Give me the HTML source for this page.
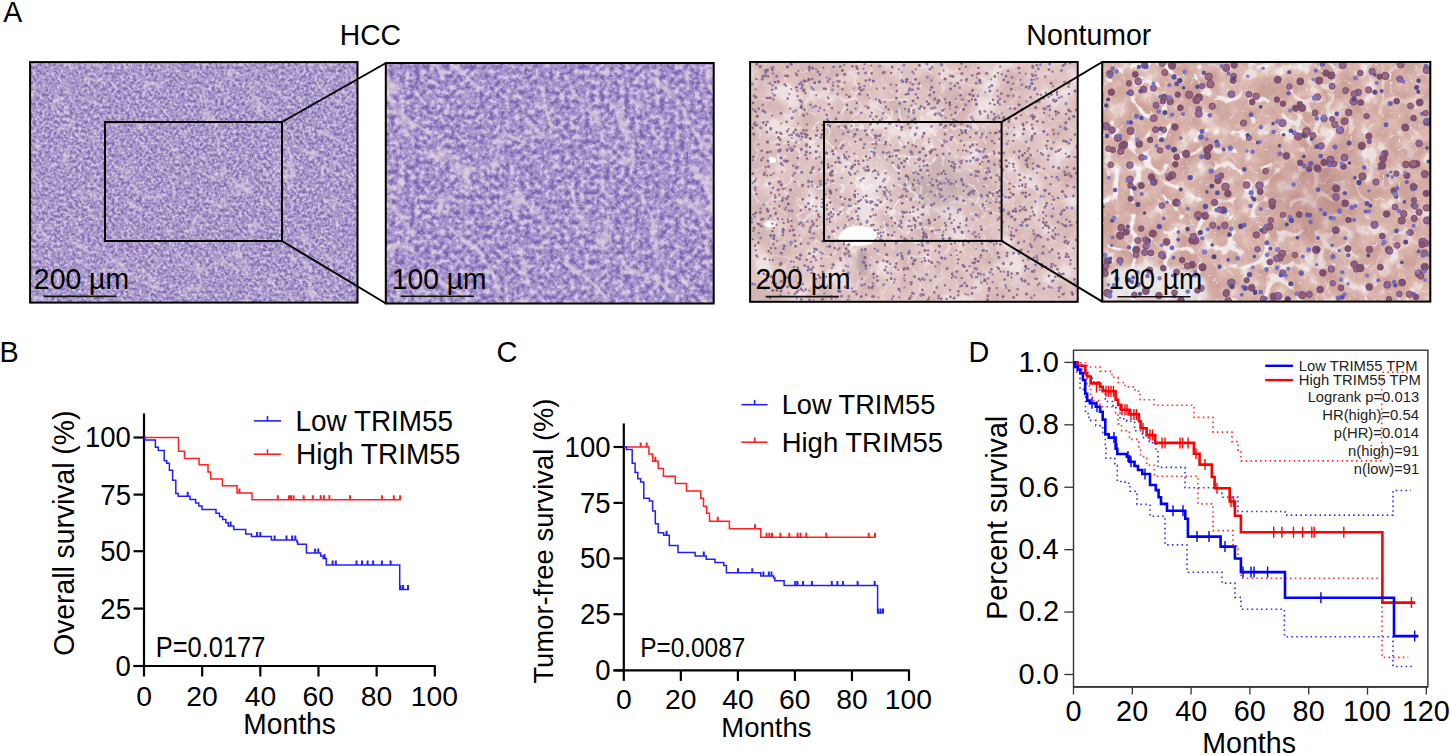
<!DOCTYPE html>
<html><head><meta charset="utf-8"><title>Figure</title>
<style>html,body{margin:0;padding:0;background:#fff;} svg{display:block;} text{font-family:"Liberation Sans",sans-serif;}</style>
</head><body>
<svg width="1450" height="755" viewBox="0 0 1450 755" font-family="Liberation Sans, sans-serif">
<defs>
<clipPath id="clip_i1"><rect x="30.1" y="62.1" width="327.4" height="240.5"/></clipPath>
<clipPath id="clip_i2"><rect x="385.8" y="63" width="327.9" height="240.5"/></clipPath>
<clipPath id="clip_i3"><rect x="750.1" y="62" width="327.6" height="239.8"/></clipPath>
<clipPath id="clip_i4"><rect x="1102.2" y="62" width="328.1" height="239.6"/></clipPath>
<filter id="h1a" x="0" y="0" width="100%" height="100%" color-interpolation-filters="sRGB" filterUnits="objectBoundingBox">
<feTurbulence type="fractalNoise" baseFrequency="0.33" numOctaves="2" seed="7"/>
<feColorMatrix type="matrix" values="1 0 0 0 0 1 0 0 0 0 1 0 0 0 0 1 0 0 0 0"/>
<feComponentTransfer><feFuncR type="table" tableValues="0.502 0.502 0.502 0.502 0.502 0.502 0.502 0.502 0.502 0.502 0.502 0.502 0.502 0.523 0.544 0.565 0.586 0.607 0.627 0.640 0.652 0.665 0.677 0.697 0.722 0.746 0.771 0.795 0.820 0.839 0.839 0.839 0.839 0.839 0.839 0.839 0.839 0.839 0.839 0.839 0.839"/><feFuncG type="table" tableValues="0.424 0.424 0.424 0.424 0.424 0.424 0.424 0.424 0.424 0.424 0.424 0.424 0.424 0.447 0.471 0.494 0.518 0.541 0.565 0.578 0.591 0.605 0.618 0.639 0.664 0.689 0.714 0.739 0.764 0.784 0.784 0.784 0.784 0.784 0.784 0.784 0.784 0.784 0.784 0.784 0.784"/><feFuncB type="table" tableValues="0.690 0.690 0.690 0.690 0.690 0.690 0.690 0.690 0.690 0.690 0.690 0.690 0.690 0.706 0.722 0.737 0.753 0.769 0.784 0.791 0.797 0.803 0.809 0.818 0.828 0.839 0.849 0.860 0.870 0.878 0.878 0.878 0.878 0.878 0.878 0.878 0.878 0.878 0.878 0.878 0.878"/><feFuncA type="table" tableValues="1.000 1.000 1.000 1.000 1.000 1.000 1.000 1.000 1.000 1.000 1.000 1.000 1.000 1.000 1.000 1.000 1.000 1.000 1.000 1.000 1.000 1.000 1.000 1.000 1.000 1.000 1.000 1.000 1.000 1.000 1.000 1.000 1.000 1.000 1.000 1.000 1.000 1.000 1.000 1.000 1.000"/></feComponentTransfer>
</filter>
<filter id="h1b" x="0" y="0" width="100%" height="100%" color-interpolation-filters="sRGB" filterUnits="objectBoundingBox">
<feTurbulence type="turbulence" baseFrequency="0.022 0.05" numOctaves="2" seed="3"/>
<feColorMatrix type="matrix" values="1 0 0 0 0 1 0 0 0 0 1 0 0 0 0 1 0 0 0 0"/>
<feComponentTransfer><feFuncR type="table" tableValues="0.886 0.886 0.886 0.886 0.886 0.886 0.886 0.886 0.886 0.886 0.886 0.886 0.886 0.886 0.886 0.886 0.886 0.886 0.886 0.886 0.886 0.886 0.886 0.886 0.886 0.886 0.886 0.886 0.886 0.886 0.886 0.886 0.886 0.886 0.886 0.886 0.886 0.886 0.886 0.886 0.886"/><feFuncG type="table" tableValues="0.816 0.816 0.816 0.825 0.835 0.839 0.839 0.839 0.839 0.839 0.839 0.839 0.839 0.839 0.839 0.839 0.839 0.839 0.839 0.839 0.839 0.839 0.839 0.839 0.839 0.839 0.839 0.839 0.839 0.839 0.839 0.839 0.839 0.839 0.839 0.839 0.839 0.839 0.839 0.839 0.839"/><feFuncB type="table" tableValues="0.871 0.871 0.871 0.874 0.877 0.878 0.878 0.878 0.878 0.878 0.878 0.878 0.878 0.878 0.878 0.878 0.878 0.878 0.878 0.878 0.878 0.878 0.878 0.878 0.878 0.878 0.878 0.878 0.878 0.878 0.878 0.878 0.878 0.878 0.878 0.878 0.878 0.878 0.878 0.878 0.878"/><feFuncA type="table" tableValues="0.750 0.625 0.500 0.292 0.083 0.000 0.000 0.000 0.000 0.000 0.000 0.000 0.000 0.000 0.000 0.000 0.000 0.000 0.000 0.000 0.000 0.000 0.000 0.000 0.000 0.000 0.000 0.000 0.000 0.000 0.000 0.000 0.000 0.000 0.000 0.000 0.000 0.000 0.000 0.000 0.000"/></feComponentTransfer>
</filter>
<filter id="h1d" x="0" y="0" width="100%" height="100%" color-interpolation-filters="sRGB" filterUnits="objectBoundingBox">
<feTurbulence type="turbulence" baseFrequency="0.16" numOctaves="2" seed="43"/>
<feColorMatrix type="matrix" values="1 0 0 0 0 1 0 0 0 0 1 0 0 0 0 1 0 0 0 0"/>
<feComponentTransfer><feFuncR type="table" tableValues="0.863 0.863 0.863 0.863 0.863 0.863 0.863 0.863 0.863 0.863 0.863 0.863 0.863 0.863 0.863 0.863 0.863 0.863 0.863 0.863 0.863 0.863 0.863 0.863 0.863 0.863 0.863 0.863 0.863 0.863 0.863 0.863 0.863 0.863 0.863 0.863 0.863 0.863 0.863 0.863 0.863"/><feFuncG type="table" tableValues="0.808 0.808 0.808 0.808 0.808 0.808 0.808 0.808 0.808 0.808 0.808 0.808 0.808 0.808 0.808 0.808 0.808 0.808 0.808 0.808 0.808 0.808 0.808 0.808 0.808 0.808 0.808 0.808 0.808 0.808 0.808 0.808 0.808 0.808 0.808 0.808 0.808 0.808 0.808 0.808 0.808"/><feFuncB type="table" tableValues="0.871 0.871 0.871 0.871 0.871 0.871 0.871 0.871 0.871 0.871 0.871 0.871 0.871 0.871 0.871 0.871 0.871 0.871 0.871 0.871 0.871 0.871 0.871 0.871 0.871 0.871 0.871 0.871 0.871 0.871 0.871 0.871 0.871 0.871 0.871 0.871 0.871 0.871 0.871 0.871 0.871"/><feFuncA type="table" tableValues="0.600 0.475 0.300 0.050 0.000 0.000 0.000 0.000 0.000 0.000 0.000 0.000 0.000 0.000 0.000 0.000 0.000 0.000 0.000 0.000 0.000 0.000 0.000 0.000 0.000 0.000 0.000 0.000 0.000 0.000 0.000 0.000 0.000 0.000 0.000 0.000 0.000 0.000 0.000 0.000 0.000"/></feComponentTransfer>
</filter>
<filter id="h1c" x="0" y="0" width="100%" height="100%" color-interpolation-filters="sRGB" filterUnits="objectBoundingBox">
<feTurbulence type="fractalNoise" baseFrequency="0.5" numOctaves="1" seed="17"/>
<feColorMatrix type="matrix" values="1 0 0 0 0 1 0 0 0 0 1 0 0 0 0 1 0 0 0 0"/>
<feComponentTransfer><feFuncR type="table" tableValues="0.353 0.357 0.362 0.366 0.371 0.375 0.380 0.384 0.389 0.390 0.377 0.365 0.352 0.339 0.327 0.314 0.302 0.289 0.277 0.264 0.251 0.239 0.226 0.214 0.201 0.189 0.176 0.163 0.151 0.138 0.126 0.113 0.101 0.088 0.075 0.063 0.050 0.038 0.025 0.013 0.000"/><feFuncG type="table" tableValues="0.275 0.279 0.283 0.288 0.292 0.297 0.301 0.306 0.310 0.312 0.302 0.292 0.282 0.271 0.261 0.251 0.241 0.231 0.221 0.211 0.201 0.191 0.181 0.171 0.161 0.151 0.141 0.131 0.121 0.111 0.101 0.090 0.080 0.070 0.060 0.050 0.040 0.030 0.020 0.010 0.000"/><feFuncB type="table" tableValues="0.471 0.475 0.480 0.484 0.488 0.493 0.497 0.502 0.506 0.507 0.490 0.474 0.458 0.441 0.425 0.408 0.392 0.376 0.359 0.343 0.327 0.310 0.294 0.278 0.261 0.245 0.229 0.212 0.196 0.180 0.163 0.147 0.131 0.114 0.098 0.082 0.065 0.049 0.033 0.016 0.000"/><feFuncA type="table" tableValues="0.900 0.798 0.695 0.593 0.491 0.389 0.286 0.184 0.082 0.000 0.000 0.000 0.000 0.000 0.000 0.000 0.000 0.000 0.000 0.000 0.000 0.000 0.000 0.000 0.000 0.000 0.000 0.000 0.000 0.000 0.000 0.000 0.000 0.000 0.000 0.000 0.000 0.000 0.000 0.000 0.000"/></feComponentTransfer>
</filter>
<filter id="h2a" x="0" y="0" width="100%" height="100%" color-interpolation-filters="sRGB" filterUnits="objectBoundingBox">
<feTurbulence type="fractalNoise" baseFrequency="0.2" numOctaves="2" seed="11"/>
<feColorMatrix type="matrix" values="1 0 0 0 0 1 0 0 0 0 1 0 0 0 0 1 0 0 0 0"/>
<feComponentTransfer><feFuncR type="table" tableValues="0.486 0.486 0.486 0.486 0.486 0.486 0.486 0.486 0.486 0.486 0.486 0.486 0.486 0.508 0.529 0.551 0.573 0.594 0.616 0.630 0.644 0.658 0.673 0.694 0.719 0.744 0.769 0.794 0.819 0.839 0.839 0.839 0.839 0.839 0.839 0.839 0.839 0.839 0.839 0.839 0.839"/><feFuncG type="table" tableValues="0.408 0.408 0.408 0.408 0.408 0.408 0.408 0.408 0.408 0.408 0.408 0.408 0.408 0.431 0.455 0.478 0.502 0.525 0.549 0.564 0.579 0.594 0.610 0.631 0.658 0.684 0.711 0.737 0.763 0.784 0.784 0.784 0.784 0.784 0.784 0.784 0.784 0.784 0.784 0.784 0.784"/><feFuncB type="table" tableValues="0.698 0.698 0.698 0.698 0.698 0.698 0.698 0.698 0.698 0.698 0.698 0.698 0.698 0.712 0.727 0.741 0.756 0.770 0.784 0.791 0.799 0.806 0.813 0.822 0.833 0.844 0.855 0.866 0.877 0.886 0.886 0.886 0.886 0.886 0.886 0.886 0.886 0.886 0.886 0.886 0.886"/><feFuncA type="table" tableValues="1.000 1.000 1.000 1.000 1.000 1.000 1.000 1.000 1.000 1.000 1.000 1.000 1.000 1.000 1.000 1.000 1.000 1.000 1.000 1.000 1.000 1.000 1.000 1.000 1.000 1.000 1.000 1.000 1.000 1.000 1.000 1.000 1.000 1.000 1.000 1.000 1.000 1.000 1.000 1.000 1.000"/></feComponentTransfer>
</filter>
<filter id="h2b" x="0" y="0" width="100%" height="100%" color-interpolation-filters="sRGB" filterUnits="objectBoundingBox">
<feTurbulence type="turbulence" baseFrequency="0.012 0.028" numOctaves="2" seed="5"/>
<feColorMatrix type="matrix" values="1 0 0 0 0 1 0 0 0 0 1 0 0 0 0 1 0 0 0 0"/>
<feComponentTransfer><feFuncR type="table" tableValues="0.894 0.894 0.894 0.894 0.894 0.894 0.894 0.894 0.894 0.894 0.894 0.894 0.894 0.894 0.894 0.894 0.894 0.894 0.894 0.894 0.894 0.894 0.894 0.894 0.894 0.894 0.894 0.894 0.894 0.894 0.894 0.894 0.894 0.894 0.894 0.894 0.894 0.894 0.894 0.894 0.894"/><feFuncG type="table" tableValues="0.824 0.824 0.824 0.833 0.843 0.847 0.847 0.847 0.847 0.847 0.847 0.847 0.847 0.847 0.847 0.847 0.847 0.847 0.847 0.847 0.847 0.847 0.847 0.847 0.847 0.847 0.847 0.847 0.847 0.847 0.847 0.847 0.847 0.847 0.847 0.847 0.847 0.847 0.847 0.847 0.847"/><feFuncB type="table" tableValues="0.878 0.878 0.878 0.882 0.885 0.886 0.886 0.886 0.886 0.886 0.886 0.886 0.886 0.886 0.886 0.886 0.886 0.886 0.886 0.886 0.886 0.886 0.886 0.886 0.886 0.886 0.886 0.886 0.886 0.886 0.886 0.886 0.886 0.886 0.886 0.886 0.886 0.886 0.886 0.886 0.886"/><feFuncA type="table" tableValues="0.800 0.675 0.550 0.321 0.092 0.000 0.000 0.000 0.000 0.000 0.000 0.000 0.000 0.000 0.000 0.000 0.000 0.000 0.000 0.000 0.000 0.000 0.000 0.000 0.000 0.000 0.000 0.000 0.000 0.000 0.000 0.000 0.000 0.000 0.000 0.000 0.000 0.000 0.000 0.000 0.000"/></feComponentTransfer>
</filter>
<filter id="h2d" x="0" y="0" width="100%" height="100%" color-interpolation-filters="sRGB" filterUnits="objectBoundingBox">
<feTurbulence type="turbulence" baseFrequency="0.09" numOctaves="2" seed="41"/>
<feColorMatrix type="matrix" values="1 0 0 0 0 1 0 0 0 0 1 0 0 0 0 1 0 0 0 0"/>
<feComponentTransfer><feFuncR type="table" tableValues="0.871 0.871 0.871 0.871 0.871 0.871 0.871 0.871 0.871 0.871 0.871 0.871 0.871 0.871 0.871 0.871 0.871 0.871 0.871 0.871 0.871 0.871 0.871 0.871 0.871 0.871 0.871 0.871 0.871 0.871 0.871 0.871 0.871 0.871 0.871 0.871 0.871 0.871 0.871 0.871 0.871"/><feFuncG type="table" tableValues="0.816 0.816 0.816 0.816 0.816 0.816 0.816 0.816 0.816 0.816 0.816 0.816 0.816 0.816 0.816 0.816 0.816 0.816 0.816 0.816 0.816 0.816 0.816 0.816 0.816 0.816 0.816 0.816 0.816 0.816 0.816 0.816 0.816 0.816 0.816 0.816 0.816 0.816 0.816 0.816 0.816"/><feFuncB type="table" tableValues="0.878 0.878 0.878 0.878 0.878 0.878 0.878 0.878 0.878 0.878 0.878 0.878 0.878 0.878 0.878 0.878 0.878 0.878 0.878 0.878 0.878 0.878 0.878 0.878 0.878 0.878 0.878 0.878 0.878 0.878 0.878 0.878 0.878 0.878 0.878 0.878 0.878 0.878 0.878 0.878 0.878"/><feFuncA type="table" tableValues="0.700 0.544 0.337 0.056 0.000 0.000 0.000 0.000 0.000 0.000 0.000 0.000 0.000 0.000 0.000 0.000 0.000 0.000 0.000 0.000 0.000 0.000 0.000 0.000 0.000 0.000 0.000 0.000 0.000 0.000 0.000 0.000 0.000 0.000 0.000 0.000 0.000 0.000 0.000 0.000 0.000"/></feComponentTransfer>
</filter>
<filter id="h2c" x="0" y="0" width="100%" height="100%" color-interpolation-filters="sRGB" filterUnits="objectBoundingBox">
<feTurbulence type="fractalNoise" baseFrequency="0.25" numOctaves="1" seed="19"/>
<feColorMatrix type="matrix" values="1 0 0 0 0 1 0 0 0 0 1 0 0 0 0 1 0 0 0 0"/>
<feComponentTransfer><feFuncR type="table" tableValues="0.314 0.324 0.333 0.343 0.353 0.363 0.373 0.382 0.392 0.380 0.368 0.355 0.343 0.331 0.319 0.306 0.294 0.282 0.270 0.257 0.245 0.233 0.221 0.208 0.196 0.184 0.172 0.159 0.147 0.135 0.123 0.110 0.098 0.086 0.074 0.061 0.049 0.037 0.025 0.012 0.000"/><feFuncG type="table" tableValues="0.235 0.245 0.255 0.265 0.275 0.284 0.294 0.304 0.314 0.304 0.294 0.284 0.275 0.265 0.255 0.245 0.235 0.225 0.216 0.206 0.196 0.186 0.176 0.167 0.157 0.147 0.137 0.127 0.118 0.108 0.098 0.088 0.078 0.069 0.059 0.049 0.039 0.029 0.020 0.010 0.000"/><feFuncB type="table" tableValues="0.510 0.520 0.529 0.539 0.549 0.559 0.569 0.578 0.588 0.570 0.551 0.533 0.515 0.496 0.478 0.460 0.441 0.423 0.404 0.386 0.368 0.349 0.331 0.313 0.294 0.276 0.257 0.239 0.221 0.202 0.184 0.165 0.147 0.129 0.110 0.092 0.074 0.055 0.037 0.018 0.000"/><feFuncA type="table" tableValues="0.900 0.787 0.675 0.562 0.450 0.338 0.225 0.113 0.000 0.000 0.000 0.000 0.000 0.000 0.000 0.000 0.000 0.000 0.000 0.000 0.000 0.000 0.000 0.000 0.000 0.000 0.000 0.000 0.000 0.000 0.000 0.000 0.000 0.000 0.000 0.000 0.000 0.000 0.000 0.000 0.000"/></feComponentTransfer>
</filter>
<filter id="t3a" x="0" y="0" width="100%" height="100%" color-interpolation-filters="sRGB" filterUnits="objectBoundingBox">
<feTurbulence type="fractalNoise" baseFrequency="0.035" numOctaves="3" seed="5"/>
<feColorMatrix type="matrix" values="1 0 0 0 0 1 0 0 0 0 1 0 0 0 0 1 0 0 0 0"/>
<feComponentTransfer><feFuncR type="table" tableValues="0.831 0.831 0.831 0.831 0.831 0.831 0.831 0.831 0.831 0.831 0.831 0.831 0.831 0.837 0.843 0.849 0.854 0.860 0.866 0.871 0.875 0.878 0.882 0.886 0.892 0.900 0.907 0.914 0.922 0.929 0.933 0.933 0.933 0.933 0.933 0.933 0.933 0.933 0.933 0.933 0.933"/><feFuncG type="table" tableValues="0.714 0.714 0.714 0.714 0.714 0.714 0.714 0.714 0.714 0.714 0.714 0.714 0.714 0.721 0.728 0.734 0.741 0.748 0.755 0.762 0.767 0.773 0.778 0.783 0.797 0.813 0.829 0.845 0.861 0.877 0.886 0.886 0.886 0.886 0.886 0.886 0.886 0.886 0.886 0.886 0.886"/><feFuncB type="table" tableValues="0.706 0.706 0.706 0.706 0.706 0.706 0.706 0.706 0.706 0.706 0.706 0.706 0.706 0.713 0.720 0.727 0.734 0.740 0.747 0.754 0.759 0.765 0.770 0.775 0.790 0.807 0.825 0.842 0.859 0.876 0.886 0.886 0.886 0.886 0.886 0.886 0.886 0.886 0.886 0.886 0.886"/><feFuncA type="table" tableValues="1.000 1.000 1.000 1.000 1.000 1.000 1.000 1.000 1.000 1.000 1.000 1.000 1.000 1.000 1.000 1.000 1.000 1.000 1.000 1.000 1.000 1.000 1.000 1.000 1.000 1.000 1.000 1.000 1.000 1.000 1.000 1.000 1.000 1.000 1.000 1.000 1.000 1.000 1.000 1.000 1.000"/></feComponentTransfer>
</filter>
<filter id="t3b" x="0" y="0" width="100%" height="100%" color-interpolation-filters="sRGB" filterUnits="objectBoundingBox">
<feTurbulence type="turbulence" baseFrequency="0.07" numOctaves="2" seed="23"/>
<feColorMatrix type="matrix" values="1 0 0 0 0 1 0 0 0 0 1 0 0 0 0 1 0 0 0 0"/>
<feComponentTransfer><feFuncR type="table" tableValues="0.965 0.965 0.965 0.965 0.962 0.959 0.957 0.957 0.957 0.958 0.958 0.958 0.958 0.959 0.959 0.959 0.959 0.959 0.960 0.960 0.960 0.960 0.961 0.961 0.961 0.961 0.962 0.962 0.962 0.962 0.962 0.963 0.963 0.963 0.963 0.964 0.964 0.964 0.964 0.964 0.965"/><feFuncG type="table" tableValues="0.957 0.957 0.957 0.957 0.954 0.951 0.949 0.949 0.950 0.950 0.950 0.950 0.950 0.951 0.951 0.951 0.951 0.952 0.952 0.952 0.952 0.953 0.953 0.953 0.953 0.953 0.954 0.954 0.954 0.954 0.955 0.955 0.955 0.955 0.955 0.956 0.956 0.956 0.956 0.957 0.957"/><feFuncB type="table" tableValues="0.965 0.965 0.965 0.965 0.962 0.959 0.957 0.957 0.957 0.958 0.958 0.958 0.958 0.959 0.959 0.959 0.959 0.959 0.960 0.960 0.960 0.960 0.961 0.961 0.961 0.961 0.962 0.962 0.962 0.962 0.962 0.963 0.963 0.963 0.963 0.964 0.964 0.964 0.964 0.964 0.965"/><feFuncA type="table" tableValues="0.950 0.887 0.825 0.762 0.500 0.188 0.000 0.000 0.000 0.000 0.000 0.000 0.000 0.000 0.000 0.000 0.000 0.000 0.000 0.000 0.000 0.000 0.000 0.000 0.000 0.000 0.000 0.000 0.000 0.000 0.000 0.000 0.000 0.000 0.000 0.000 0.000 0.000 0.000 0.000 0.000"/></feComponentTransfer>
</filter>
<radialGradient id="g3m" cx="0.42" cy="0.45" r="0.6"><stop offset="0" stop-color="#fff" stop-opacity="1"/><stop offset="0.35" stop-color="#fff" stop-opacity="0.8"/><stop offset="1" stop-color="#fff" stop-opacity="0.15"/></radialGradient>
<mask id="m3" maskUnits="userSpaceOnUse" x="745" y="58" width="340" height="250"><rect x="745" y="58" width="340" height="250" fill="url(#g3m)"/></mask>
<filter id="blur6" x="-50%" y="-50%" width="200%" height="200%"><feGaussianBlur stdDeviation="10"/></filter>
<filter id="t4a" x="0" y="0" width="100%" height="100%" color-interpolation-filters="sRGB" filterUnits="objectBoundingBox">
<feTurbulence type="fractalNoise" baseFrequency="0.05" numOctaves="3" seed="9"/>
<feColorMatrix type="matrix" values="1 0 0 0 0 1 0 0 0 0 1 0 0 0 0 1 0 0 0 0"/>
<feComponentTransfer><feFuncR type="table" tableValues="0.804 0.804 0.804 0.804 0.804 0.804 0.804 0.804 0.804 0.804 0.804 0.804 0.804 0.809 0.814 0.819 0.824 0.828 0.833 0.838 0.843 0.848 0.853 0.858 0.863 0.869 0.881 0.893 0.905 0.917 0.929 0.929 0.929 0.929 0.929 0.929 0.929 0.929 0.929 0.929 0.929"/><feFuncG type="table" tableValues="0.639 0.639 0.639 0.639 0.639 0.639 0.639 0.639 0.639 0.639 0.639 0.639 0.639 0.646 0.653 0.660 0.667 0.674 0.680 0.687 0.694 0.702 0.710 0.719 0.727 0.739 0.767 0.795 0.823 0.851 0.878 0.878 0.878 0.878 0.878 0.878 0.878 0.878 0.878 0.878 0.878"/><feFuncB type="table" tableValues="0.608 0.608 0.608 0.608 0.608 0.608 0.608 0.608 0.608 0.608 0.608 0.608 0.608 0.615 0.622 0.628 0.635 0.642 0.649 0.656 0.663 0.672 0.681 0.690 0.699 0.712 0.743 0.774 0.805 0.836 0.867 0.867 0.867 0.867 0.867 0.867 0.867 0.867 0.867 0.867 0.867"/><feFuncA type="table" tableValues="1.000 1.000 1.000 1.000 1.000 1.000 1.000 1.000 1.000 1.000 1.000 1.000 1.000 1.000 1.000 1.000 1.000 1.000 1.000 1.000 1.000 1.000 1.000 1.000 1.000 1.000 1.000 1.000 1.000 1.000 1.000 1.000 1.000 1.000 1.000 1.000 1.000 1.000 1.000 1.000 1.000"/></feComponentTransfer>
</filter>
<filter id="t4b" x="0" y="0" width="100%" height="100%" color-interpolation-filters="sRGB" filterUnits="objectBoundingBox">
<feTurbulence type="turbulence" baseFrequency="0.03" numOctaves="2" seed="3"/>
<feColorMatrix type="matrix" values="1 0 0 0 0 1 0 0 0 0 1 0 0 0 0 1 0 0 0 0"/>
<feComponentTransfer><feFuncR type="table" tableValues="0.965 0.965 0.965 0.964 0.960 0.957 0.956 0.956 0.955 0.955 0.955 0.954 0.954 0.953 0.953 0.952 0.952 0.951 0.951 0.951 0.950 0.950 0.949 0.949 0.948 0.948 0.947 0.947 0.947 0.946 0.946 0.945 0.945 0.944 0.944 0.943 0.943 0.943 0.942 0.942 0.941"/><feFuncG type="table" tableValues="0.957 0.957 0.957 0.955 0.947 0.941 0.941 0.940 0.940 0.939 0.939 0.938 0.938 0.938 0.937 0.937 0.936 0.936 0.935 0.935 0.934 0.934 0.934 0.933 0.933 0.932 0.932 0.931 0.931 0.930 0.930 0.930 0.929 0.929 0.928 0.928 0.927 0.927 0.926 0.926 0.925"/><feFuncB type="table" tableValues="0.965 0.965 0.965 0.963 0.955 0.949 0.948 0.948 0.948 0.947 0.947 0.946 0.946 0.945 0.945 0.944 0.944 0.944 0.943 0.943 0.942 0.942 0.941 0.941 0.940 0.940 0.940 0.939 0.939 0.938 0.938 0.937 0.937 0.936 0.936 0.936 0.935 0.935 0.934 0.934 0.933"/><feFuncA type="table" tableValues="1.000 0.964 0.929 0.810 0.360 0.000 0.000 0.000 0.000 0.000 0.000 0.000 0.000 0.000 0.000 0.000 0.000 0.000 0.000 0.000 0.000 0.000 0.000 0.000 0.000 0.000 0.000 0.000 0.000 0.000 0.000 0.000 0.000 0.000 0.000 0.000 0.000 0.000 0.000 0.000 0.000"/></feComponentTransfer>
</filter>
<filter id="t4c" x="0" y="0" width="100%" height="100%" color-interpolation-filters="sRGB" filterUnits="objectBoundingBox">
<feTurbulence type="turbulence" baseFrequency="0.06" numOctaves="2" seed="31"/>
<feColorMatrix type="matrix" values="1 0 0 0 0 1 0 0 0 0 1 0 0 0 0 1 0 0 0 0"/>
<feComponentTransfer><feFuncR type="table" tableValues="0.965 0.965 0.959 0.957 0.956 0.956 0.955 0.955 0.955 0.954 0.954 0.953 0.953 0.952 0.952 0.952 0.951 0.951 0.950 0.950 0.950 0.949 0.949 0.948 0.948 0.947 0.947 0.947 0.946 0.946 0.945 0.945 0.945 0.944 0.944 0.943 0.943 0.942 0.942 0.942 0.941"/><feFuncG type="table" tableValues="0.957 0.957 0.946 0.941 0.941 0.940 0.940 0.939 0.939 0.938 0.938 0.938 0.937 0.937 0.936 0.936 0.936 0.935 0.935 0.934 0.934 0.933 0.933 0.933 0.932 0.932 0.931 0.931 0.930 0.930 0.930 0.929 0.929 0.928 0.928 0.928 0.927 0.927 0.926 0.926 0.925"/><feFuncB type="table" tableValues="0.965 0.965 0.954 0.949 0.948 0.948 0.948 0.947 0.947 0.946 0.946 0.945 0.945 0.945 0.944 0.944 0.943 0.943 0.943 0.942 0.942 0.941 0.941 0.940 0.940 0.940 0.939 0.939 0.938 0.938 0.938 0.937 0.937 0.936 0.936 0.935 0.935 0.935 0.934 0.934 0.933"/><feFuncA type="table" tableValues="0.700 0.450 0.133 0.000 0.000 0.000 0.000 0.000 0.000 0.000 0.000 0.000 0.000 0.000 0.000 0.000 0.000 0.000 0.000 0.000 0.000 0.000 0.000 0.000 0.000 0.000 0.000 0.000 0.000 0.000 0.000 0.000 0.000 0.000 0.000 0.000 0.000 0.000 0.000 0.000 0.000"/></feComponentTransfer>
</filter>
<linearGradient id="g4m" x1="0" y1="0" x2="1" y2="0"><stop offset="0" stop-color="#fff" stop-opacity="1"/><stop offset="0.5" stop-color="#fff" stop-opacity="0.85"/><stop offset="1" stop-color="#fff" stop-opacity="0.25"/></linearGradient>
<mask id="m4" maskUnits="userSpaceOnUse" x="1100" y="60" width="335" height="245"><rect x="1100" y="60" width="335" height="245" fill="url(#g4m)"/></mask>
<filter id="blur2" x="-20%" y="-20%" width="140%" height="140%"><feGaussianBlur stdDeviation="2"/></filter>
<filter id="nb" x="-5%" y="-5%" width="110%" height="110%"><feGaussianBlur stdDeviation="0.45"/></filter>
<filter id="nb4" x="-5%" y="-5%" width="110%" height="110%"><feGaussianBlur stdDeviation="0.6"/></filter>
</defs>
<rect width="1450" height="755" fill="#fff"/>
<g clip-path="url(#clip_i1)">
<rect x="30" y="62" width="327.5" height="240.5" fill="#a59cc6"/>
<rect x="30.1" y="62.1" width="327.4" height="240.5" filter="url(#h1a)"/>
<rect x="30.1" y="62.1" width="327.4" height="240.5" filter="url(#h1d)"/>
<rect x="-106.20000000000002" y="-117.65" width="600" height="600" filter="url(#h1b)" transform="rotate(50 193.79999999999998 182.35)"/>
<rect x="30.1" y="62.1" width="327.4" height="240.5" filter="url(#h1c)"/>
</g>
<g clip-path="url(#clip_i2)">
<rect x="386" y="63" width="327.7" height="240.5" fill="#a59cc6"/>
<rect x="385.8" y="63" width="327.9" height="240.5" filter="url(#h2a)"/>
<rect x="385.8" y="63" width="327.9" height="240.5" filter="url(#h2d)"/>
<rect x="249.75" y="-116.75" width="600" height="600" filter="url(#h2b)" transform="rotate(50 549.75 183.25)"/>
<rect x="385.8" y="63" width="327.9" height="240.5" filter="url(#h2c)"/>
</g>
<g clip-path="url(#clip_i3)">
<rect x="750" y="62" width="327.7" height="239" fill="#dcbdb5"/>
<rect x="750.1" y="62" width="327.6" height="239.8" filter="url(#t3a)"/>
<g mask="url(#m3)">
<rect x="750.1" y="62" width="327.6" height="239.8" filter="url(#t3b)"/>
</g>
<ellipse cx="940" cy="188" rx="28" ry="26" fill="#8a7a88" opacity="0.24" filter="url(#blur6)"/>
<ellipse cx="870" cy="180" rx="35" ry="30" fill="#f6f0f0" opacity="0.3" filter="url(#blur6)"/>
<path d="M838,238 Q842,226 858,226 Q876,227 880,236 Q874,246 858,246 Q842,246 838,238 Z" fill="#fcfcfc"/>
<ellipse cx="862" cy="262" rx="5" ry="13" fill="#958a98" opacity="0.55" filter="url(#blur2)"/>
<ellipse cx="772" cy="160" rx="4" ry="3" fill="#fafafa"/>
<ellipse cx="770" cy="224" rx="6" ry="3.5" fill="#fafafa"/>
</g>
<g clip-path="url(#clip_i4)">
<rect x="1102.2" y="62" width="328.1" height="239.6" fill="#d6aea5"/>
<rect x="1102.2" y="62" width="328.1" height="239.6" filter="url(#t4a)"/>
<g mask="url(#m4)">
<rect x="1102.2" y="62" width="328.1" height="239.6" filter="url(#t4b)"/>
</g>
<rect x="1102.2" y="62" width="328.1" height="239.6" filter="url(#t4c)"/>
<ellipse cx="1315" cy="195" rx="40" ry="45" fill="#a8706e" opacity="0.3" filter="url(#blur6)"/>
<path d="M1106,300 L1106,272 Q1130,262 1160,266 Q1190,268 1205,280 L1208,300 Z" fill="#ecebed" opacity="0.85" filter="url(#blur2)"/>
</g>
<g clip-path="url(#clip_i3)"><g filter="url(#nb)" opacity="0.85">
<circle cx="959.5" cy="68.9" r="1.2" fill="#7a5070"/>
<circle cx="796.5" cy="87.3" r="1.4" fill="#6a5a98"/>
<circle cx="943.5" cy="70.5" r="1.1" fill="#7a5070"/>
<circle cx="915.7" cy="69.3" r="1.1" fill="#8a6080"/>
<circle cx="822.9" cy="202.7" r="1.5" fill="#7a5a80"/>
<circle cx="998.4" cy="100.8" r="1.3" fill="#9a7090"/>
<circle cx="801.7" cy="289.9" r="1.2" fill="#6a5a98"/>
<circle cx="874.9" cy="148.1" r="1.2" fill="#9a7090"/>
<circle cx="1014.1" cy="235.9" r="1.3" fill="#8a6080"/>
<circle cx="776.7" cy="132.5" r="1.4" fill="#7068a8"/>
<circle cx="939.2" cy="230.0" r="1.0" fill="#7a5070"/>
<circle cx="1003.0" cy="296.5" r="1.5" fill="#6a5a98"/>
<circle cx="874.9" cy="170.5" r="1.5" fill="#8a5a78"/>
<circle cx="871.7" cy="112.7" r="1.2" fill="#6a5a98"/>
<circle cx="949.6" cy="103.6" r="1.4" fill="#8a5a78"/>
<circle cx="901.7" cy="127.0" r="1.6" fill="#7a5070"/>
<circle cx="974.2" cy="262.8" r="1.5" fill="#7a5070"/>
<circle cx="1018.9" cy="253.8" r="1.2" fill="#6a5a98"/>
<circle cx="819.8" cy="286.5" r="1.5" fill="#7068a8"/>
<circle cx="820.3" cy="181.3" r="1.5" fill="#7a78b8"/>
<circle cx="797.6" cy="96.1" r="1.4" fill="#9a7090"/>
<circle cx="994.5" cy="164.5" r="1.4" fill="#7068a8"/>
<circle cx="822.5" cy="299.4" r="1.3" fill="#6a5a98"/>
<circle cx="997.4" cy="267.1" r="1.1" fill="#8a5a78"/>
<circle cx="1009.2" cy="163.1" r="1.0" fill="#8a6080"/>
<circle cx="945.3" cy="173.9" r="1.2" fill="#7a5a80"/>
<circle cx="972.8" cy="90.1" r="1.5" fill="#9a7090"/>
<circle cx="1001.6" cy="143.6" r="1.2" fill="#8a5a78"/>
<circle cx="898.9" cy="289.1" r="1.5" fill="#9a7090"/>
<circle cx="1067.8" cy="243.6" r="1.3" fill="#6a5a98"/>
<circle cx="1034.8" cy="133.7" r="1.4" fill="#7a5070"/>
<circle cx="800.8" cy="243.7" r="1.3" fill="#7a5a80"/>
<circle cx="946.3" cy="178.8" r="1.1" fill="#7068a8"/>
<circle cx="1037.5" cy="260.1" r="1.2" fill="#7a5a80"/>
<circle cx="829.5" cy="197.5" r="1.0" fill="#7a78b8"/>
<circle cx="1017.0" cy="294.8" r="1.3" fill="#8a5a78"/>
<circle cx="792.9" cy="175.6" r="1.3" fill="#9a7090"/>
<circle cx="923.0" cy="206.8" r="1.6" fill="#7a5070"/>
<circle cx="983.4" cy="157.6" r="1.4" fill="#7068a8"/>
<circle cx="893.8" cy="185.7" r="1.1" fill="#7a5070"/>
<circle cx="771.9" cy="68.0" r="1.3" fill="#7a5070"/>
<circle cx="753.3" cy="230.8" r="1.0" fill="#6a5a98"/>
<circle cx="1046.2" cy="266.7" r="1.0" fill="#7a5070"/>
<circle cx="841.8" cy="178.0" r="1.3" fill="#7a78b8"/>
<circle cx="830.2" cy="175.1" r="1.2" fill="#6a5a98"/>
<circle cx="782.6" cy="165.2" r="1.3" fill="#7a78b8"/>
<circle cx="1032.6" cy="75.8" r="1.4" fill="#6a5a98"/>
<circle cx="770.8" cy="235.6" r="1.5" fill="#6a5a98"/>
<circle cx="832.1" cy="108.1" r="1.3" fill="#8a6080"/>
<circle cx="810.8" cy="172.6" r="1.5" fill="#6a5a98"/>
<circle cx="895.5" cy="267.1" r="1.3" fill="#7a5a80"/>
<circle cx="963.6" cy="191.1" r="1.0" fill="#6a5a98"/>
<circle cx="1053.0" cy="264.1" r="1.1" fill="#7a78b8"/>
<circle cx="907.9" cy="267.9" r="1.5" fill="#8a5a78"/>
<circle cx="874.5" cy="296.5" r="1.2" fill="#7a78b8"/>
<circle cx="844.0" cy="228.1" r="1.4" fill="#7a78b8"/>
<circle cx="801.5" cy="133.3" r="1.6" fill="#7a5a80"/>
<circle cx="994.8" cy="76.5" r="1.4" fill="#8a5a78"/>
<circle cx="769.5" cy="183.4" r="1.5" fill="#6a5a98"/>
<circle cx="945.0" cy="223.0" r="1.1" fill="#6a5a98"/>
<circle cx="1058.0" cy="198.0" r="1.3" fill="#7a5a80"/>
<circle cx="952.9" cy="162.4" r="1.4" fill="#7068a8"/>
<circle cx="1055.7" cy="111.4" r="1.4" fill="#7a5070"/>
<circle cx="837.6" cy="94.0" r="1.4" fill="#7a78b8"/>
<circle cx="854.1" cy="241.2" r="1.0" fill="#7a78b8"/>
<circle cx="953.5" cy="196.4" r="1.1" fill="#7a5070"/>
<circle cx="915.9" cy="94.4" r="1.2" fill="#6a5a98"/>
<circle cx="1037.6" cy="150.6" r="1.1" fill="#9a7090"/>
<circle cx="950.4" cy="297.0" r="1.4" fill="#7a5a80"/>
<circle cx="968.7" cy="194.4" r="1.6" fill="#6a5a98"/>
<circle cx="1057.1" cy="94.8" r="1.1" fill="#6a5a98"/>
<circle cx="993.0" cy="99.8" r="1.2" fill="#7a5070"/>
<circle cx="984.9" cy="111.3" r="1.4" fill="#9a7090"/>
<circle cx="915.8" cy="122.5" r="1.5" fill="#7a5a80"/>
<circle cx="781.1" cy="163.4" r="1.2" fill="#7a5a80"/>
<circle cx="859.7" cy="94.0" r="1.6" fill="#8a5a78"/>
<circle cx="992.6" cy="193.7" r="1.3" fill="#7a5a80"/>
<circle cx="787.5" cy="287.0" r="1.4" fill="#8a5a78"/>
<circle cx="928.9" cy="260.8" r="1.3" fill="#8a5a78"/>
<circle cx="891.1" cy="72.9" r="1.2" fill="#7a5a80"/>
<circle cx="1044.0" cy="112.8" r="1.1" fill="#6a5a98"/>
<circle cx="866.3" cy="195.7" r="1.5" fill="#8a5a78"/>
<circle cx="1052.8" cy="119.1" r="1.1" fill="#8a5a78"/>
<circle cx="1038.3" cy="68.9" r="1.4" fill="#7068a8"/>
<circle cx="1006.1" cy="160.6" r="1.4" fill="#7a5070"/>
<circle cx="838.0" cy="249.6" r="1.1" fill="#7a5a80"/>
<circle cx="1030.9" cy="115.7" r="1.5" fill="#7a78b8"/>
<circle cx="865.0" cy="257.5" r="1.5" fill="#7a5070"/>
<circle cx="758.7" cy="108.8" r="1.2" fill="#6a5a98"/>
<circle cx="1066.2" cy="129.2" r="1.4" fill="#8a6080"/>
<circle cx="972.5" cy="262.9" r="1.2" fill="#7a5a80"/>
<circle cx="788.6" cy="293.0" r="1.1" fill="#9a7090"/>
<circle cx="763.5" cy="204.4" r="1.2" fill="#7068a8"/>
<circle cx="893.3" cy="296.3" r="1.1" fill="#7a5070"/>
<circle cx="834.0" cy="231.0" r="1.0" fill="#7a5070"/>
<circle cx="869.7" cy="79.6" r="1.4" fill="#7068a8"/>
<circle cx="954.1" cy="220.2" r="1.1" fill="#9a7090"/>
<circle cx="916.3" cy="221.1" r="1.2" fill="#9a7090"/>
<circle cx="931.7" cy="108.5" r="1.4" fill="#8a6080"/>
<circle cx="971.8" cy="277.0" r="1.4" fill="#9a7090"/>
<circle cx="883.4" cy="260.6" r="1.2" fill="#7a5070"/>
<circle cx="891.1" cy="200.5" r="1.4" fill="#7a78b8"/>
<circle cx="895.0" cy="223.1" r="1.3" fill="#8a5a78"/>
<circle cx="965.8" cy="130.3" r="1.4" fill="#7068a8"/>
<circle cx="781.4" cy="288.6" r="1.1" fill="#9a7090"/>
<circle cx="824.2" cy="110.2" r="1.0" fill="#7a5070"/>
<circle cx="1071.8" cy="207.9" r="1.5" fill="#7a78b8"/>
<circle cx="886.1" cy="212.3" r="1.1" fill="#8a6080"/>
<circle cx="912.2" cy="120.8" r="1.4" fill="#7a5a80"/>
<circle cx="1042.0" cy="266.9" r="1.5" fill="#8a6080"/>
<circle cx="822.3" cy="253.6" r="1.4" fill="#7a78b8"/>
<circle cx="767.4" cy="122.1" r="1.5" fill="#7a78b8"/>
<circle cx="794.5" cy="173.1" r="1.3" fill="#7068a8"/>
<circle cx="1060.7" cy="274.3" r="1.4" fill="#8a6080"/>
<circle cx="1021.8" cy="192.8" r="1.5" fill="#7a78b8"/>
<circle cx="897.7" cy="241.2" r="1.5" fill="#9a7090"/>
<circle cx="1000.7" cy="186.5" r="1.4" fill="#9a7090"/>
<circle cx="894.4" cy="232.1" r="1.1" fill="#7068a8"/>
<circle cx="855.2" cy="191.0" r="1.1" fill="#7a5070"/>
<circle cx="875.9" cy="99.2" r="1.1" fill="#8a6080"/>
<circle cx="883.9" cy="191.6" r="1.2" fill="#7a5070"/>
<circle cx="1022.5" cy="155.3" r="1.5" fill="#7a5a80"/>
<circle cx="1030.3" cy="244.4" r="1.2" fill="#7a5a80"/>
<circle cx="1058.3" cy="133.8" r="1.2" fill="#8a6080"/>
<circle cx="926.5" cy="237.1" r="1.5" fill="#7a5070"/>
<circle cx="910.2" cy="127.7" r="1.3" fill="#8a6080"/>
<circle cx="860.6" cy="224.0" r="1.2" fill="#8a5a78"/>
<circle cx="1025.0" cy="280.9" r="1.6" fill="#7a5a80"/>
<circle cx="1046.7" cy="203.3" r="1.4" fill="#6a5a98"/>
<circle cx="960.5" cy="95.2" r="1.3" fill="#7a5a80"/>
<circle cx="835.8" cy="140.6" r="1.3" fill="#7068a8"/>
<circle cx="999.2" cy="152.9" r="1.5" fill="#8a6080"/>
<circle cx="833.2" cy="82.4" r="1.0" fill="#7a5a80"/>
<circle cx="1077.0" cy="145.9" r="1.4" fill="#7a5a80"/>
<circle cx="996.9" cy="288.1" r="1.1" fill="#7a5a80"/>
<circle cx="953.6" cy="119.5" r="1.3" fill="#6a5a98"/>
<circle cx="934.9" cy="114.7" r="1.4" fill="#7068a8"/>
<circle cx="805.7" cy="206.9" r="1.4" fill="#6a5a98"/>
<circle cx="1004.6" cy="101.8" r="1.2" fill="#7a5a80"/>
<circle cx="1053.8" cy="199.5" r="1.5" fill="#8a6080"/>
<circle cx="880.3" cy="232.5" r="1.0" fill="#7a5070"/>
<circle cx="784.2" cy="246.1" r="1.5" fill="#6a5a98"/>
<circle cx="1010.6" cy="197.1" r="1.0" fill="#8a6080"/>
<circle cx="966.7" cy="79.3" r="1.4" fill="#7a5a80"/>
<circle cx="1028.0" cy="257.9" r="1.1" fill="#7068a8"/>
<circle cx="958.2" cy="259.4" r="1.4" fill="#8a6080"/>
<circle cx="808.4" cy="186.7" r="1.4" fill="#7a78b8"/>
<circle cx="902.5" cy="258.7" r="1.4" fill="#7068a8"/>
<circle cx="1028.7" cy="259.9" r="1.1" fill="#7a78b8"/>
<circle cx="830.5" cy="173.1" r="1.4" fill="#8a6080"/>
<circle cx="860.7" cy="180.2" r="1.2" fill="#7a78b8"/>
<circle cx="820.2" cy="252.1" r="1.2" fill="#9a7090"/>
<circle cx="932.2" cy="185.4" r="1.1" fill="#7a5070"/>
<circle cx="985.7" cy="178.8" r="1.5" fill="#7a78b8"/>
<circle cx="961.6" cy="179.3" r="1.5" fill="#6a5a98"/>
<circle cx="846.9" cy="158.8" r="1.1" fill="#7068a8"/>
<circle cx="905.3" cy="188.8" r="1.3" fill="#7068a8"/>
<circle cx="865.7" cy="170.5" r="1.2" fill="#7a5070"/>
<circle cx="790.3" cy="108.6" r="1.1" fill="#8a5a78"/>
<circle cx="813.4" cy="238.0" r="1.2" fill="#9a7090"/>
<circle cx="1070.6" cy="260.3" r="1.2" fill="#7068a8"/>
<circle cx="809.5" cy="66.4" r="1.3" fill="#9a7090"/>
<circle cx="765.8" cy="75.9" r="1.2" fill="#8a5a78"/>
<circle cx="958.9" cy="241.4" r="1.1" fill="#7a5a80"/>
<circle cx="938.1" cy="174.2" r="1.3" fill="#8a5a78"/>
<circle cx="1065.8" cy="122.8" r="1.5" fill="#6a5a98"/>
<circle cx="1019.0" cy="158.0" r="1.0" fill="#7a5a80"/>
<circle cx="800.5" cy="255.2" r="1.6" fill="#6a5a98"/>
<circle cx="1075.0" cy="91.1" r="1.5" fill="#7a5070"/>
<circle cx="1003.9" cy="153.1" r="1.5" fill="#9a7090"/>
<circle cx="1031.4" cy="297.6" r="1.2" fill="#7a5a80"/>
<circle cx="949.7" cy="238.4" r="1.6" fill="#7a5070"/>
<circle cx="954.9" cy="125.7" r="1.0" fill="#7a5070"/>
<circle cx="807.7" cy="80.8" r="1.0" fill="#7a78b8"/>
<circle cx="975.7" cy="174.4" r="1.0" fill="#9a7090"/>
<circle cx="981.5" cy="229.6" r="1.3" fill="#7a5070"/>
<circle cx="1052.2" cy="249.7" r="1.4" fill="#7a5070"/>
<circle cx="889.6" cy="192.1" r="1.4" fill="#9a7090"/>
<circle cx="1020.5" cy="79.9" r="1.1" fill="#9a7090"/>
<circle cx="945.0" cy="258.3" r="1.6" fill="#7a78b8"/>
<circle cx="791.5" cy="226.2" r="1.4" fill="#9a7090"/>
<circle cx="914.2" cy="180.0" r="1.0" fill="#7a5a80"/>
<circle cx="1041.0" cy="237.1" r="1.4" fill="#7a5a80"/>
<circle cx="780.8" cy="291.0" r="1.5" fill="#7a5a80"/>
<circle cx="1076.9" cy="222.3" r="1.2" fill="#7a5a80"/>
<circle cx="999.8" cy="104.5" r="1.3" fill="#7a78b8"/>
<circle cx="1049.6" cy="106.0" r="1.4" fill="#7a78b8"/>
<circle cx="1066.9" cy="174.4" r="1.2" fill="#7068a8"/>
<circle cx="969.5" cy="266.3" r="1.2" fill="#7a78b8"/>
<circle cx="845.0" cy="287.0" r="1.5" fill="#7a5a80"/>
<circle cx="899.3" cy="137.5" r="1.2" fill="#8a6080"/>
<circle cx="1033.0" cy="258.5" r="1.0" fill="#7a78b8"/>
<circle cx="885.7" cy="107.5" r="1.2" fill="#7a78b8"/>
<circle cx="954.9" cy="243.1" r="1.1" fill="#8a5a78"/>
<circle cx="1053.4" cy="166.8" r="1.4" fill="#6a5a98"/>
<circle cx="760.4" cy="212.3" r="1.5" fill="#8a5a78"/>
<circle cx="852.3" cy="66.2" r="1.2" fill="#7a5070"/>
<circle cx="1074.5" cy="279.4" r="1.3" fill="#6a5a98"/>
<circle cx="962.2" cy="99.5" r="1.6" fill="#9a7090"/>
<circle cx="916.9" cy="127.8" r="1.5" fill="#7a78b8"/>
<circle cx="830.5" cy="193.6" r="1.2" fill="#8a5a78"/>
<circle cx="1032.7" cy="128.5" r="1.5" fill="#8a6080"/>
<circle cx="861.8" cy="249.7" r="1.2" fill="#7a5a80"/>
<circle cx="843.2" cy="133.8" r="1.4" fill="#7a78b8"/>
<circle cx="1033.1" cy="168.8" r="1.3" fill="#7068a8"/>
<circle cx="930.9" cy="191.8" r="1.3" fill="#7068a8"/>
<circle cx="1034.5" cy="295.4" r="1.1" fill="#8a6080"/>
<circle cx="827.1" cy="246.8" r="1.0" fill="#7a78b8"/>
<circle cx="980.9" cy="255.3" r="1.2" fill="#8a5a78"/>
<circle cx="912.5" cy="71.8" r="1.3" fill="#7068a8"/>
<circle cx="1034.5" cy="270.2" r="1.3" fill="#7a78b8"/>
<circle cx="756.0" cy="97.2" r="1.5" fill="#8a5a78"/>
<circle cx="775.4" cy="248.2" r="1.2" fill="#8a6080"/>
<circle cx="962.8" cy="264.9" r="1.5" fill="#8a6080"/>
<circle cx="1062.0" cy="211.6" r="1.5" fill="#7a78b8"/>
<circle cx="1035.4" cy="71.5" r="1.0" fill="#9a7090"/>
<circle cx="1076.2" cy="240.0" r="1.3" fill="#6a5a98"/>
<circle cx="998.9" cy="229.8" r="1.1" fill="#8a5a78"/>
<circle cx="977.2" cy="277.1" r="1.0" fill="#7a5a80"/>
<circle cx="846.6" cy="151.8" r="1.1" fill="#8a6080"/>
<circle cx="935.5" cy="250.8" r="1.1" fill="#6a5a98"/>
<circle cx="949.7" cy="153.7" r="1.4" fill="#7a78b8"/>
<circle cx="1048.6" cy="96.9" r="1.3" fill="#9a7090"/>
<circle cx="900.8" cy="221.0" r="1.5" fill="#7a78b8"/>
<circle cx="1044.8" cy="223.6" r="1.1" fill="#7a78b8"/>
<circle cx="1059.1" cy="297.1" r="1.2" fill="#8a6080"/>
<circle cx="976.0" cy="171.3" r="1.2" fill="#8a6080"/>
<circle cx="1029.2" cy="88.3" r="1.2" fill="#7068a8"/>
<circle cx="938.4" cy="298.3" r="1.2" fill="#8a6080"/>
<circle cx="840.5" cy="197.1" r="1.4" fill="#7a5a80"/>
<circle cx="1047.9" cy="239.6" r="1.5" fill="#9a7090"/>
<circle cx="1003.9" cy="117.5" r="1.5" fill="#7a5070"/>
<circle cx="958.5" cy="210.2" r="1.4" fill="#8a5a78"/>
<circle cx="955.8" cy="277.1" r="1.4" fill="#9a7090"/>
<circle cx="1008.1" cy="70.9" r="1.2" fill="#8a5a78"/>
<circle cx="780.4" cy="132.9" r="1.4" fill="#8a5a78"/>
<circle cx="816.5" cy="249.4" r="1.5" fill="#7068a8"/>
<circle cx="924.1" cy="279.5" r="1.5" fill="#9a7090"/>
<circle cx="1049.0" cy="286.8" r="1.6" fill="#9a7090"/>
<circle cx="994.4" cy="143.3" r="1.1" fill="#6a5a98"/>
<circle cx="796.9" cy="292.1" r="1.5" fill="#8a6080"/>
<circle cx="1066.3" cy="253.7" r="1.2" fill="#8a6080"/>
<circle cx="755.5" cy="190.2" r="1.3" fill="#9a7090"/>
<circle cx="941.6" cy="257.9" r="1.6" fill="#6a5a98"/>
<circle cx="971.0" cy="174.7" r="1.4" fill="#7068a8"/>
<circle cx="1049.4" cy="115.5" r="1.0" fill="#7a78b8"/>
<circle cx="1047.5" cy="134.6" r="1.2" fill="#8a5a78"/>
<circle cx="765.8" cy="71.8" r="1.6" fill="#6a5a98"/>
<circle cx="782.7" cy="273.3" r="1.1" fill="#7a78b8"/>
<circle cx="871.9" cy="288.0" r="1.4" fill="#8a6080"/>
<circle cx="942.5" cy="235.2" r="1.5" fill="#6a5a98"/>
<circle cx="1022.8" cy="208.9" r="1.6" fill="#9a7090"/>
<circle cx="761.7" cy="150.8" r="1.3" fill="#7a5070"/>
<circle cx="1029.9" cy="86.5" r="1.4" fill="#7068a8"/>
<circle cx="770.7" cy="128.4" r="1.6" fill="#7a78b8"/>
<circle cx="780.9" cy="113.3" r="1.4" fill="#7a5a80"/>
<circle cx="767.5" cy="142.0" r="1.6" fill="#7a5070"/>
<circle cx="773.4" cy="244.3" r="1.1" fill="#7a5070"/>
<circle cx="1016.1" cy="118.2" r="1.5" fill="#7a5a80"/>
<circle cx="841.4" cy="296.2" r="1.6" fill="#9a7090"/>
<circle cx="1011.3" cy="89.1" r="1.5" fill="#8a5a78"/>
<circle cx="755.8" cy="250.2" r="1.1" fill="#7068a8"/>
<circle cx="756.1" cy="125.9" r="1.1" fill="#8a6080"/>
<circle cx="922.5" cy="239.7" r="1.3" fill="#7068a8"/>
<circle cx="918.3" cy="88.8" r="1.3" fill="#7a5a80"/>
<circle cx="988.1" cy="278.4" r="1.4" fill="#9a7090"/>
<circle cx="900.3" cy="291.5" r="1.0" fill="#7a78b8"/>
<circle cx="1027.2" cy="164.0" r="1.1" fill="#7a78b8"/>
<circle cx="775.0" cy="82.1" r="1.4" fill="#6a5a98"/>
<circle cx="792.1" cy="211.0" r="1.4" fill="#7068a8"/>
<circle cx="875.2" cy="204.6" r="1.2" fill="#8a6080"/>
<circle cx="783.3" cy="229.3" r="1.5" fill="#7a5070"/>
<circle cx="891.2" cy="273.5" r="1.2" fill="#7a78b8"/>
<circle cx="881.0" cy="235.9" r="1.2" fill="#7068a8"/>
<circle cx="967.8" cy="151.7" r="1.1" fill="#7a78b8"/>
<circle cx="772.9" cy="260.1" r="1.1" fill="#6a5a98"/>
<circle cx="993.7" cy="151.3" r="1.1" fill="#7a5a80"/>
<circle cx="942.2" cy="196.1" r="1.2" fill="#6a5a98"/>
<circle cx="884.9" cy="270.0" r="1.6" fill="#8a6080"/>
<circle cx="1034.0" cy="233.9" r="1.6" fill="#9a7090"/>
<circle cx="865.6" cy="200.0" r="1.1" fill="#7a78b8"/>
<circle cx="824.1" cy="88.6" r="1.5" fill="#7068a8"/>
<circle cx="788.5" cy="129.0" r="1.1" fill="#8a6080"/>
<circle cx="1026.5" cy="294.0" r="1.5" fill="#7a5a80"/>
<circle cx="949.5" cy="218.9" r="1.4" fill="#7a5a80"/>
<circle cx="809.8" cy="229.5" r="1.2" fill="#7068a8"/>
<circle cx="865.4" cy="106.0" r="1.1" fill="#8a6080"/>
<circle cx="773.7" cy="238.6" r="1.6" fill="#6a5a98"/>
<circle cx="994.2" cy="114.0" r="1.3" fill="#7068a8"/>
<circle cx="802.3" cy="136.9" r="1.2" fill="#6a5a98"/>
<circle cx="1039.0" cy="99.9" r="1.5" fill="#7a5a80"/>
<circle cx="970.7" cy="127.5" r="1.4" fill="#7a78b8"/>
<circle cx="948.9" cy="161.2" r="1.1" fill="#6a5a98"/>
<circle cx="863.5" cy="89.3" r="1.4" fill="#7a78b8"/>
<circle cx="922.8" cy="136.1" r="1.1" fill="#7a5a80"/>
<circle cx="753.5" cy="134.4" r="1.1" fill="#8a5a78"/>
<circle cx="1000.1" cy="131.6" r="1.1" fill="#7a78b8"/>
<circle cx="994.5" cy="104.6" r="1.2" fill="#7a5070"/>
<circle cx="914.1" cy="260.5" r="1.5" fill="#6a5a98"/>
<circle cx="880.4" cy="238.9" r="1.3" fill="#7a78b8"/>
<circle cx="1051.3" cy="267.3" r="1.3" fill="#8a6080"/>
<circle cx="982.3" cy="162.0" r="1.1" fill="#7a5a80"/>
<circle cx="1066.0" cy="103.7" r="1.6" fill="#7a78b8"/>
<circle cx="1022.2" cy="281.0" r="1.1" fill="#6a5a98"/>
<circle cx="830.3" cy="202.6" r="1.3" fill="#8a6080"/>
<circle cx="1034.8" cy="239.8" r="1.1" fill="#8a5a78"/>
<circle cx="775.9" cy="213.1" r="1.3" fill="#7a5070"/>
<circle cx="1046.3" cy="145.8" r="1.4" fill="#8a5a78"/>
<circle cx="828.0" cy="97.7" r="1.1" fill="#8a5a78"/>
<circle cx="998.8" cy="218.4" r="1.1" fill="#7a78b8"/>
<circle cx="902.2" cy="196.6" r="1.3" fill="#7068a8"/>
<circle cx="1032.7" cy="211.7" r="1.1" fill="#6a5a98"/>
<circle cx="903.9" cy="212.6" r="1.5" fill="#7a5a80"/>
<circle cx="865.7" cy="80.6" r="1.3" fill="#7a5a80"/>
<circle cx="769.5" cy="260.1" r="1.0" fill="#6a5a98"/>
<circle cx="951.5" cy="183.2" r="1.3" fill="#7a5a80"/>
<circle cx="897.6" cy="254.9" r="1.4" fill="#7068a8"/>
<circle cx="948.2" cy="181.8" r="1.6" fill="#7a78b8"/>
<circle cx="784.7" cy="276.1" r="1.2" fill="#6a5a98"/>
<circle cx="915.5" cy="103.9" r="1.1" fill="#7a78b8"/>
<circle cx="1074.1" cy="187.2" r="1.4" fill="#7068a8"/>
<circle cx="872.5" cy="130.0" r="1.2" fill="#7068a8"/>
<circle cx="972.3" cy="75.4" r="1.4" fill="#7068a8"/>
<circle cx="772.5" cy="85.4" r="1.4" fill="#9a7090"/>
<circle cx="833.2" cy="264.8" r="1.6" fill="#8a5a78"/>
<circle cx="859.7" cy="201.1" r="1.1" fill="#7068a8"/>
<circle cx="852.1" cy="218.5" r="1.4" fill="#8a5a78"/>
<circle cx="945.0" cy="285.3" r="1.2" fill="#8a6080"/>
<circle cx="960.8" cy="140.8" r="1.1" fill="#6a5a98"/>
<circle cx="961.6" cy="163.3" r="1.2" fill="#7068a8"/>
<circle cx="851.7" cy="288.4" r="1.2" fill="#7a78b8"/>
<circle cx="813.6" cy="300.0" r="1.1" fill="#9a7090"/>
<circle cx="1026.3" cy="87.0" r="1.5" fill="#7a5a80"/>
<circle cx="966.8" cy="270.7" r="1.4" fill="#8a6080"/>
<circle cx="801.3" cy="105.9" r="1.4" fill="#8a5a78"/>
<circle cx="986.1" cy="73.4" r="1.2" fill="#7a5070"/>
<circle cx="1067.1" cy="207.7" r="1.5" fill="#7a78b8"/>
<circle cx="827.3" cy="119.7" r="1.6" fill="#7a78b8"/>
<circle cx="1045.7" cy="109.0" r="1.4" fill="#7a78b8"/>
<circle cx="901.5" cy="129.8" r="1.2" fill="#8a6080"/>
<circle cx="1066.0" cy="256.6" r="1.5" fill="#8a5a78"/>
<circle cx="1035.6" cy="75.4" r="1.3" fill="#7068a8"/>
<circle cx="931.8" cy="87.3" r="1.5" fill="#6a5a98"/>
<circle cx="843.9" cy="243.9" r="1.2" fill="#8a5a78"/>
<circle cx="1021.9" cy="84.7" r="1.5" fill="#7a78b8"/>
<circle cx="1039.4" cy="283.5" r="1.2" fill="#8a6080"/>
<circle cx="914.7" cy="118.9" r="1.6" fill="#7068a8"/>
<circle cx="824.2" cy="138.5" r="1.1" fill="#7068a8"/>
<circle cx="1009.0" cy="95.6" r="1.2" fill="#7a78b8"/>
<circle cx="977.9" cy="95.9" r="1.4" fill="#7a78b8"/>
<circle cx="951.6" cy="277.7" r="1.0" fill="#7a5070"/>
<circle cx="1023.2" cy="193.1" r="1.4" fill="#8a6080"/>
<circle cx="787.2" cy="131.3" r="1.2" fill="#7a5a80"/>
<circle cx="828.7" cy="214.4" r="1.4" fill="#6a5a98"/>
<circle cx="787.1" cy="277.5" r="1.4" fill="#7a5a80"/>
<circle cx="957.0" cy="199.3" r="1.4" fill="#9a7090"/>
<circle cx="890.9" cy="208.7" r="1.1" fill="#8a6080"/>
<circle cx="812.1" cy="221.4" r="1.3" fill="#7068a8"/>
<circle cx="773.1" cy="187.7" r="1.3" fill="#7a5a80"/>
<circle cx="878.3" cy="174.4" r="1.4" fill="#7068a8"/>
<circle cx="833.7" cy="66.8" r="1.5" fill="#7068a8"/>
<circle cx="829.6" cy="218.7" r="1.1" fill="#7068a8"/>
<circle cx="794.5" cy="146.5" r="1.2" fill="#8a5a78"/>
<circle cx="1021.7" cy="225.3" r="1.6" fill="#7a78b8"/>
<circle cx="956.9" cy="255.3" r="1.0" fill="#7a78b8"/>
<circle cx="763.1" cy="110.8" r="1.5" fill="#7a5a80"/>
<circle cx="853.9" cy="136.5" r="1.2" fill="#7a78b8"/>
<circle cx="833.6" cy="241.5" r="1.1" fill="#7068a8"/>
<circle cx="1032.1" cy="74.3" r="1.4" fill="#9a7090"/>
<circle cx="791.6" cy="150.2" r="1.5" fill="#7a78b8"/>
<circle cx="1042.7" cy="154.6" r="1.6" fill="#7a78b8"/>
<circle cx="976.6" cy="150.1" r="1.5" fill="#9a7090"/>
<circle cx="1012.2" cy="235.3" r="1.0" fill="#8a5a78"/>
<circle cx="928.8" cy="139.1" r="1.0" fill="#9a7090"/>
<circle cx="850.9" cy="205.8" r="1.3" fill="#7a78b8"/>
<circle cx="865.6" cy="73.0" r="1.5" fill="#7068a8"/>
<circle cx="951.4" cy="166.1" r="1.4" fill="#7a5a80"/>
<circle cx="775.5" cy="214.1" r="1.2" fill="#8a5a78"/>
<circle cx="1061.6" cy="96.8" r="1.4" fill="#7a78b8"/>
<circle cx="762.3" cy="78.9" r="1.5" fill="#7068a8"/>
<circle cx="869.1" cy="288.0" r="1.0" fill="#8a5a78"/>
<circle cx="972.4" cy="287.9" r="1.2" fill="#6a5a98"/>
<circle cx="938.1" cy="188.5" r="1.2" fill="#9a7090"/>
<circle cx="832.4" cy="89.9" r="1.4" fill="#7a78b8"/>
<circle cx="919.8" cy="279.5" r="1.1" fill="#9a7090"/>
<circle cx="980.5" cy="113.9" r="1.4" fill="#7a78b8"/>
<circle cx="816.3" cy="95.2" r="1.0" fill="#8a5a78"/>
<circle cx="1044.0" cy="168.5" r="1.1" fill="#7068a8"/>
<circle cx="968.7" cy="231.2" r="1.3" fill="#9a7090"/>
<circle cx="1041.6" cy="264.8" r="1.4" fill="#8a5a78"/>
<circle cx="1009.7" cy="183.6" r="1.1" fill="#7a5070"/>
<circle cx="1009.2" cy="119.1" r="1.3" fill="#7068a8"/>
<circle cx="931.6" cy="150.4" r="1.5" fill="#8a5a78"/>
<circle cx="950.5" cy="83.4" r="1.2" fill="#7a78b8"/>
<circle cx="922.4" cy="245.3" r="1.5" fill="#6a5a98"/>
<circle cx="791.9" cy="138.1" r="1.0" fill="#7a78b8"/>
<circle cx="972.7" cy="144.7" r="1.5" fill="#8a5a78"/>
<circle cx="1001.3" cy="93.6" r="1.3" fill="#7a5a80"/>
<circle cx="1022.0" cy="185.8" r="1.2" fill="#8a5a78"/>
<circle cx="856.2" cy="231.1" r="1.2" fill="#9a7090"/>
<circle cx="1026.8" cy="122.4" r="1.4" fill="#9a7090"/>
<circle cx="791.8" cy="134.8" r="1.3" fill="#8a5a78"/>
<circle cx="943.9" cy="200.6" r="1.1" fill="#7068a8"/>
<circle cx="1025.7" cy="196.6" r="1.5" fill="#7a5a80"/>
<circle cx="777.5" cy="287.8" r="1.5" fill="#9a7090"/>
<circle cx="963.3" cy="244.8" r="1.2" fill="#7a5a80"/>
<circle cx="913.4" cy="211.6" r="1.2" fill="#9a7090"/>
<circle cx="908.4" cy="253.7" r="1.4" fill="#9a7090"/>
<circle cx="898.9" cy="226.2" r="1.1" fill="#8a6080"/>
<circle cx="908.9" cy="111.4" r="1.4" fill="#7068a8"/>
<circle cx="1031.8" cy="138.7" r="1.6" fill="#7068a8"/>
<circle cx="1069.0" cy="94.0" r="1.2" fill="#6a5a98"/>
<circle cx="855.0" cy="173.6" r="1.2" fill="#7a5070"/>
<circle cx="796.9" cy="75.0" r="1.6" fill="#8a6080"/>
<circle cx="831.9" cy="268.1" r="1.1" fill="#7068a8"/>
<circle cx="1055.4" cy="233.9" r="1.1" fill="#8a5a78"/>
<circle cx="913.4" cy="185.0" r="1.3" fill="#9a7090"/>
<circle cx="913.1" cy="84.3" r="1.2" fill="#7a78b8"/>
<circle cx="1066.1" cy="114.0" r="1.2" fill="#7a5a80"/>
<circle cx="842.7" cy="204.6" r="1.5" fill="#7a78b8"/>
<circle cx="844.2" cy="64.9" r="1.1" fill="#8a5a78"/>
<circle cx="1038.7" cy="235.4" r="1.5" fill="#7068a8"/>
<circle cx="765.7" cy="75.1" r="1.3" fill="#7068a8"/>
<circle cx="931.4" cy="80.4" r="1.3" fill="#9a7090"/>
<circle cx="1020.1" cy="210.7" r="1.4" fill="#8a5a78"/>
<circle cx="1068.9" cy="156.4" r="1.5" fill="#7068a8"/>
<circle cx="932.9" cy="149.6" r="1.1" fill="#8a6080"/>
<circle cx="914.0" cy="73.7" r="1.1" fill="#7068a8"/>
<circle cx="1013.1" cy="186.1" r="1.1" fill="#8a5a78"/>
<circle cx="857.9" cy="208.3" r="1.1" fill="#9a7090"/>
<circle cx="944.6" cy="183.2" r="1.3" fill="#7a78b8"/>
<circle cx="982.0" cy="134.1" r="1.5" fill="#7068a8"/>
<circle cx="859.0" cy="89.0" r="1.2" fill="#9a7090"/>
<circle cx="1010.7" cy="234.9" r="1.4" fill="#7a5a80"/>
<circle cx="945.6" cy="125.9" r="1.4" fill="#7a5070"/>
<circle cx="986.2" cy="201.3" r="1.1" fill="#8a6080"/>
<circle cx="799.2" cy="224.3" r="1.0" fill="#6a5a98"/>
<circle cx="813.2" cy="167.5" r="1.3" fill="#8a6080"/>
<circle cx="976.1" cy="160.3" r="1.5" fill="#7a78b8"/>
<circle cx="1035.5" cy="237.4" r="1.0" fill="#8a5a78"/>
<circle cx="920.1" cy="195.9" r="1.6" fill="#7a78b8"/>
<circle cx="922.3" cy="137.4" r="1.1" fill="#7068a8"/>
<circle cx="929.1" cy="223.2" r="1.5" fill="#9a7090"/>
<circle cx="949.9" cy="108.6" r="1.1" fill="#9a7090"/>
<circle cx="824.3" cy="293.6" r="1.2" fill="#9a7090"/>
<circle cx="980.8" cy="226.6" r="1.3" fill="#7a78b8"/>
<circle cx="864.7" cy="284.3" r="1.5" fill="#9a7090"/>
<circle cx="844.8" cy="198.9" r="1.3" fill="#8a6080"/>
<circle cx="1017.8" cy="289.2" r="1.5" fill="#9a7090"/>
<circle cx="764.7" cy="289.4" r="1.0" fill="#7a78b8"/>
<circle cx="964.8" cy="240.1" r="1.1" fill="#9a7090"/>
<circle cx="1055.2" cy="228.0" r="1.1" fill="#7a5070"/>
<circle cx="830.0" cy="221.8" r="1.3" fill="#7a5070"/>
<circle cx="768.1" cy="161.0" r="1.4" fill="#6a5a98"/>
<circle cx="973.1" cy="95.6" r="1.6" fill="#8a5a78"/>
<circle cx="883.7" cy="284.6" r="1.5" fill="#7a78b8"/>
<circle cx="963.1" cy="242.2" r="1.2" fill="#9a7090"/>
<circle cx="961.6" cy="278.2" r="1.1" fill="#7a5070"/>
<circle cx="925.5" cy="234.4" r="1.6" fill="#8a5a78"/>
<circle cx="887.2" cy="261.5" r="1.6" fill="#7a5a80"/>
<circle cx="1076.1" cy="157.1" r="1.3" fill="#9a7090"/>
<circle cx="1036.8" cy="65.2" r="1.3" fill="#6a5a98"/>
<circle cx="1053.7" cy="142.4" r="1.3" fill="#7a78b8"/>
<circle cx="1040.9" cy="94.8" r="1.3" fill="#9a7090"/>
<circle cx="813.9" cy="89.7" r="1.1" fill="#7a78b8"/>
<circle cx="962.3" cy="233.3" r="1.0" fill="#7068a8"/>
<circle cx="1008.8" cy="197.6" r="1.5" fill="#8a5a78"/>
<circle cx="950.2" cy="214.4" r="1.2" fill="#8a6080"/>
<circle cx="919.0" cy="83.6" r="1.4" fill="#8a5a78"/>
<circle cx="1071.0" cy="176.2" r="1.6" fill="#7a5a80"/>
<circle cx="836.0" cy="118.8" r="1.5" fill="#7068a8"/>
<circle cx="849.4" cy="234.3" r="1.0" fill="#7068a8"/>
<circle cx="976.8" cy="77.7" r="1.1" fill="#9a7090"/>
<circle cx="803.1" cy="225.6" r="1.6" fill="#9a7090"/>
<circle cx="976.0" cy="214.4" r="1.6" fill="#7068a8"/>
<circle cx="951.4" cy="114.9" r="1.1" fill="#8a5a78"/>
<circle cx="899.3" cy="297.4" r="1.2" fill="#7a78b8"/>
<circle cx="997.9" cy="253.1" r="1.5" fill="#7a5070"/>
<circle cx="972.8" cy="204.2" r="1.5" fill="#7a78b8"/>
<circle cx="923.2" cy="148.7" r="1.6" fill="#6a5a98"/>
<circle cx="771.1" cy="192.8" r="1.3" fill="#8a5a78"/>
<circle cx="804.6" cy="265.5" r="1.3" fill="#7a5070"/>
<circle cx="984.7" cy="178.9" r="1.5" fill="#7a78b8"/>
<circle cx="1014.6" cy="170.5" r="1.3" fill="#7a78b8"/>
<circle cx="934.8" cy="195.4" r="1.4" fill="#9a7090"/>
<circle cx="986.8" cy="156.8" r="1.5" fill="#7a5070"/>
<circle cx="939.5" cy="73.7" r="1.2" fill="#6a5a98"/>
<circle cx="927.4" cy="77.3" r="1.5" fill="#7a78b8"/>
<circle cx="761.3" cy="159.9" r="1.5" fill="#8a6080"/>
<circle cx="873.1" cy="274.2" r="1.3" fill="#8a6080"/>
<circle cx="873.5" cy="224.8" r="1.4" fill="#8a5a78"/>
<circle cx="964.1" cy="145.4" r="1.1" fill="#8a6080"/>
<circle cx="923.4" cy="235.5" r="1.1" fill="#7a5a80"/>
<circle cx="997.5" cy="294.9" r="1.3" fill="#8a6080"/>
<circle cx="924.4" cy="258.1" r="1.1" fill="#7068a8"/>
<circle cx="801.6" cy="107.7" r="1.5" fill="#6a5a98"/>
<circle cx="761.5" cy="219.5" r="1.4" fill="#7a5a80"/>
<circle cx="829.5" cy="78.9" r="1.4" fill="#7a78b8"/>
<circle cx="945.9" cy="229.7" r="1.0" fill="#7a5a80"/>
<circle cx="882.1" cy="118.5" r="1.1" fill="#7a5a80"/>
<circle cx="796.7" cy="298.5" r="1.1" fill="#7068a8"/>
<circle cx="939.3" cy="246.1" r="1.5" fill="#7a5070"/>
<circle cx="849.4" cy="97.0" r="1.4" fill="#7a5070"/>
<circle cx="885.8" cy="128.2" r="1.3" fill="#8a5a78"/>
<circle cx="955.1" cy="164.2" r="1.3" fill="#7068a8"/>
<circle cx="1058.0" cy="222.1" r="1.5" fill="#7068a8"/>
<circle cx="978.0" cy="159.8" r="1.2" fill="#8a5a78"/>
<circle cx="996.9" cy="175.2" r="1.5" fill="#9a7090"/>
<circle cx="1030.6" cy="97.2" r="1.3" fill="#7a5a80"/>
<circle cx="934.3" cy="292.4" r="1.3" fill="#8a5a78"/>
<circle cx="877.6" cy="123.4" r="1.2" fill="#6a5a98"/>
<circle cx="1051.6" cy="263.8" r="1.1" fill="#7a5070"/>
<circle cx="767.8" cy="152.4" r="1.4" fill="#7a5a80"/>
<circle cx="1035.8" cy="107.6" r="1.5" fill="#7a5070"/>
<circle cx="907.3" cy="269.1" r="1.2" fill="#7a5a80"/>
<circle cx="820.0" cy="108.0" r="1.4" fill="#7a78b8"/>
<circle cx="1049.1" cy="227.9" r="1.4" fill="#8a6080"/>
<circle cx="1049.3" cy="193.8" r="1.5" fill="#8a6080"/>
<circle cx="903.0" cy="216.7" r="1.2" fill="#7068a8"/>
<circle cx="918.2" cy="180.9" r="1.1" fill="#7a78b8"/>
<circle cx="999.3" cy="138.9" r="1.1" fill="#7068a8"/>
<circle cx="885.9" cy="196.3" r="1.1" fill="#8a5a78"/>
<circle cx="756.3" cy="194.1" r="1.4" fill="#8a6080"/>
<circle cx="847.2" cy="109.5" r="1.1" fill="#7a5070"/>
<circle cx="913.8" cy="218.1" r="1.4" fill="#9a7090"/>
<circle cx="999.9" cy="178.8" r="1.4" fill="#7a78b8"/>
<circle cx="901.2" cy="236.7" r="1.2" fill="#8a5a78"/>
<circle cx="985.8" cy="178.7" r="1.6" fill="#7a5a80"/>
<circle cx="921.8" cy="261.9" r="1.0" fill="#7a5a80"/>
<circle cx="1000.2" cy="160.7" r="1.5" fill="#7a5070"/>
<circle cx="773.2" cy="98.8" r="1.1" fill="#7a78b8"/>
<circle cx="872.7" cy="209.4" r="1.4" fill="#7a78b8"/>
<circle cx="965.9" cy="66.7" r="1.3" fill="#8a6080"/>
<circle cx="754.9" cy="188.5" r="1.2" fill="#9a7090"/>
<circle cx="756.6" cy="255.7" r="1.4" fill="#8a5a78"/>
<circle cx="785.9" cy="85.8" r="1.1" fill="#7a5070"/>
<circle cx="953.0" cy="122.8" r="1.2" fill="#8a6080"/>
<circle cx="776.8" cy="290.4" r="1.3" fill="#7a5070"/>
<circle cx="1073.8" cy="116.5" r="1.4" fill="#6a5a98"/>
<circle cx="964.1" cy="266.4" r="1.5" fill="#6a5a98"/>
<circle cx="883.1" cy="152.4" r="1.3" fill="#7a5a80"/>
<circle cx="980.1" cy="82.6" r="1.5" fill="#7068a8"/>
<circle cx="935.5" cy="266.3" r="1.1" fill="#7a5a80"/>
<circle cx="825.9" cy="276.6" r="1.4" fill="#7a78b8"/>
<circle cx="839.4" cy="282.0" r="1.4" fill="#9a7090"/>
<circle cx="1044.2" cy="196.6" r="1.0" fill="#7068a8"/>
<circle cx="756.1" cy="112.1" r="1.1" fill="#8a6080"/>
<circle cx="1053.8" cy="133.9" r="1.3" fill="#8a6080"/>
<circle cx="971.7" cy="191.1" r="1.2" fill="#8a5a78"/>
<circle cx="1008.7" cy="226.4" r="1.0" fill="#7068a8"/>
<circle cx="768.5" cy="166.6" r="1.5" fill="#7068a8"/>
<circle cx="948.3" cy="208.5" r="1.4" fill="#7068a8"/>
<circle cx="760.7" cy="127.8" r="1.6" fill="#7a78b8"/>
<circle cx="825.4" cy="194.1" r="1.2" fill="#8a5a78"/>
<circle cx="972.6" cy="219.6" r="1.1" fill="#9a7090"/>
<circle cx="1011.2" cy="232.0" r="1.0" fill="#8a5a78"/>
<circle cx="874.9" cy="248.8" r="1.1" fill="#8a6080"/>
<circle cx="854.2" cy="88.3" r="1.0" fill="#9a7090"/>
<circle cx="896.0" cy="243.4" r="1.1" fill="#6a5a98"/>
<circle cx="812.1" cy="169.4" r="1.3" fill="#8a6080"/>
<circle cx="784.7" cy="84.2" r="1.3" fill="#7068a8"/>
<circle cx="1032.6" cy="65.9" r="1.2" fill="#6a5a98"/>
<circle cx="987.3" cy="195.6" r="1.6" fill="#7a5070"/>
<circle cx="937.5" cy="103.2" r="1.2" fill="#8a5a78"/>
<circle cx="838.7" cy="126.6" r="1.1" fill="#8a5a78"/>
<circle cx="892.7" cy="162.8" r="1.3" fill="#6a5a98"/>
<circle cx="868.7" cy="286.8" r="1.4" fill="#7a78b8"/>
<circle cx="944.6" cy="109.3" r="1.1" fill="#9a7090"/>
<circle cx="753.2" cy="156.8" r="1.5" fill="#8a6080"/>
<circle cx="1013.1" cy="141.1" r="1.2" fill="#8a5a78"/>
<circle cx="848.9" cy="206.0" r="1.4" fill="#7a78b8"/>
<circle cx="853.4" cy="291.6" r="1.6" fill="#9a7090"/>
<circle cx="990.6" cy="213.0" r="1.6" fill="#7a5070"/>
<circle cx="857.2" cy="129.4" r="1.5" fill="#7068a8"/>
<circle cx="788.1" cy="196.6" r="1.4" fill="#8a5a78"/>
<circle cx="973.2" cy="193.4" r="1.6" fill="#7a78b8"/>
<circle cx="1058.4" cy="112.7" r="1.5" fill="#6a5a98"/>
<circle cx="1018.0" cy="251.6" r="1.2" fill="#7a78b8"/>
<circle cx="796.4" cy="134.8" r="1.2" fill="#8a5a78"/>
<circle cx="984.2" cy="250.0" r="1.0" fill="#7a78b8"/>
<circle cx="940.8" cy="189.6" r="1.6" fill="#8a6080"/>
<circle cx="928.2" cy="250.4" r="1.2" fill="#6a5a98"/>
<circle cx="786.7" cy="121.8" r="1.4" fill="#8a5a78"/>
<circle cx="961.9" cy="73.5" r="1.6" fill="#8a6080"/>
<circle cx="1066.2" cy="141.6" r="1.5" fill="#6a5a98"/>
<circle cx="754.4" cy="124.3" r="1.3" fill="#7a5070"/>
<circle cx="896.3" cy="155.7" r="1.5" fill="#8a5a78"/>
<circle cx="863.5" cy="68.8" r="1.1" fill="#8a6080"/>
<circle cx="1051.1" cy="83.3" r="1.5" fill="#8a5a78"/>
<circle cx="864.6" cy="144.3" r="1.5" fill="#7a78b8"/>
<circle cx="864.5" cy="86.1" r="1.4" fill="#7a78b8"/>
<circle cx="855.0" cy="134.2" r="1.5" fill="#6a5a98"/>
<circle cx="758.4" cy="144.3" r="1.1" fill="#8a5a78"/>
<circle cx="1054.2" cy="238.5" r="1.3" fill="#8a5a78"/>
<circle cx="858.9" cy="164.0" r="1.3" fill="#8a6080"/>
<circle cx="956.3" cy="107.2" r="1.4" fill="#8a6080"/>
<circle cx="760.5" cy="208.5" r="1.1" fill="#8a6080"/>
<circle cx="877.8" cy="230.0" r="1.1" fill="#6a5a98"/>
<circle cx="939.2" cy="252.5" r="1.3" fill="#7068a8"/>
<circle cx="857.3" cy="171.4" r="1.2" fill="#7a78b8"/>
<circle cx="923.0" cy="214.5" r="1.4" fill="#8a6080"/>
<circle cx="942.4" cy="145.5" r="1.5" fill="#8a5a78"/>
<circle cx="1016.3" cy="230.3" r="1.2" fill="#6a5a98"/>
<circle cx="970.1" cy="137.2" r="1.1" fill="#6a5a98"/>
<circle cx="810.7" cy="227.3" r="1.3" fill="#8a6080"/>
<circle cx="945.4" cy="199.2" r="1.3" fill="#7a78b8"/>
<circle cx="958.2" cy="227.3" r="1.4" fill="#8a5a78"/>
<circle cx="931.9" cy="179.0" r="1.1" fill="#7068a8"/>
<circle cx="1025.5" cy="209.8" r="1.5" fill="#7a5a80"/>
<circle cx="909.0" cy="109.2" r="1.2" fill="#7a78b8"/>
<circle cx="884.4" cy="179.5" r="1.4" fill="#7a78b8"/>
<circle cx="910.3" cy="82.6" r="1.0" fill="#7a5070"/>
<circle cx="846.2" cy="128.1" r="1.3" fill="#8a5a78"/>
<circle cx="1005.5" cy="197.1" r="1.5" fill="#7a78b8"/>
<circle cx="930.2" cy="89.8" r="1.1" fill="#7068a8"/>
<circle cx="927.7" cy="242.4" r="1.5" fill="#7a78b8"/>
<circle cx="929.1" cy="297.6" r="1.1" fill="#7a5070"/>
<circle cx="848.1" cy="299.8" r="1.3" fill="#7068a8"/>
<circle cx="1032.1" cy="83.6" r="1.5" fill="#6a5a98"/>
<circle cx="1003.9" cy="119.2" r="1.5" fill="#7068a8"/>
<circle cx="1031.7" cy="207.6" r="1.3" fill="#8a5a78"/>
<circle cx="1006.9" cy="255.8" r="1.5" fill="#7068a8"/>
<circle cx="924.5" cy="204.5" r="1.1" fill="#9a7090"/>
<circle cx="845.3" cy="126.4" r="1.5" fill="#6a5a98"/>
<circle cx="795.2" cy="240.8" r="1.2" fill="#7a5a80"/>
<circle cx="1074.6" cy="268.5" r="1.1" fill="#8a5a78"/>
<circle cx="832.4" cy="231.6" r="1.5" fill="#8a6080"/>
<circle cx="910.6" cy="199.8" r="1.2" fill="#8a6080"/>
<circle cx="873.3" cy="80.9" r="1.5" fill="#6a5a98"/>
<circle cx="882.3" cy="240.7" r="1.4" fill="#7068a8"/>
<circle cx="899.2" cy="178.7" r="1.3" fill="#6a5a98"/>
<circle cx="989.3" cy="171.7" r="1.4" fill="#7068a8"/>
<circle cx="1028.1" cy="251.6" r="1.2" fill="#8a6080"/>
<circle cx="1019.9" cy="180.2" r="1.2" fill="#9a7090"/>
<circle cx="861.1" cy="200.0" r="1.3" fill="#7a78b8"/>
<circle cx="1008.0" cy="274.9" r="1.5" fill="#7a5a80"/>
<circle cx="783.5" cy="248.8" r="1.3" fill="#6a5a98"/>
<circle cx="1054.0" cy="100.4" r="1.3" fill="#8a6080"/>
<circle cx="817.0" cy="226.2" r="1.1" fill="#9a7090"/>
<circle cx="802.8" cy="284.1" r="1.2" fill="#7068a8"/>
<circle cx="832.6" cy="151.1" r="1.5" fill="#8a5a78"/>
<circle cx="767.9" cy="211.3" r="1.4" fill="#7a5070"/>
<circle cx="890.9" cy="84.6" r="1.1" fill="#7a5070"/>
<circle cx="906.4" cy="94.4" r="1.1" fill="#7a78b8"/>
<circle cx="754.0" cy="227.9" r="1.5" fill="#8a6080"/>
<circle cx="977.3" cy="176.2" r="1.1" fill="#6a5a98"/>
<circle cx="989.2" cy="87.3" r="1.2" fill="#9a7090"/>
<circle cx="795.7" cy="246.3" r="1.5" fill="#8a5a78"/>
<circle cx="960.2" cy="223.5" r="1.0" fill="#7a5a80"/>
<circle cx="950.0" cy="101.9" r="1.2" fill="#7a5070"/>
<circle cx="955.8" cy="98.9" r="1.2" fill="#7a78b8"/>
<circle cx="1031.3" cy="83.5" r="1.1" fill="#6a5a98"/>
<circle cx="943.2" cy="154.0" r="1.6" fill="#7068a8"/>
<circle cx="1008.9" cy="121.7" r="1.4" fill="#7a5070"/>
<circle cx="931.4" cy="205.2" r="1.4" fill="#7a5a80"/>
<circle cx="1027.4" cy="219.0" r="1.2" fill="#7a5070"/>
<circle cx="994.8" cy="133.0" r="1.0" fill="#7a5070"/>
<circle cx="912.3" cy="89.7" r="1.3" fill="#6a5a98"/>
<circle cx="923.2" cy="294.7" r="1.6" fill="#7068a8"/>
<circle cx="794.0" cy="267.0" r="1.3" fill="#7068a8"/>
<circle cx="929.1" cy="103.9" r="1.3" fill="#6a5a98"/>
<circle cx="756.4" cy="79.0" r="1.2" fill="#7a5a80"/>
<circle cx="1051.8" cy="287.8" r="1.2" fill="#9a7090"/>
<circle cx="955.9" cy="181.7" r="1.2" fill="#8a6080"/>
<circle cx="777.9" cy="190.2" r="1.4" fill="#9a7090"/>
<circle cx="778.3" cy="81.7" r="1.6" fill="#8a5a78"/>
<circle cx="925.9" cy="155.6" r="1.4" fill="#6a5a98"/>
<circle cx="852.1" cy="166.7" r="1.6" fill="#7a5070"/>
<circle cx="769.9" cy="83.4" r="1.3" fill="#7a78b8"/>
<circle cx="950.6" cy="76.0" r="1.4" fill="#8a5a78"/>
<circle cx="789.9" cy="230.8" r="1.4" fill="#8a5a78"/>
<circle cx="912.8" cy="145.2" r="1.3" fill="#9a7090"/>
<circle cx="805.4" cy="93.1" r="1.5" fill="#9a7090"/>
<circle cx="989.9" cy="91.0" r="1.5" fill="#7068a8"/>
<circle cx="1014.1" cy="127.5" r="1.0" fill="#6a5a98"/>
<circle cx="912.7" cy="184.1" r="1.0" fill="#8a5a78"/>
<circle cx="870.9" cy="123.5" r="1.1" fill="#6a5a98"/>
<circle cx="825.5" cy="183.6" r="1.0" fill="#7a5a80"/>
<circle cx="830.7" cy="174.8" r="1.2" fill="#8a5a78"/>
<circle cx="809.3" cy="290.6" r="1.0" fill="#8a6080"/>
<circle cx="824.2" cy="121.8" r="1.5" fill="#7068a8"/>
<circle cx="839.4" cy="81.5" r="1.2" fill="#7a5a80"/>
<circle cx="809.5" cy="253.6" r="1.6" fill="#8a6080"/>
<circle cx="773.5" cy="173.2" r="1.2" fill="#9a7090"/>
<circle cx="857.7" cy="194.1" r="1.0" fill="#7a5070"/>
<circle cx="846.1" cy="248.9" r="1.4" fill="#7a5070"/>
<circle cx="902.2" cy="203.2" r="1.3" fill="#7a5070"/>
<circle cx="989.8" cy="192.5" r="1.5" fill="#8a5a78"/>
<circle cx="753.1" cy="160.2" r="1.1" fill="#7068a8"/>
<circle cx="958.3" cy="227.4" r="1.0" fill="#7068a8"/>
<circle cx="751.5" cy="218.8" r="1.5" fill="#9a7090"/>
<circle cx="784.9" cy="188.6" r="1.1" fill="#7a78b8"/>
<circle cx="1064.3" cy="293.5" r="1.1" fill="#9a7090"/>
<circle cx="781.3" cy="281.3" r="1.5" fill="#8a6080"/>
<circle cx="979.5" cy="151.3" r="1.6" fill="#6a5a98"/>
<circle cx="940.3" cy="182.8" r="1.4" fill="#8a6080"/>
<circle cx="775.4" cy="197.6" r="1.3" fill="#8a5a78"/>
<circle cx="828.2" cy="124.9" r="1.2" fill="#8a6080"/>
<circle cx="979.4" cy="237.3" r="1.2" fill="#9a7090"/>
<circle cx="827.2" cy="286.6" r="1.1" fill="#6a5a98"/>
<circle cx="801.7" cy="102.0" r="1.3" fill="#8a6080"/>
<circle cx="790.4" cy="147.9" r="1.5" fill="#7a78b8"/>
<circle cx="851.5" cy="125.8" r="1.1" fill="#8a5a78"/>
<circle cx="1014.3" cy="135.1" r="1.4" fill="#7a5a80"/>
<circle cx="821.1" cy="266.0" r="1.1" fill="#7a5070"/>
<circle cx="1066.7" cy="156.9" r="1.0" fill="#9a7090"/>
<circle cx="835.8" cy="297.8" r="1.0" fill="#8a6080"/>
<circle cx="1029.6" cy="194.8" r="1.3" fill="#6a5a98"/>
<circle cx="901.6" cy="253.5" r="1.1" fill="#7a5a80"/>
<circle cx="771.1" cy="248.1" r="1.1" fill="#7a5070"/>
<circle cx="1019.5" cy="151.2" r="1.4" fill="#6a5a98"/>
<circle cx="940.8" cy="124.3" r="1.5" fill="#7a5a80"/>
<circle cx="1076.1" cy="109.9" r="1.4" fill="#8a5a78"/>
<circle cx="781.0" cy="263.8" r="1.5" fill="#6a5a98"/>
<circle cx="764.9" cy="172.3" r="1.1" fill="#8a6080"/>
<circle cx="1018.9" cy="156.6" r="1.0" fill="#8a6080"/>
<circle cx="807.3" cy="113.9" r="1.1" fill="#9a7090"/>
<circle cx="896.4" cy="98.2" r="1.4" fill="#7a5070"/>
<circle cx="962.0" cy="181.2" r="1.5" fill="#7a78b8"/>
<circle cx="770.9" cy="129.3" r="1.1" fill="#7a5070"/>
<circle cx="960.5" cy="251.9" r="1.1" fill="#7a5a80"/>
<circle cx="1073.5" cy="248.3" r="1.2" fill="#7a78b8"/>
<circle cx="863.2" cy="197.1" r="1.2" fill="#9a7090"/>
<circle cx="809.6" cy="138.6" r="1.1" fill="#9a7090"/>
<circle cx="770.1" cy="298.0" r="1.3" fill="#7a5070"/>
<circle cx="1068.5" cy="86.7" r="1.4" fill="#9a7090"/>
<circle cx="925.0" cy="250.5" r="1.4" fill="#7a5070"/>
<circle cx="938.7" cy="295.9" r="1.2" fill="#8a5a78"/>
<circle cx="808.4" cy="203.4" r="1.5" fill="#7068a8"/>
<circle cx="1049.0" cy="69.7" r="1.4" fill="#8a5a78"/>
<circle cx="934.6" cy="107.6" r="1.6" fill="#7a78b8"/>
<circle cx="927.7" cy="104.6" r="1.0" fill="#7a5a80"/>
<circle cx="826.8" cy="114.9" r="1.3" fill="#7a5a80"/>
<circle cx="859.1" cy="208.5" r="1.5" fill="#7068a8"/>
<circle cx="984.7" cy="280.8" r="1.5" fill="#7068a8"/>
<circle cx="770.4" cy="98.0" r="1.4" fill="#8a5a78"/>
<circle cx="1003.4" cy="263.6" r="1.5" fill="#6a5a98"/>
<circle cx="872.8" cy="286.2" r="1.2" fill="#6a5a98"/>
<circle cx="860.7" cy="139.5" r="1.6" fill="#8a6080"/>
<circle cx="1009.1" cy="290.7" r="1.4" fill="#8a5a78"/>
<circle cx="981.5" cy="196.2" r="1.5" fill="#7068a8"/>
<circle cx="823.8" cy="202.6" r="1.1" fill="#9a7090"/>
<circle cx="990.3" cy="132.8" r="1.1" fill="#7a5a80"/>
<circle cx="1060.3" cy="287.8" r="1.2" fill="#7a5a80"/>
<circle cx="810.4" cy="138.4" r="1.5" fill="#7a5070"/>
<circle cx="959.5" cy="87.7" r="1.3" fill="#7068a8"/>
<circle cx="994.0" cy="119.4" r="1.6" fill="#8a5a78"/>
<circle cx="958.4" cy="291.2" r="1.5" fill="#7068a8"/>
<circle cx="896.6" cy="125.9" r="1.1" fill="#6a5a98"/>
<circle cx="865.3" cy="249.5" r="1.4" fill="#7a5a80"/>
<circle cx="876.8" cy="236.6" r="1.6" fill="#8a6080"/>
<circle cx="911.7" cy="152.8" r="1.3" fill="#6a5a98"/>
<circle cx="1021.2" cy="249.9" r="1.3" fill="#7a5070"/>
<circle cx="804.0" cy="80.5" r="1.5" fill="#9a7090"/>
<circle cx="757.5" cy="124.9" r="1.1" fill="#7068a8"/>
<circle cx="806.5" cy="152.0" r="1.4" fill="#6a5a98"/>
<circle cx="861.2" cy="296.5" r="1.5" fill="#7a5a80"/>
<circle cx="891.6" cy="217.9" r="1.4" fill="#8a6080"/>
<circle cx="802.2" cy="87.0" r="1.1" fill="#7a5070"/>
<circle cx="884.4" cy="194.3" r="1.6" fill="#9a7090"/>
<circle cx="966.4" cy="133.5" r="1.1" fill="#8a6080"/>
<circle cx="937.4" cy="262.0" r="1.1" fill="#7068a8"/>
<circle cx="752.2" cy="83.8" r="1.5" fill="#7a78b8"/>
<circle cx="816.1" cy="69.1" r="1.1" fill="#9a7090"/>
<circle cx="1069.5" cy="175.2" r="1.1" fill="#8a6080"/>
<circle cx="904.5" cy="275.1" r="1.2" fill="#8a6080"/>
<circle cx="811.3" cy="272.9" r="1.2" fill="#7a78b8"/>
<circle cx="765.5" cy="167.2" r="1.2" fill="#9a7090"/>
<circle cx="934.9" cy="98.8" r="1.4" fill="#6a5a98"/>
<circle cx="778.9" cy="144.5" r="1.3" fill="#7a5070"/>
<circle cx="931.5" cy="262.3" r="1.5" fill="#8a6080"/>
<circle cx="1065.8" cy="225.8" r="1.6" fill="#7a5070"/>
<circle cx="906.3" cy="81.7" r="1.5" fill="#7a5a80"/>
<circle cx="914.7" cy="276.4" r="1.5" fill="#8a5a78"/>
<circle cx="790.2" cy="242.5" r="1.1" fill="#8a5a78"/>
<circle cx="1067.9" cy="254.6" r="1.1" fill="#8a6080"/>
<circle cx="776.5" cy="224.9" r="1.1" fill="#8a5a78"/>
<circle cx="1022.9" cy="124.1" r="1.5" fill="#6a5a98"/>
<circle cx="779.4" cy="194.9" r="1.3" fill="#9a7090"/>
<circle cx="920.4" cy="280.4" r="1.0" fill="#8a6080"/>
<circle cx="787.7" cy="98.5" r="1.3" fill="#6a5a98"/>
<circle cx="1052.5" cy="196.4" r="1.1" fill="#9a7090"/>
<circle cx="1033.8" cy="271.6" r="1.5" fill="#9a7090"/>
<circle cx="875.9" cy="178.1" r="1.4" fill="#7a5a80"/>
<circle cx="807.1" cy="158.5" r="1.4" fill="#8a6080"/>
<circle cx="763.6" cy="273.8" r="1.2" fill="#7a5070"/>
<circle cx="767.1" cy="175.6" r="1.2" fill="#7068a8"/>
<circle cx="757.6" cy="256.7" r="1.2" fill="#9a7090"/>
<circle cx="1025.8" cy="266.4" r="1.4" fill="#7a5070"/>
<circle cx="794.8" cy="293.9" r="1.3" fill="#7068a8"/>
<circle cx="838.8" cy="161.8" r="1.4" fill="#7a5070"/>
<circle cx="895.0" cy="279.5" r="1.2" fill="#7a78b8"/>
<circle cx="998.6" cy="268.5" r="1.5" fill="#8a5a78"/>
<circle cx="772.4" cy="231.2" r="1.2" fill="#7a5a80"/>
<circle cx="807.6" cy="270.4" r="1.1" fill="#7a5a80"/>
<circle cx="832.3" cy="171.2" r="1.6" fill="#7a5070"/>
<circle cx="840.3" cy="258.2" r="1.3" fill="#6a5a98"/>
<circle cx="973.1" cy="120.3" r="1.3" fill="#7a78b8"/>
<circle cx="808.9" cy="269.3" r="1.4" fill="#7068a8"/>
<circle cx="863.2" cy="261.5" r="1.2" fill="#6a5a98"/>
<circle cx="843.9" cy="154.6" r="1.1" fill="#7a5070"/>
<circle cx="1030.4" cy="216.4" r="1.4" fill="#9a7090"/>
<circle cx="963.4" cy="184.6" r="1.5" fill="#7a5a80"/>
<circle cx="905.6" cy="94.4" r="1.1" fill="#7a5a80"/>
<circle cx="823.9" cy="207.2" r="1.6" fill="#9a7090"/>
<circle cx="889.2" cy="152.2" r="1.2" fill="#9a7090"/>
<circle cx="822.1" cy="134.6" r="1.3" fill="#8a6080"/>
<circle cx="941.5" cy="64.7" r="1.6" fill="#7068a8"/>
<circle cx="934.0" cy="203.7" r="1.2" fill="#6a5a98"/>
<circle cx="908.0" cy="142.7" r="1.2" fill="#7068a8"/>
<circle cx="1031.8" cy="124.9" r="1.4" fill="#9a7090"/>
<circle cx="812.4" cy="185.6" r="1.1" fill="#7a5a80"/>
<circle cx="1013.6" cy="253.2" r="1.4" fill="#7068a8"/>
<circle cx="972.9" cy="233.9" r="1.4" fill="#9a7090"/>
<circle cx="835.6" cy="162.2" r="1.2" fill="#7a5a80"/>
<circle cx="941.1" cy="298.8" r="1.5" fill="#7068a8"/>
<circle cx="987.9" cy="115.7" r="1.3" fill="#7a78b8"/>
<circle cx="1046.5" cy="222.2" r="1.3" fill="#8a5a78"/>
<circle cx="1025.0" cy="270.7" r="1.1" fill="#6a5a98"/>
<circle cx="904.5" cy="238.6" r="1.4" fill="#8a5a78"/>
<circle cx="1059.7" cy="276.2" r="1.4" fill="#7a5070"/>
<circle cx="866.8" cy="239.4" r="1.2" fill="#7068a8"/>
<circle cx="872.2" cy="201.8" r="1.3" fill="#6a5a98"/>
<circle cx="904.4" cy="268.3" r="1.4" fill="#6a5a98"/>
<circle cx="904.9" cy="109.1" r="1.1" fill="#8a6080"/>
<circle cx="923.7" cy="160.9" r="1.5" fill="#8a5a78"/>
<circle cx="795.8" cy="110.5" r="1.2" fill="#7a78b8"/>
<circle cx="797.7" cy="267.4" r="1.1" fill="#6a5a98"/>
<circle cx="910.0" cy="212.6" r="1.1" fill="#7a5a80"/>
<circle cx="752.5" cy="127.8" r="1.5" fill="#8a5a78"/>
<circle cx="938.9" cy="100.5" r="1.5" fill="#6a5a98"/>
<circle cx="793.2" cy="165.8" r="1.3" fill="#8a6080"/>
<circle cx="1065.7" cy="153.8" r="1.0" fill="#7a5070"/>
<circle cx="989.2" cy="288.2" r="1.5" fill="#7a5070"/>
<circle cx="756.8" cy="64.0" r="1.4" fill="#7a5070"/>
<circle cx="977.1" cy="144.6" r="1.1" fill="#8a6080"/>
<circle cx="915.1" cy="135.5" r="1.0" fill="#7a5a80"/>
<circle cx="848.2" cy="131.9" r="1.4" fill="#7068a8"/>
<circle cx="892.4" cy="225.8" r="1.1" fill="#7a78b8"/>
<circle cx="868.1" cy="107.7" r="1.6" fill="#8a6080"/>
<circle cx="757.2" cy="116.2" r="1.6" fill="#7a5070"/>
<circle cx="990.3" cy="202.8" r="1.1" fill="#7068a8"/>
<circle cx="982.8" cy="250.7" r="1.2" fill="#9a7090"/>
<circle cx="1002.4" cy="210.7" r="1.4" fill="#7a5a80"/>
<circle cx="966.8" cy="217.9" r="1.0" fill="#6a5a98"/>
<circle cx="886.9" cy="153.1" r="1.3" fill="#7a78b8"/>
<circle cx="979.8" cy="111.7" r="1.4" fill="#7a5a80"/>
<circle cx="849.2" cy="219.8" r="1.4" fill="#9a7090"/>
<circle cx="954.0" cy="229.1" r="1.3" fill="#6a5a98"/>
<circle cx="917.8" cy="209.4" r="1.2" fill="#6a5a98"/>
<circle cx="913.3" cy="207.3" r="1.5" fill="#7a5070"/>
<circle cx="867.7" cy="160.1" r="1.1" fill="#7a78b8"/>
<circle cx="1047.8" cy="226.1" r="1.3" fill="#7a5070"/>
<circle cx="751.9" cy="222.2" r="1.5" fill="#7a78b8"/>
<circle cx="799.6" cy="84.3" r="1.3" fill="#6a5a98"/>
<circle cx="1046.0" cy="215.7" r="1.3" fill="#9a7090"/>
<circle cx="837.1" cy="74.9" r="1.5" fill="#7a5a80"/>
<circle cx="1028.8" cy="148.4" r="1.4" fill="#8a6080"/>
<circle cx="991.8" cy="85.5" r="1.5" fill="#7a5a80"/>
<circle cx="754.2" cy="95.8" r="1.4" fill="#7068a8"/>
<circle cx="867.6" cy="166.7" r="1.4" fill="#6a5a98"/>
<circle cx="872.5" cy="144.2" r="1.1" fill="#8a6080"/>
<circle cx="1064.7" cy="127.4" r="1.2" fill="#7a78b8"/>
<circle cx="1011.8" cy="216.8" r="1.5" fill="#6a5a98"/>
<circle cx="794.2" cy="235.2" r="1.6" fill="#8a5a78"/>
<circle cx="784.8" cy="279.0" r="1.3" fill="#7a78b8"/>
<circle cx="810.1" cy="153.0" r="1.2" fill="#7a5a80"/>
<circle cx="1032.2" cy="271.5" r="1.4" fill="#8a5a78"/>
<circle cx="908.5" cy="178.7" r="1.5" fill="#7a78b8"/>
<circle cx="766.0" cy="125.0" r="1.2" fill="#7a5070"/>
<circle cx="1069.8" cy="221.8" r="1.2" fill="#6a5a98"/>
<circle cx="892.1" cy="235.2" r="1.3" fill="#8a6080"/>
<circle cx="799.5" cy="258.9" r="1.5" fill="#7a5a80"/>
<circle cx="754.8" cy="284.4" r="1.3" fill="#7a78b8"/>
<circle cx="1028.7" cy="269.1" r="1.0" fill="#7a78b8"/>
<circle cx="855.5" cy="141.4" r="1.2" fill="#7a5070"/>
<circle cx="930.5" cy="152.7" r="1.5" fill="#6a5a98"/>
<circle cx="900.7" cy="252.9" r="1.3" fill="#7a78b8"/>
<circle cx="896.7" cy="91.1" r="1.3" fill="#7a5a80"/>
<circle cx="784.5" cy="160.7" r="1.3" fill="#7a5a80"/>
<circle cx="1020.2" cy="250.7" r="1.6" fill="#9a7090"/>
<circle cx="1041.2" cy="196.3" r="1.4" fill="#7a78b8"/>
<circle cx="1060.8" cy="149.1" r="1.0" fill="#7a5070"/>
<circle cx="1026.2" cy="141.7" r="1.5" fill="#7a78b8"/>
<circle cx="984.6" cy="149.1" r="1.3" fill="#6a5a98"/>
<circle cx="998.5" cy="115.6" r="1.2" fill="#9a7090"/>
<circle cx="929.5" cy="151.6" r="1.1" fill="#8a5a78"/>
<circle cx="911.5" cy="257.8" r="1.4" fill="#8a6080"/>
<circle cx="785.9" cy="207.8" r="1.1" fill="#8a6080"/>
<circle cx="821.3" cy="258.4" r="1.1" fill="#7068a8"/>
<circle cx="786.1" cy="161.2" r="1.6" fill="#6a5a98"/>
<circle cx="1002.7" cy="169.8" r="1.4" fill="#8a5a78"/>
<circle cx="1065.2" cy="64.0" r="1.4" fill="#8a6080"/>
<circle cx="1024.5" cy="177.5" r="1.3" fill="#8a5a78"/>
<circle cx="976.5" cy="104.2" r="1.5" fill="#6a5a98"/>
<circle cx="877.3" cy="205.3" r="1.5" fill="#8a6080"/>
<circle cx="887.5" cy="207.3" r="1.4" fill="#7a5070"/>
<circle cx="840.2" cy="291.4" r="1.6" fill="#7a78b8"/>
<circle cx="1013.4" cy="95.7" r="1.4" fill="#9a7090"/>
<circle cx="1025.8" cy="192.8" r="1.2" fill="#7a5070"/>
<circle cx="816.5" cy="210.9" r="1.2" fill="#7068a8"/>
<circle cx="1051.3" cy="94.4" r="1.4" fill="#8a5a78"/>
<circle cx="915.3" cy="227.6" r="1.2" fill="#6a5a98"/>
<circle cx="999.0" cy="196.3" r="1.3" fill="#8a6080"/>
<circle cx="970.8" cy="274.8" r="1.3" fill="#8a6080"/>
<circle cx="1014.5" cy="186.9" r="1.0" fill="#8a5a78"/>
<circle cx="768.3" cy="76.4" r="1.2" fill="#8a5a78"/>
<circle cx="1071.6" cy="225.0" r="1.1" fill="#7a5a80"/>
<circle cx="976.1" cy="132.9" r="1.5" fill="#7a5a80"/>
<circle cx="867.9" cy="170.3" r="1.4" fill="#7a5070"/>
<circle cx="993.0" cy="196.0" r="1.1" fill="#9a7090"/>
<circle cx="976.9" cy="74.1" r="1.2" fill="#8a6080"/>
<circle cx="1062.9" cy="294.3" r="1.2" fill="#7a5a80"/>
<circle cx="755.2" cy="122.6" r="1.4" fill="#7a78b8"/>
<circle cx="1021.6" cy="279.0" r="1.4" fill="#7068a8"/>
<circle cx="997.2" cy="192.5" r="1.4" fill="#7a5070"/>
<circle cx="846.9" cy="105.0" r="1.4" fill="#8a5a78"/>
<circle cx="1064.8" cy="237.2" r="1.1" fill="#7a5a80"/>
<circle cx="890.7" cy="194.9" r="1.1" fill="#9a7090"/>
<circle cx="752.8" cy="173.5" r="1.6" fill="#7a5a80"/>
<circle cx="801.1" cy="139.5" r="1.0" fill="#9a7090"/>
<circle cx="910.9" cy="198.7" r="1.2" fill="#7068a8"/>
<circle cx="922.3" cy="289.8" r="1.3" fill="#8a5a78"/>
<circle cx="886.6" cy="190.3" r="1.1" fill="#7a5070"/>
<circle cx="1039.0" cy="220.2" r="1.2" fill="#9a7090"/>
<circle cx="822.2" cy="241.4" r="1.3" fill="#7a5a80"/>
<circle cx="788.4" cy="145.0" r="1.1" fill="#7a5070"/>
<circle cx="1063.6" cy="224.8" r="1.2" fill="#6a5a98"/>
<circle cx="876.8" cy="191.0" r="1.2" fill="#7068a8"/>
<circle cx="918.7" cy="183.6" r="1.3" fill="#9a7090"/>
<circle cx="1043.8" cy="108.6" r="1.3" fill="#6a5a98"/>
<circle cx="805.6" cy="289.6" r="1.3" fill="#7a5a80"/>
<circle cx="955.4" cy="113.0" r="1.4" fill="#7a5070"/>
<circle cx="1033.0" cy="163.5" r="1.1" fill="#8a6080"/>
<circle cx="961.8" cy="285.7" r="1.4" fill="#8a5a78"/>
<circle cx="758.7" cy="232.9" r="1.0" fill="#6a5a98"/>
<circle cx="768.7" cy="251.2" r="1.3" fill="#7a5070"/>
<circle cx="1048.0" cy="159.6" r="1.3" fill="#8a6080"/>
<circle cx="892.2" cy="67.0" r="1.4" fill="#7a5a80"/>
<circle cx="960.1" cy="209.5" r="1.5" fill="#7a5a80"/>
<circle cx="979.5" cy="80.2" r="1.6" fill="#6a5a98"/>
<circle cx="845.5" cy="225.6" r="1.4" fill="#9a7090"/>
<circle cx="1000.5" cy="166.7" r="1.2" fill="#7a5a80"/>
<circle cx="905.5" cy="189.4" r="1.1" fill="#8a6080"/>
<circle cx="1010.7" cy="264.3" r="1.2" fill="#8a5a78"/>
<circle cx="848.2" cy="273.2" r="1.6" fill="#7068a8"/>
<circle cx="1063.1" cy="65.6" r="1.5" fill="#8a5a78"/>
<circle cx="791.2" cy="64.2" r="1.4" fill="#6a5a98"/>
<circle cx="850.3" cy="240.3" r="1.5" fill="#7068a8"/>
<circle cx="820.0" cy="277.6" r="1.5" fill="#8a5a78"/>
<circle cx="803.5" cy="115.3" r="1.5" fill="#7a5070"/>
<circle cx="788.4" cy="222.0" r="1.3" fill="#7a5a80"/>
<circle cx="1028.6" cy="284.0" r="1.6" fill="#7a78b8"/>
<circle cx="961.2" cy="80.3" r="1.4" fill="#9a7090"/>
<circle cx="783.0" cy="235.0" r="1.3" fill="#7068a8"/>
<circle cx="867.4" cy="222.1" r="1.1" fill="#9a7090"/>
<circle cx="953.0" cy="276.3" r="1.2" fill="#7a78b8"/>
<circle cx="858.0" cy="219.3" r="1.4" fill="#8a5a78"/>
<circle cx="935.4" cy="149.4" r="1.2" fill="#8a6080"/>
<circle cx="806.0" cy="137.2" r="1.5" fill="#8a6080"/>
<circle cx="841.2" cy="148.2" r="1.4" fill="#7068a8"/>
<circle cx="1037.2" cy="172.7" r="1.2" fill="#9a7090"/>
<circle cx="909.8" cy="88.8" r="1.4" fill="#6a5a98"/>
<circle cx="1025.4" cy="266.5" r="1.1" fill="#7a5070"/>
<circle cx="836.8" cy="273.1" r="1.0" fill="#6a5a98"/>
<circle cx="1041.8" cy="264.4" r="1.4" fill="#8a6080"/>
<circle cx="1001.8" cy="113.4" r="1.0" fill="#9a7090"/>
<circle cx="928.2" cy="299.7" r="1.3" fill="#8a5a78"/>
<circle cx="870.3" cy="115.9" r="1.5" fill="#9a7090"/>
<circle cx="794.6" cy="181.8" r="1.1" fill="#7068a8"/>
<circle cx="914.7" cy="220.1" r="1.5" fill="#8a5a78"/>
<circle cx="997.8" cy="96.3" r="1.1" fill="#8a5a78"/>
<circle cx="990.9" cy="177.6" r="1.2" fill="#7a5070"/>
<circle cx="999.2" cy="117.9" r="1.2" fill="#7a5070"/>
<circle cx="765.0" cy="112.0" r="1.5" fill="#7068a8"/>
<circle cx="877.5" cy="280.5" r="1.5" fill="#7a5a80"/>
<circle cx="1070.7" cy="139.8" r="1.4" fill="#9a7090"/>
<circle cx="1023.2" cy="125.4" r="1.3" fill="#8a5a78"/>
<circle cx="873.8" cy="152.7" r="1.4" fill="#6a5a98"/>
<circle cx="919.4" cy="152.2" r="1.5" fill="#8a6080"/>
<circle cx="866.0" cy="268.6" r="1.3" fill="#7a78b8"/>
<circle cx="1040.2" cy="64.6" r="1.5" fill="#7a78b8"/>
<circle cx="805.0" cy="81.3" r="1.4" fill="#7a5070"/>
<circle cx="800.0" cy="100.3" r="1.4" fill="#6a5a98"/>
<circle cx="966.5" cy="161.3" r="1.2" fill="#6a5a98"/>
<circle cx="908.0" cy="176.5" r="1.1" fill="#8a5a78"/>
<circle cx="962.0" cy="160.4" r="1.1" fill="#8a5a78"/>
<circle cx="938.0" cy="101.2" r="1.4" fill="#7a5a80"/>
<circle cx="1041.4" cy="97.8" r="1.1" fill="#8a5a78"/>
<circle cx="919.4" cy="159.1" r="1.6" fill="#7a5a80"/>
<circle cx="1037.4" cy="235.5" r="1.5" fill="#6a5a98"/>
<circle cx="821.6" cy="206.7" r="1.3" fill="#7a78b8"/>
<circle cx="806.6" cy="259.8" r="1.4" fill="#8a5a78"/>
<circle cx="954.2" cy="184.1" r="1.1" fill="#7068a8"/>
<circle cx="1051.7" cy="204.4" r="1.0" fill="#8a6080"/>
<circle cx="876.7" cy="88.7" r="1.1" fill="#8a6080"/>
<circle cx="1020.4" cy="206.5" r="1.1" fill="#7a5a80"/>
<circle cx="1037.1" cy="188.9" r="1.5" fill="#6a5a98"/>
<circle cx="908.2" cy="93.9" r="1.4" fill="#7a5a80"/>
<circle cx="1043.4" cy="246.6" r="1.4" fill="#8a6080"/>
<circle cx="871.7" cy="73.3" r="1.3" fill="#7a5070"/>
<circle cx="1056.9" cy="177.3" r="1.5" fill="#7068a8"/>
<circle cx="943.0" cy="238.7" r="1.5" fill="#6a5a98"/>
<circle cx="889.7" cy="123.3" r="1.5" fill="#6a5a98"/>
<circle cx="843.3" cy="270.8" r="1.2" fill="#7a5070"/>
<circle cx="752.8" cy="239.2" r="1.0" fill="#6a5a98"/>
<circle cx="920.4" cy="151.9" r="1.1" fill="#7068a8"/>
<circle cx="884.3" cy="88.3" r="1.3" fill="#9a7090"/>
<circle cx="836.2" cy="190.1" r="1.3" fill="#9a7090"/>
<circle cx="1074.3" cy="157.2" r="1.1" fill="#7a78b8"/>
<circle cx="809.3" cy="195.5" r="1.3" fill="#9a7090"/>
<circle cx="939.3" cy="246.5" r="1.2" fill="#8a5a78"/>
<circle cx="1029.7" cy="219.3" r="1.4" fill="#7a78b8"/>
<circle cx="1006.3" cy="288.0" r="1.1" fill="#8a6080"/>
<circle cx="1007.3" cy="252.8" r="1.4" fill="#7a5a80"/>
<circle cx="803.4" cy="291.6" r="1.0" fill="#6a5a98"/>
<circle cx="1019.4" cy="174.8" r="1.4" fill="#6a5a98"/>
<circle cx="771.9" cy="115.6" r="1.0" fill="#7a5a80"/>
<circle cx="987.2" cy="283.6" r="1.2" fill="#9a7090"/>
<circle cx="983.0" cy="204.6" r="1.6" fill="#8a5a78"/>
<circle cx="959.7" cy="167.0" r="1.1" fill="#9a7090"/>
<circle cx="814.5" cy="248.8" r="1.3" fill="#7a5070"/>
<circle cx="951.6" cy="222.7" r="1.2" fill="#7a5a80"/>
<circle cx="1069.1" cy="83.6" r="1.2" fill="#8a6080"/>
<circle cx="866.1" cy="156.6" r="1.4" fill="#7a5a80"/>
<circle cx="991.2" cy="79.3" r="1.1" fill="#9a7090"/>
<circle cx="987.7" cy="195.5" r="1.3" fill="#7068a8"/>
<circle cx="1065.0" cy="128.5" r="1.4" fill="#7a5070"/>
<circle cx="899.3" cy="158.7" r="1.0" fill="#8a5a78"/>
<circle cx="883.7" cy="88.2" r="1.0" fill="#9a7090"/>
<circle cx="861.8" cy="90.7" r="1.3" fill="#9a7090"/>
<circle cx="1036.6" cy="255.7" r="1.3" fill="#7a78b8"/>
<circle cx="1065.9" cy="196.5" r="1.5" fill="#7068a8"/>
<circle cx="1064.4" cy="171.7" r="1.3" fill="#7a5a80"/>
<circle cx="908.1" cy="124.1" r="1.2" fill="#7a5070"/>
<circle cx="971.7" cy="117.5" r="1.2" fill="#7068a8"/>
<circle cx="919.4" cy="65.3" r="1.5" fill="#7a5070"/>
<circle cx="844.7" cy="157.5" r="1.4" fill="#7068a8"/>
<circle cx="775.8" cy="283.7" r="1.3" fill="#7068a8"/>
<circle cx="822.3" cy="199.0" r="1.1" fill="#7a5070"/>
<circle cx="913.7" cy="110.3" r="1.4" fill="#9a7090"/>
<circle cx="818.4" cy="111.1" r="1.1" fill="#7068a8"/>
<circle cx="801.9" cy="88.3" r="1.6" fill="#7a78b8"/>
<circle cx="951.1" cy="244.1" r="1.3" fill="#7a5a80"/>
<circle cx="1027.5" cy="151.0" r="1.2" fill="#9a7090"/>
<circle cx="911.0" cy="296.3" r="1.5" fill="#9a7090"/>
<circle cx="880.7" cy="240.8" r="1.1" fill="#8a6080"/>
<circle cx="906.9" cy="191.2" r="1.3" fill="#8a6080"/>
<circle cx="1031.5" cy="246.9" r="1.3" fill="#6a5a98"/>
<circle cx="978.6" cy="172.0" r="1.4" fill="#7a5a80"/>
<circle cx="970.8" cy="152.9" r="1.1" fill="#7068a8"/>
<circle cx="950.8" cy="124.5" r="1.3" fill="#7a5070"/>
<circle cx="838.8" cy="290.2" r="1.2" fill="#8a5a78"/>
<circle cx="913.6" cy="112.9" r="1.4" fill="#7068a8"/>
<circle cx="870.0" cy="157.9" r="1.3" fill="#8a5a78"/>
<circle cx="1070.2" cy="225.6" r="1.5" fill="#9a7090"/>
<circle cx="1013.1" cy="194.6" r="1.5" fill="#7a5070"/>
<circle cx="798.5" cy="290.3" r="1.1" fill="#7a5a80"/>
<circle cx="808.6" cy="181.4" r="1.6" fill="#7068a8"/>
<circle cx="1007.0" cy="134.1" r="1.3" fill="#7a5a80"/>
<circle cx="880.9" cy="226.7" r="1.0" fill="#9a7090"/>
<circle cx="906.4" cy="212.3" r="1.3" fill="#7068a8"/>
<circle cx="835.7" cy="148.4" r="1.3" fill="#9a7090"/>
<circle cx="863.2" cy="160.6" r="1.2" fill="#7a5070"/>
<circle cx="939.1" cy="217.0" r="1.3" fill="#9a7090"/>
<circle cx="866.8" cy="222.5" r="1.3" fill="#7a78b8"/>
<circle cx="1041.0" cy="153.3" r="1.2" fill="#8a5a78"/>
<circle cx="1034.1" cy="214.8" r="1.6" fill="#8a6080"/>
<circle cx="956.8" cy="198.5" r="1.5" fill="#6a5a98"/>
<circle cx="776.8" cy="144.4" r="1.2" fill="#9a7090"/>
<circle cx="982.6" cy="206.5" r="1.2" fill="#7a78b8"/>
<circle cx="1005.6" cy="285.5" r="1.4" fill="#7a78b8"/>
<circle cx="886.0" cy="106.6" r="1.0" fill="#7a5070"/>
<circle cx="966.8" cy="285.9" r="1.4" fill="#6a5a98"/>
<circle cx="819.6" cy="157.1" r="1.1" fill="#7a78b8"/>
<circle cx="929.8" cy="69.2" r="1.2" fill="#6a5a98"/>
<circle cx="784.9" cy="209.5" r="1.1" fill="#8a6080"/>
<circle cx="851.9" cy="121.6" r="1.2" fill="#8a5a78"/>
<circle cx="793.8" cy="261.7" r="1.0" fill="#7068a8"/>
<circle cx="1031.5" cy="140.1" r="1.3" fill="#9a7090"/>
<circle cx="929.8" cy="95.0" r="1.6" fill="#8a5a78"/>
<circle cx="943.6" cy="171.2" r="1.4" fill="#8a6080"/>
<circle cx="921.6" cy="214.6" r="1.2" fill="#7068a8"/>
<circle cx="908.0" cy="116.8" r="1.1" fill="#9a7090"/>
<circle cx="870.2" cy="124.6" r="1.2" fill="#7a5a80"/>
<circle cx="921.6" cy="242.7" r="1.1" fill="#9a7090"/>
<circle cx="904.0" cy="65.0" r="1.6" fill="#7a78b8"/>
<circle cx="848.7" cy="244.5" r="1.5" fill="#7a5070"/>
<circle cx="1010.7" cy="192.9" r="1.1" fill="#8a6080"/>
<circle cx="879.7" cy="101.7" r="1.4" fill="#8a6080"/>
<circle cx="1021.1" cy="115.3" r="1.0" fill="#7a5070"/>
<circle cx="919.4" cy="252.6" r="1.4" fill="#9a7090"/>
<circle cx="843.8" cy="239.1" r="1.5" fill="#8a6080"/>
<circle cx="812.3" cy="79.2" r="1.1" fill="#6a5a98"/>
<circle cx="958.6" cy="209.4" r="1.2" fill="#7a78b8"/>
<circle cx="812.2" cy="67.6" r="1.0" fill="#7a5a80"/>
<circle cx="811.6" cy="87.2" r="1.2" fill="#7a78b8"/>
<circle cx="988.0" cy="118.2" r="1.1" fill="#7a78b8"/>
<circle cx="821.8" cy="162.6" r="1.5" fill="#7a78b8"/>
<circle cx="1076.3" cy="172.9" r="1.5" fill="#7068a8"/>
<circle cx="777.2" cy="240.9" r="1.1" fill="#9a7090"/>
<circle cx="1003.9" cy="79.9" r="1.3" fill="#7a5070"/>
<circle cx="1043.0" cy="122.3" r="1.2" fill="#7a5a80"/>
<circle cx="790.8" cy="245.1" r="1.1" fill="#7a78b8"/>
<circle cx="831.6" cy="298.7" r="1.1" fill="#6a5a98"/>
<circle cx="920.9" cy="295.8" r="1.3" fill="#9a7090"/>
<circle cx="1056.2" cy="100.6" r="1.4" fill="#6a5a98"/>
<circle cx="833.6" cy="214.3" r="1.1" fill="#7a5a80"/>
<circle cx="1032.6" cy="114.6" r="1.1" fill="#8a6080"/>
<circle cx="856.8" cy="102.7" r="1.2" fill="#6a5a98"/>
<circle cx="880.0" cy="120.6" r="1.6" fill="#7a78b8"/>
<circle cx="975.4" cy="99.7" r="1.5" fill="#7a5070"/>
<circle cx="802.4" cy="84.7" r="1.4" fill="#7a5a80"/>
<circle cx="770.5" cy="215.8" r="1.4" fill="#6a5a98"/>
<circle cx="792.0" cy="118.1" r="1.6" fill="#7068a8"/>
<circle cx="1013.6" cy="167.0" r="1.1" fill="#8a6080"/>
<circle cx="867.8" cy="94.9" r="1.5" fill="#7a78b8"/>
<circle cx="981.4" cy="195.5" r="1.3" fill="#7a78b8"/>
<circle cx="812.9" cy="107.2" r="1.2" fill="#7a78b8"/>
<circle cx="840.8" cy="260.0" r="1.5" fill="#8a5a78"/>
<circle cx="773.5" cy="99.7" r="1.2" fill="#9a7090"/>
<circle cx="927.6" cy="170.6" r="1.5" fill="#8a6080"/>
<circle cx="990.2" cy="272.3" r="1.4" fill="#7068a8"/>
<circle cx="1004.0" cy="119.6" r="1.4" fill="#8a6080"/>
<circle cx="812.9" cy="224.9" r="1.5" fill="#8a5a78"/>
<circle cx="950.9" cy="139.5" r="1.4" fill="#6a5a98"/>
<circle cx="782.4" cy="219.2" r="1.0" fill="#8a5a78"/>
<circle cx="809.2" cy="70.4" r="1.1" fill="#7a5070"/>
<circle cx="783.2" cy="198.3" r="1.5" fill="#7a78b8"/>
<circle cx="922.4" cy="229.2" r="1.2" fill="#7068a8"/>
<circle cx="823.0" cy="233.1" r="1.0" fill="#7a5070"/>
<circle cx="964.8" cy="283.0" r="1.5" fill="#7a78b8"/>
<circle cx="1012.1" cy="77.4" r="1.3" fill="#8a6080"/>
<circle cx="1019.0" cy="251.2" r="1.0" fill="#9a7090"/>
<circle cx="923.5" cy="237.0" r="1.5" fill="#6a5a98"/>
<circle cx="1058.9" cy="290.7" r="1.1" fill="#7a5070"/>
<circle cx="924.3" cy="107.9" r="1.3" fill="#7a5070"/>
<circle cx="936.8" cy="287.6" r="1.3" fill="#8a6080"/>
<circle cx="994.2" cy="244.6" r="1.3" fill="#7a78b8"/>
<circle cx="980.0" cy="164.2" r="1.1" fill="#8a5a78"/>
<circle cx="930.3" cy="182.6" r="1.4" fill="#7a78b8"/>
<circle cx="1055.3" cy="276.9" r="1.3" fill="#7068a8"/>
<circle cx="1026.4" cy="160.7" r="1.4" fill="#7068a8"/>
<circle cx="949.3" cy="196.5" r="1.1" fill="#9a7090"/>
<circle cx="868.4" cy="170.2" r="1.6" fill="#7a5a80"/>
<circle cx="987.8" cy="296.0" r="1.4" fill="#8a5a78"/>
<circle cx="1074.9" cy="134.5" r="1.2" fill="#7a5070"/>
<circle cx="821.0" cy="137.6" r="1.5" fill="#9a7090"/>
<circle cx="1050.6" cy="184.2" r="1.3" fill="#8a5a78"/>
<circle cx="781.7" cy="172.1" r="1.1" fill="#9a7090"/>
<circle cx="870.7" cy="201.0" r="1.1" fill="#9a7090"/>
<circle cx="781.0" cy="157.8" r="1.6" fill="#6a5a98"/>
<circle cx="986.9" cy="250.9" r="1.1" fill="#6a5a98"/>
<circle cx="945.0" cy="134.2" r="1.4" fill="#8a6080"/>
<circle cx="776.6" cy="76.3" r="1.5" fill="#7068a8"/>
<circle cx="1037.8" cy="165.9" r="1.6" fill="#6a5a98"/>
<circle cx="1034.6" cy="116.7" r="1.4" fill="#7a5a80"/>
<circle cx="957.6" cy="212.8" r="1.0" fill="#7a5a80"/>
<circle cx="855.1" cy="196.9" r="1.2" fill="#7a5070"/>
<circle cx="800.9" cy="222.7" r="1.6" fill="#7a78b8"/>
<circle cx="996.4" cy="199.3" r="1.1" fill="#8a6080"/>
<circle cx="845.5" cy="156.5" r="1.1" fill="#6a5a98"/>
<circle cx="906.1" cy="239.6" r="1.3" fill="#9a7090"/>
<circle cx="778.7" cy="181.9" r="1.5" fill="#8a5a78"/>
<circle cx="999.4" cy="177.0" r="1.1" fill="#8a6080"/>
<circle cx="963.6" cy="109.5" r="1.4" fill="#7a5070"/>
<circle cx="830.0" cy="126.1" r="1.3" fill="#6a5a98"/>
<circle cx="787.7" cy="161.0" r="1.2" fill="#7a5070"/>
<circle cx="855.6" cy="203.7" r="1.0" fill="#9a7090"/>
<circle cx="806.2" cy="145.9" r="1.5" fill="#7a78b8"/>
<circle cx="954.2" cy="167.4" r="1.6" fill="#7a5070"/>
<circle cx="816.1" cy="151.6" r="1.5" fill="#6a5a98"/>
<circle cx="787.6" cy="75.9" r="1.6" fill="#8a5a78"/>
<circle cx="1034.2" cy="257.4" r="1.0" fill="#6a5a98"/>
<circle cx="850.5" cy="174.7" r="1.2" fill="#7a5070"/>
<circle cx="817.4" cy="187.0" r="1.2" fill="#7a78b8"/>
<circle cx="954.1" cy="298.2" r="1.4" fill="#7a5a80"/>
<circle cx="873.8" cy="277.7" r="1.3" fill="#9a7090"/>
<circle cx="806.5" cy="130.3" r="1.5" fill="#9a7090"/>
<circle cx="768.3" cy="218.2" r="1.0" fill="#8a6080"/>
<circle cx="966.3" cy="220.1" r="1.5" fill="#7068a8"/>
<circle cx="1032.8" cy="67.5" r="1.5" fill="#8a6080"/>
<circle cx="826.4" cy="153.2" r="1.6" fill="#6a5a98"/>
<circle cx="1045.7" cy="177.9" r="1.4" fill="#6a5a98"/>
<circle cx="811.8" cy="181.7" r="1.3" fill="#7a5a80"/>
<circle cx="764.0" cy="281.6" r="1.2" fill="#7a78b8"/>
<circle cx="879.2" cy="100.2" r="1.2" fill="#7068a8"/>
<circle cx="866.9" cy="134.7" r="1.6" fill="#9a7090"/>
<circle cx="1015.7" cy="211.3" r="1.5" fill="#7a5a80"/>
<circle cx="1058.8" cy="287.9" r="1.1" fill="#7068a8"/>
<circle cx="1043.5" cy="218.7" r="1.1" fill="#8a6080"/>
<circle cx="920.8" cy="223.7" r="1.5" fill="#7a5070"/>
<circle cx="887.1" cy="198.8" r="1.3" fill="#9a7090"/>
<circle cx="1047.6" cy="141.0" r="1.3" fill="#7a5070"/>
<circle cx="963.7" cy="200.7" r="1.4" fill="#7a5070"/>
<circle cx="1032.2" cy="136.2" r="1.4" fill="#8a5a78"/>
<circle cx="891.2" cy="278.4" r="1.5" fill="#8a5a78"/>
<circle cx="854.5" cy="195.1" r="1.6" fill="#6a5a98"/>
<circle cx="811.0" cy="262.0" r="1.1" fill="#7a5a80"/>
<circle cx="1000.5" cy="271.6" r="1.2" fill="#8a6080"/>
<circle cx="849.9" cy="239.7" r="1.5" fill="#9a7090"/>
<circle cx="800.5" cy="107.5" r="1.1" fill="#7a5a80"/>
<circle cx="999.6" cy="208.0" r="1.2" fill="#7a5070"/>
<circle cx="945.4" cy="117.7" r="1.0" fill="#6a5a98"/>
<circle cx="975.3" cy="176.0" r="1.3" fill="#7a78b8"/>
<circle cx="983.1" cy="151.6" r="1.5" fill="#7a78b8"/>
<circle cx="905.5" cy="101.8" r="1.1" fill="#8a6080"/>
<circle cx="1000.2" cy="66.6" r="1.2" fill="#8a6080"/>
<circle cx="823.6" cy="222.1" r="1.1" fill="#7a5070"/>
<circle cx="772.6" cy="282.7" r="1.6" fill="#7a78b8"/>
<circle cx="975.2" cy="268.4" r="1.5" fill="#8a6080"/>
<circle cx="883.0" cy="72.9" r="1.4" fill="#8a6080"/>
<circle cx="985.8" cy="156.4" r="1.6" fill="#7a5a80"/>
<circle cx="920.7" cy="170.0" r="1.5" fill="#7a5a80"/>
<circle cx="1037.2" cy="121.2" r="1.3" fill="#7a5a80"/>
<circle cx="932.8" cy="185.3" r="1.4" fill="#7a5a80"/>
<circle cx="812.9" cy="167.2" r="1.5" fill="#9a7090"/>
<circle cx="901.4" cy="163.1" r="1.4" fill="#7a5a80"/>
<circle cx="975.9" cy="277.2" r="1.3" fill="#7a78b8"/>
<circle cx="780.5" cy="181.7" r="1.1" fill="#8a5a78"/>
<circle cx="879.1" cy="139.7" r="1.0" fill="#7a78b8"/>
<circle cx="943.4" cy="231.9" r="1.1" fill="#7a78b8"/>
<circle cx="780.4" cy="139.8" r="1.4" fill="#8a5a78"/>
<circle cx="985.2" cy="92.3" r="1.1" fill="#7a78b8"/>
<circle cx="957.7" cy="83.2" r="1.4" fill="#8a5a78"/>
<circle cx="874.4" cy="153.2" r="1.5" fill="#7068a8"/>
<circle cx="935.4" cy="219.3" r="1.1" fill="#8a5a78"/>
<circle cx="809.3" cy="231.8" r="1.3" fill="#9a7090"/>
<circle cx="989.0" cy="290.7" r="1.2" fill="#8a5a78"/>
<circle cx="789.3" cy="94.2" r="1.1" fill="#9a7090"/>
<circle cx="755.0" cy="180.9" r="1.3" fill="#7a5a80"/>
<circle cx="949.2" cy="180.0" r="1.1" fill="#7a78b8"/>
<circle cx="898.9" cy="167.7" r="1.4" fill="#7a5a80"/>
<circle cx="830.8" cy="192.7" r="1.4" fill="#7a5070"/>
<circle cx="766.9" cy="98.1" r="1.4" fill="#7a5a80"/>
<circle cx="798.4" cy="70.7" r="1.3" fill="#9a7090"/>
<circle cx="858.9" cy="83.8" r="1.1" fill="#8a5a78"/>
<circle cx="803.6" cy="130.4" r="1.4" fill="#8a5a78"/>
<circle cx="1066.0" cy="240.6" r="1.2" fill="#7a5a80"/>
<circle cx="781.4" cy="133.9" r="1.2" fill="#8a6080"/>
<circle cx="1018.4" cy="242.8" r="1.5" fill="#6a5a98"/>
<circle cx="846.5" cy="94.9" r="1.4" fill="#9a7090"/>
<circle cx="858.3" cy="161.1" r="1.1" fill="#7a5070"/>
<circle cx="950.5" cy="88.9" r="1.4" fill="#6a5a98"/>
<circle cx="908.7" cy="226.2" r="1.6" fill="#9a7090"/>
<circle cx="890.2" cy="263.9" r="1.2" fill="#7068a8"/>
<circle cx="1053.2" cy="208.6" r="1.3" fill="#7a78b8"/>
<circle cx="911.6" cy="105.6" r="1.4" fill="#9a7090"/>
<circle cx="1070.2" cy="63.4" r="1.0" fill="#6a5a98"/>
<circle cx="991.4" cy="112.1" r="1.4" fill="#8a6080"/>
<circle cx="886.0" cy="142.1" r="1.3" fill="#7a5070"/>
<circle cx="754.7" cy="110.7" r="1.2" fill="#6a5a98"/>
<circle cx="851.3" cy="183.1" r="1.2" fill="#7a5a80"/>
<circle cx="788.1" cy="142.0" r="1.2" fill="#7a5a80"/>
<circle cx="1022.2" cy="109.0" r="1.5" fill="#7a78b8"/>
<circle cx="1049.7" cy="251.9" r="1.4" fill="#7a78b8"/>
<circle cx="801.7" cy="172.2" r="1.5" fill="#7068a8"/>
<circle cx="901.8" cy="256.0" r="1.6" fill="#7a5a80"/>
<circle cx="1023.2" cy="133.9" r="1.4" fill="#7068a8"/>
<circle cx="932.0" cy="67.4" r="1.3" fill="#7068a8"/>
<circle cx="1011.6" cy="273.5" r="1.2" fill="#8a5a78"/>
<circle cx="842.4" cy="70.4" r="1.6" fill="#8a5a78"/>
<circle cx="937.1" cy="155.3" r="1.4" fill="#9a7090"/>
<circle cx="980.9" cy="137.5" r="1.0" fill="#8a6080"/>
<circle cx="779.3" cy="270.9" r="1.2" fill="#9a7090"/>
<circle cx="821.5" cy="134.6" r="1.1" fill="#7a5a80"/>
<circle cx="1004.6" cy="279.5" r="1.3" fill="#7a5a80"/>
<circle cx="1011.5" cy="277.5" r="1.1" fill="#7068a8"/>
<circle cx="1052.1" cy="236.6" r="1.3" fill="#7068a8"/>
<circle cx="797.7" cy="269.6" r="1.5" fill="#8a5a78"/>
<circle cx="817.9" cy="71.7" r="1.2" fill="#6a5a98"/>
<circle cx="752.3" cy="284.0" r="1.4" fill="#6a5a98"/>
<circle cx="859.7" cy="273.7" r="1.1" fill="#9a7090"/>
<circle cx="758.3" cy="242.8" r="1.4" fill="#7a5070"/>
<circle cx="855.6" cy="108.6" r="1.2" fill="#7068a8"/>
<circle cx="1002.9" cy="222.1" r="1.2" fill="#8a5a78"/>
<circle cx="840.2" cy="66.6" r="1.4" fill="#6a5a98"/>
<circle cx="818.3" cy="146.0" r="1.2" fill="#8a5a78"/>
<circle cx="1058.5" cy="253.5" r="1.3" fill="#8a5a78"/>
<circle cx="774.2" cy="208.3" r="1.2" fill="#7a78b8"/>
<circle cx="767.5" cy="69.9" r="1.5" fill="#7a5a80"/>
<circle cx="785.5" cy="75.8" r="1.3" fill="#8a5a78"/>
<circle cx="980.7" cy="274.2" r="1.4" fill="#7a78b8"/>
<circle cx="951.9" cy="137.0" r="1.5" fill="#6a5a98"/>
<circle cx="1068.4" cy="242.1" r="1.3" fill="#8a5a78"/>
<circle cx="781.3" cy="253.2" r="1.4" fill="#6a5a98"/>
<circle cx="899.5" cy="225.2" r="1.4" fill="#7a78b8"/>
<circle cx="904.4" cy="287.5" r="1.1" fill="#9a7090"/>
<circle cx="1048.6" cy="155.9" r="1.4" fill="#7068a8"/>
<circle cx="1008.1" cy="272.1" r="1.3" fill="#7a5a80"/>
<circle cx="772.3" cy="89.8" r="1.3" fill="#8a5a78"/>
<circle cx="843.0" cy="145.6" r="1.3" fill="#6a5a98"/>
<circle cx="883.3" cy="232.3" r="1.1" fill="#6a5a98"/>
<circle cx="1009.3" cy="189.3" r="1.2" fill="#8a6080"/>
<circle cx="828.8" cy="120.8" r="1.1" fill="#7a78b8"/>
<circle cx="876.1" cy="143.7" r="1.5" fill="#8a6080"/>
<circle cx="1006.7" cy="166.2" r="1.5" fill="#7a5070"/>
<circle cx="807.4" cy="221.7" r="1.4" fill="#7a78b8"/>
<circle cx="788.3" cy="204.3" r="1.2" fill="#6a5a98"/>
<circle cx="1019.0" cy="104.8" r="1.6" fill="#6a5a98"/>
<circle cx="946.0" cy="225.5" r="1.4" fill="#8a6080"/>
<circle cx="857.7" cy="215.9" r="1.0" fill="#7a5070"/>
<circle cx="1017.4" cy="273.3" r="1.5" fill="#7a5a80"/>
<circle cx="997.8" cy="219.6" r="1.3" fill="#9a7090"/>
<circle cx="878.1" cy="200.0" r="1.1" fill="#7068a8"/>
<circle cx="848.7" cy="251.3" r="1.4" fill="#8a6080"/>
<circle cx="985.0" cy="279.9" r="1.6" fill="#7a5a80"/>
<circle cx="950.3" cy="184.0" r="1.5" fill="#9a7090"/>
<circle cx="771.3" cy="276.6" r="1.6" fill="#7a5a80"/>
<circle cx="980.3" cy="257.5" r="1.2" fill="#9a7090"/>
<circle cx="1033.2" cy="118.8" r="1.4" fill="#8a6080"/>
<circle cx="954.8" cy="231.7" r="1.2" fill="#8a6080"/>
<circle cx="928.7" cy="220.0" r="1.3" fill="#7a5070"/>
<circle cx="932.1" cy="262.9" r="1.2" fill="#8a6080"/>
<circle cx="801.3" cy="299.4" r="1.4" fill="#8a5a78"/>
<circle cx="754.8" cy="216.7" r="1.1" fill="#7a78b8"/>
<circle cx="965.5" cy="294.1" r="1.1" fill="#8a5a78"/>
<circle cx="960.4" cy="161.6" r="1.3" fill="#8a6080"/>
<circle cx="954.2" cy="170.7" r="1.3" fill="#7a78b8"/>
<circle cx="876.4" cy="116.5" r="1.3" fill="#7a5a80"/>
<circle cx="939.4" cy="263.7" r="1.1" fill="#9a7090"/>
<circle cx="884.9" cy="192.4" r="1.2" fill="#7a5a80"/>
<circle cx="936.2" cy="230.1" r="1.1" fill="#7a78b8"/>
<circle cx="1064.5" cy="82.0" r="1.4" fill="#9a7090"/>
<circle cx="902.6" cy="81.5" r="1.5" fill="#6a5a98"/>
<circle cx="830.9" cy="212.5" r="1.4" fill="#6a5a98"/>
<circle cx="974.0" cy="190.8" r="1.3" fill="#7a5a80"/>
<circle cx="1045.6" cy="189.8" r="1.0" fill="#7a78b8"/>
<circle cx="918.1" cy="174.2" r="1.4" fill="#8a6080"/>
<circle cx="866.1" cy="294.7" r="1.2" fill="#8a5a78"/>
<circle cx="762.5" cy="281.7" r="1.4" fill="#9a7090"/>
<circle cx="771.0" cy="175.1" r="1.1" fill="#7a5a80"/>
<circle cx="965.0" cy="132.1" r="1.4" fill="#7a5a80"/>
<circle cx="844.5" cy="82.6" r="1.3" fill="#9a7090"/>
<circle cx="833.2" cy="208.9" r="1.2" fill="#9a7090"/>
<circle cx="755.6" cy="89.4" r="1.1" fill="#8a5a78"/>
<circle cx="965.9" cy="150.6" r="1.1" fill="#7a5070"/>
<circle cx="909.1" cy="252.5" r="1.5" fill="#7068a8"/>
<circle cx="1071.8" cy="292.3" r="1.4" fill="#8a5a78"/>
<circle cx="1024.1" cy="241.4" r="1.2" fill="#8a6080"/>
<circle cx="828.6" cy="167.3" r="1.4" fill="#7a5070"/>
<circle cx="939.3" cy="262.5" r="1.0" fill="#9a7090"/>
<circle cx="997.3" cy="90.5" r="1.1" fill="#8a6080"/>
<circle cx="906.3" cy="175.9" r="1.6" fill="#7a5070"/>
<circle cx="874.8" cy="230.2" r="1.3" fill="#8a5a78"/>
<circle cx="923.9" cy="166.0" r="1.2" fill="#7a78b8"/>
<circle cx="875.5" cy="137.8" r="1.3" fill="#7a5a80"/>
<circle cx="782.7" cy="188.9" r="1.2" fill="#8a6080"/>
<circle cx="950.0" cy="217.5" r="1.2" fill="#9a7090"/>
<circle cx="838.1" cy="86.3" r="1.4" fill="#8a6080"/>
<circle cx="901.3" cy="223.0" r="1.1" fill="#7a5070"/>
<circle cx="920.5" cy="223.6" r="1.6" fill="#7068a8"/>
<circle cx="929.5" cy="222.5" r="1.5" fill="#7a5a80"/>
<circle cx="885.1" cy="187.5" r="1.4" fill="#7068a8"/>
<circle cx="822.5" cy="130.1" r="1.1" fill="#7a5a80"/>
<circle cx="952.9" cy="76.5" r="1.4" fill="#7a5070"/>
<circle cx="1060.9" cy="214.2" r="1.4" fill="#6a5a98"/>
<circle cx="779.2" cy="206.3" r="1.2" fill="#8a5a78"/>
<circle cx="1043.1" cy="227.9" r="1.2" fill="#7a78b8"/>
<circle cx="966.3" cy="80.9" r="1.3" fill="#9a7090"/>
<circle cx="1001.8" cy="227.1" r="1.4" fill="#7068a8"/>
<circle cx="834.9" cy="248.0" r="1.2" fill="#7a5a80"/>
<circle cx="875.8" cy="141.8" r="1.0" fill="#9a7090"/>
<circle cx="809.0" cy="79.4" r="1.6" fill="#7a5070"/>
<circle cx="950.0" cy="105.3" r="1.3" fill="#8a5a78"/>
<circle cx="927.2" cy="165.2" r="1.4" fill="#6a5a98"/>
<circle cx="1048.5" cy="232.5" r="1.1" fill="#6a5a98"/>
<circle cx="774.0" cy="235.4" r="1.5" fill="#7a5a80"/>
<circle cx="1043.3" cy="98.3" r="1.4" fill="#7a5a80"/>
<circle cx="967.7" cy="126.1" r="1.4" fill="#8a6080"/>
<circle cx="938.3" cy="185.1" r="1.6" fill="#7a78b8"/>
<circle cx="906.9" cy="158.7" r="1.4" fill="#6a5a98"/>
<circle cx="927.1" cy="63.8" r="1.6" fill="#7a78b8"/>
<circle cx="790.5" cy="189.9" r="1.6" fill="#7068a8"/>
<circle cx="973.3" cy="157.9" r="1.4" fill="#6a5a98"/>
<circle cx="870.1" cy="265.2" r="1.2" fill="#7a78b8"/>
<circle cx="998.9" cy="131.7" r="1.1" fill="#7a5a80"/>
<circle cx="1066.4" cy="219.6" r="1.2" fill="#8a6080"/>
<circle cx="1043.2" cy="212.5" r="1.2" fill="#6a5a98"/>
<circle cx="1039.6" cy="166.8" r="1.1" fill="#7a5a80"/>
<circle cx="813.9" cy="233.6" r="1.4" fill="#7a78b8"/>
<circle cx="877.7" cy="250.9" r="1.4" fill="#7a78b8"/>
<circle cx="925.1" cy="260.7" r="1.3" fill="#7a5a80"/>
<circle cx="763.1" cy="76.3" r="1.5" fill="#7a5a80"/>
<circle cx="883.2" cy="113.2" r="1.4" fill="#7a78b8"/>
<circle cx="1057.5" cy="269.2" r="1.3" fill="#7a5070"/>
<circle cx="1052.5" cy="71.7" r="1.1" fill="#7a5a80"/>
<circle cx="904.6" cy="280.6" r="1.0" fill="#8a5a78"/>
<circle cx="755.7" cy="212.9" r="1.5" fill="#6a5a98"/>
<circle cx="899.7" cy="103.5" r="1.4" fill="#6a5a98"/>
<circle cx="788.2" cy="204.0" r="1.4" fill="#6a5a98"/>
<circle cx="1013.3" cy="164.0" r="1.5" fill="#8a6080"/>
<circle cx="856.7" cy="294.3" r="1.3" fill="#8a5a78"/>
<circle cx="855.8" cy="291.6" r="1.1" fill="#7a5a80"/>
<circle cx="944.3" cy="142.5" r="1.1" fill="#8a5a78"/>
<circle cx="998.0" cy="102.8" r="1.2" fill="#8a5a78"/>
<circle cx="894.0" cy="282.4" r="1.0" fill="#6a5a98"/>
<circle cx="1008.9" cy="212.8" r="1.2" fill="#8a5a78"/>
<circle cx="756.1" cy="178.4" r="1.0" fill="#8a5a78"/>
<circle cx="1052.9" cy="230.5" r="1.4" fill="#9a7090"/>
<circle cx="886.7" cy="254.4" r="1.5" fill="#8a5a78"/>
<circle cx="818.2" cy="214.6" r="1.3" fill="#8a6080"/>
<circle cx="829.0" cy="104.4" r="1.4" fill="#8a5a78"/>
<circle cx="984.8" cy="208.1" r="1.1" fill="#9a7090"/>
<circle cx="864.4" cy="64.1" r="1.1" fill="#6a5a98"/>
<circle cx="1072.6" cy="294.5" r="1.4" fill="#7a5070"/>
<circle cx="902.3" cy="211.5" r="1.1" fill="#7a5a80"/>
<circle cx="814.2" cy="251.8" r="1.4" fill="#7a78b8"/>
<circle cx="913.2" cy="100.9" r="1.6" fill="#7a5a80"/>
<circle cx="961.2" cy="130.6" r="1.3" fill="#7068a8"/>
<circle cx="952.1" cy="273.9" r="1.3" fill="#6a5a98"/>
<circle cx="992.4" cy="282.2" r="1.1" fill="#7a5a80"/>
<circle cx="909.1" cy="90.5" r="1.5" fill="#7a78b8"/>
<circle cx="944.2" cy="140.3" r="1.1" fill="#7068a8"/>
<circle cx="826.0" cy="89.1" r="1.1" fill="#7a5070"/>
<circle cx="991.5" cy="269.2" r="1.2" fill="#7a5070"/>
<circle cx="775.0" cy="201.7" r="1.0" fill="#8a6080"/>
<circle cx="798.3" cy="282.9" r="1.3" fill="#8a6080"/>
<circle cx="872.8" cy="171.5" r="1.1" fill="#7068a8"/>
<circle cx="1069.0" cy="110.9" r="1.1" fill="#7a5a80"/>
<circle cx="842.5" cy="89.3" r="1.3" fill="#8a6080"/>
<circle cx="806.8" cy="144.4" r="1.5" fill="#8a5a78"/>
<circle cx="1008.4" cy="214.2" r="1.4" fill="#8a5a78"/>
<circle cx="939.5" cy="194.0" r="1.1" fill="#8a6080"/>
<circle cx="1030.4" cy="178.9" r="1.6" fill="#7a78b8"/>
<circle cx="1023.9" cy="129.2" r="1.4" fill="#7a5070"/>
<circle cx="831.8" cy="165.9" r="1.1" fill="#8a5a78"/>
<circle cx="1048.9" cy="275.9" r="1.3" fill="#7a5a80"/>
<circle cx="764.1" cy="174.5" r="1.5" fill="#7a5a80"/>
<circle cx="889.8" cy="156.5" r="1.5" fill="#6a5a98"/>
<circle cx="898.5" cy="120.0" r="1.3" fill="#7a5a80"/>
<circle cx="977.0" cy="159.4" r="1.1" fill="#7068a8"/>
<circle cx="847.4" cy="216.5" r="1.1" fill="#7a78b8"/>
<circle cx="969.1" cy="101.3" r="1.3" fill="#7a5a80"/>
<circle cx="1069.3" cy="172.9" r="1.1" fill="#8a6080"/>
<circle cx="811.3" cy="269.6" r="1.4" fill="#7a5a80"/>
<circle cx="1031.5" cy="79.8" r="1.5" fill="#7068a8"/>
<circle cx="924.1" cy="133.3" r="1.5" fill="#7a5070"/>
<circle cx="1007.8" cy="82.2" r="1.5" fill="#7a5a80"/>
<circle cx="918.8" cy="278.7" r="1.2" fill="#7a5a80"/>
<circle cx="787.2" cy="149.6" r="1.4" fill="#7068a8"/>
<circle cx="870.5" cy="216.6" r="1.4" fill="#7a5070"/>
<circle cx="796.1" cy="142.4" r="1.3" fill="#7a78b8"/>
<circle cx="991.4" cy="241.3" r="1.5" fill="#7a5070"/>
<circle cx="996.5" cy="243.3" r="1.2" fill="#9a7090"/>
<circle cx="915.2" cy="163.2" r="1.0" fill="#7068a8"/>
<circle cx="863.5" cy="178.2" r="1.3" fill="#6a5a98"/>
<circle cx="904.3" cy="189.1" r="1.5" fill="#9a7090"/>
<circle cx="898.3" cy="150.3" r="1.4" fill="#6a5a98"/>
<circle cx="812.4" cy="272.5" r="1.1" fill="#8a6080"/>
<circle cx="1043.7" cy="131.3" r="1.6" fill="#6a5a98"/>
<circle cx="804.7" cy="89.5" r="1.1" fill="#8a5a78"/>
<circle cx="1036.2" cy="186.4" r="1.4" fill="#9a7090"/>
<circle cx="886.8" cy="224.7" r="1.6" fill="#7a78b8"/>
<circle cx="864.0" cy="168.2" r="1.4" fill="#9a7090"/>
<circle cx="812.6" cy="68.2" r="1.5" fill="#7068a8"/>
<circle cx="885.2" cy="144.2" r="1.4" fill="#7068a8"/>
<circle cx="909.5" cy="220.8" r="1.3" fill="#7a78b8"/>
<circle cx="900.3" cy="197.4" r="1.5" fill="#9a7090"/>
<circle cx="807.0" cy="124.6" r="1.3" fill="#9a7090"/>
<circle cx="1001.9" cy="74.2" r="1.2" fill="#7a78b8"/>
<circle cx="1062.7" cy="209.6" r="1.1" fill="#9a7090"/>
<circle cx="810.4" cy="104.6" r="1.4" fill="#8a5a78"/>
<circle cx="803.6" cy="90.7" r="1.6" fill="#8a5a78"/>
<circle cx="894.7" cy="150.6" r="1.1" fill="#7a5a80"/>
<circle cx="968.0" cy="294.8" r="1.1" fill="#7a78b8"/>
<circle cx="927.0" cy="101.5" r="1.2" fill="#7a5a80"/>
<circle cx="882.9" cy="181.4" r="1.1" fill="#7a78b8"/>
<circle cx="1053.5" cy="100.0" r="1.6" fill="#7068a8"/>
<circle cx="962.0" cy="133.0" r="1.5" fill="#8a5a78"/>
<circle cx="1011.7" cy="235.7" r="1.6" fill="#7068a8"/>
<circle cx="975.7" cy="236.4" r="1.5" fill="#8a5a78"/>
<circle cx="972.0" cy="90.7" r="1.0" fill="#7a5070"/>
<circle cx="896.4" cy="84.9" r="1.0" fill="#7a5070"/>
<circle cx="941.2" cy="115.6" r="1.6" fill="#9a7090"/>
<circle cx="814.8" cy="82.8" r="1.5" fill="#6a5a98"/>
<circle cx="1069.1" cy="156.5" r="1.3" fill="#7a5a80"/>
<circle cx="1047.2" cy="148.6" r="1.1" fill="#8a6080"/>
<circle cx="871.5" cy="151.4" r="1.2" fill="#7068a8"/>
<circle cx="851.4" cy="168.6" r="1.3" fill="#7a5070"/>
<circle cx="988.3" cy="168.3" r="1.6" fill="#7a78b8"/>
<circle cx="845.1" cy="253.9" r="1.6" fill="#8a6080"/>
<circle cx="988.5" cy="161.2" r="1.5" fill="#6a5a98"/>
<circle cx="797.8" cy="134.9" r="1.6" fill="#7068a8"/>
<circle cx="772.6" cy="290.5" r="1.5" fill="#6a5a98"/>
<circle cx="753.2" cy="214.4" r="1.2" fill="#8a5a78"/>
<circle cx="932.2" cy="231.3" r="1.5" fill="#8a5a78"/>
<circle cx="816.0" cy="260.3" r="1.2" fill="#7a78b8"/>
<circle cx="764.8" cy="258.8" r="1.5" fill="#9a7090"/>
<circle cx="912.1" cy="238.3" r="1.1" fill="#7a5a80"/>
<circle cx="801.2" cy="134.1" r="1.4" fill="#7a78b8"/>
<circle cx="791.5" cy="220.8" r="1.2" fill="#8a5a78"/>
<circle cx="911.4" cy="226.0" r="1.1" fill="#6a5a98"/>
<circle cx="1000.3" cy="179.9" r="1.6" fill="#7068a8"/>
<circle cx="940.4" cy="197.0" r="1.5" fill="#7a78b8"/>
<circle cx="1068.6" cy="256.9" r="1.2" fill="#7a5a80"/>
<circle cx="1026.6" cy="101.6" r="1.0" fill="#7068a8"/>
<circle cx="901.3" cy="227.3" r="1.2" fill="#7a5a80"/>
<circle cx="839.9" cy="162.4" r="1.5" fill="#7068a8"/>
<circle cx="766.9" cy="132.1" r="1.4" fill="#6a5a98"/>
<circle cx="918.5" cy="244.6" r="1.1" fill="#6a5a98"/>
<circle cx="946.2" cy="102.6" r="1.2" fill="#7068a8"/>
<circle cx="1020.5" cy="225.3" r="1.2" fill="#7068a8"/>
<circle cx="782.2" cy="200.5" r="1.5" fill="#7a5a80"/>
<circle cx="795.6" cy="129.7" r="1.5" fill="#8a6080"/>
<circle cx="861.9" cy="278.9" r="1.1" fill="#8a5a78"/>
<circle cx="915.1" cy="260.1" r="1.5" fill="#6a5a98"/>
<circle cx="887.1" cy="280.1" r="1.1" fill="#8a5a78"/>
<circle cx="1052.0" cy="176.6" r="1.2" fill="#7068a8"/>
<circle cx="796.3" cy="167.7" r="1.6" fill="#7068a8"/>
<circle cx="807.1" cy="135.2" r="1.4" fill="#6a5a98"/>
<circle cx="823.5" cy="266.1" r="1.1" fill="#7a5070"/>
<circle cx="851.2" cy="112.7" r="1.6" fill="#8a6080"/>
<circle cx="976.2" cy="248.8" r="1.0" fill="#7a78b8"/>
<circle cx="997.9" cy="73.1" r="1.1" fill="#7a5a80"/>
<circle cx="903.9" cy="278.3" r="1.0" fill="#9a7090"/>
<circle cx="968.6" cy="241.8" r="1.5" fill="#7a5070"/>
<circle cx="942.6" cy="110.4" r="1.4" fill="#7a5a80"/>
<circle cx="780.6" cy="263.5" r="1.6" fill="#7068a8"/>
<circle cx="865.8" cy="265.7" r="1.5" fill="#7a5070"/>
<circle cx="915.6" cy="79.2" r="1.5" fill="#7a5a80"/>
<circle cx="923.4" cy="232.6" r="1.6" fill="#8a5a78"/>
<circle cx="1044.9" cy="190.3" r="1.6" fill="#6a5a98"/>
<circle cx="1052.3" cy="281.2" r="1.5" fill="#7a78b8"/>
<circle cx="870.5" cy="202.7" r="1.3" fill="#6a5a98"/>
<circle cx="810.0" cy="147.1" r="1.2" fill="#7a5070"/>
<circle cx="918.6" cy="159.6" r="1.5" fill="#7068a8"/>
<circle cx="791.3" cy="89.1" r="1.1" fill="#7068a8"/>
<circle cx="980.7" cy="195.0" r="1.0" fill="#7068a8"/>
<circle cx="912.0" cy="154.2" r="1.3" fill="#9a7090"/>
<circle cx="975.0" cy="262.3" r="1.1" fill="#8a6080"/>
<circle cx="845.7" cy="265.7" r="1.1" fill="#6a5a98"/>
<circle cx="1042.7" cy="253.2" r="1.6" fill="#7068a8"/>
<circle cx="809.5" cy="299.7" r="1.3" fill="#6a5a98"/>
<circle cx="880.2" cy="186.9" r="1.4" fill="#6a5a98"/>
<circle cx="797.7" cy="157.9" r="1.4" fill="#6a5a98"/>
<circle cx="992.7" cy="274.5" r="1.1" fill="#7068a8"/>
<circle cx="1068.9" cy="143.3" r="1.4" fill="#8a6080"/>
<circle cx="791.0" cy="261.6" r="1.4" fill="#9a7090"/>
<circle cx="1000.3" cy="244.5" r="1.4" fill="#8a6080"/>
<circle cx="867.1" cy="221.0" r="1.6" fill="#7a78b8"/>
<circle cx="917.7" cy="97.9" r="1.3" fill="#6a5a98"/>
<circle cx="832.7" cy="180.9" r="1.4" fill="#8a5a78"/>
<circle cx="760.7" cy="237.9" r="1.5" fill="#7a78b8"/>
<circle cx="972.1" cy="293.4" r="1.2" fill="#7068a8"/>
<circle cx="800.8" cy="210.4" r="1.1" fill="#6a5a98"/>
<circle cx="966.5" cy="186.2" r="1.3" fill="#7a78b8"/>
<circle cx="816.8" cy="219.9" r="1.3" fill="#9a7090"/>
<circle cx="927.8" cy="254.8" r="1.3" fill="#7a5a80"/>
<circle cx="1061.5" cy="70.5" r="1.3" fill="#6a5a98"/>
<circle cx="876.1" cy="137.6" r="1.2" fill="#7a78b8"/>
<circle cx="762.7" cy="104.9" r="1.4" fill="#9a7090"/>
<circle cx="1039.4" cy="101.9" r="1.3" fill="#9a7090"/>
<circle cx="984.3" cy="178.5" r="1.1" fill="#7a78b8"/>
<circle cx="966.2" cy="225.4" r="1.3" fill="#7a78b8"/>
<circle cx="934.3" cy="100.0" r="1.0" fill="#9a7090"/>
<circle cx="912.3" cy="293.1" r="1.4" fill="#7068a8"/>
<circle cx="1000.9" cy="130.4" r="1.0" fill="#7a5a80"/>
<circle cx="792.8" cy="149.8" r="1.5" fill="#7a5a80"/>
<circle cx="1000.5" cy="211.2" r="1.2" fill="#8a6080"/>
<circle cx="863.5" cy="147.7" r="1.2" fill="#7a5070"/>
<circle cx="831.7" cy="216.6" r="1.4" fill="#6a5a98"/>
<circle cx="1034.3" cy="90.1" r="1.1" fill="#7068a8"/>
<circle cx="763.2" cy="218.9" r="1.3" fill="#8a6080"/>
<circle cx="837.9" cy="227.9" r="1.4" fill="#7068a8"/>
<circle cx="874.1" cy="155.5" r="1.3" fill="#7a78b8"/>
<circle cx="783.6" cy="223.0" r="1.2" fill="#7068a8"/>
<circle cx="805.3" cy="134.0" r="1.6" fill="#7a5070"/>
<circle cx="913.0" cy="263.8" r="1.5" fill="#7a5070"/>
<circle cx="844.7" cy="74.3" r="1.6" fill="#8a6080"/>
<circle cx="1013.3" cy="211.0" r="1.6" fill="#6a5a98"/>
<circle cx="943.9" cy="127.8" r="1.3" fill="#7a78b8"/>
<circle cx="890.2" cy="145.3" r="1.0" fill="#9a7090"/>
<circle cx="915.5" cy="134.1" r="1.4" fill="#7068a8"/>
<circle cx="816.2" cy="158.3" r="1.4" fill="#7a78b8"/>
<circle cx="969.9" cy="192.8" r="1.5" fill="#8a5a78"/>
<circle cx="939.1" cy="113.5" r="1.6" fill="#7a78b8"/>
<circle cx="838.3" cy="214.2" r="1.5" fill="#8a6080"/>
<circle cx="1055.7" cy="235.2" r="1.0" fill="#7a5070"/>
<circle cx="869.8" cy="98.0" r="1.1" fill="#9a7090"/>
<circle cx="1026.2" cy="160.2" r="1.5" fill="#6a5a98"/>
<circle cx="957.7" cy="263.5" r="1.2" fill="#9a7090"/>
<circle cx="961.6" cy="123.8" r="1.4" fill="#8a6080"/>
<circle cx="828.7" cy="98.5" r="1.0" fill="#9a7090"/>
<circle cx="902.3" cy="195.7" r="1.3" fill="#7a5a80"/>
<circle cx="816.8" cy="127.6" r="1.0" fill="#9a7090"/>
<circle cx="965.7" cy="104.7" r="1.5" fill="#7a78b8"/>
<circle cx="1006.0" cy="76.1" r="1.5" fill="#7068a8"/>
<circle cx="947.1" cy="268.5" r="1.5" fill="#8a6080"/>
<circle cx="1043.3" cy="222.2" r="1.5" fill="#8a6080"/>
<circle cx="1058.5" cy="234.6" r="1.1" fill="#6a5a98"/>
<circle cx="937.1" cy="181.6" r="1.1" fill="#9a7090"/>
<circle cx="912.8" cy="84.4" r="1.4" fill="#7068a8"/>
<circle cx="858.3" cy="201.5" r="1.2" fill="#7a5070"/>
<circle cx="1056.0" cy="114.7" r="1.1" fill="#7a5070"/>
<circle cx="1067.2" cy="167.2" r="1.2" fill="#7a5a80"/>
<circle cx="910.9" cy="151.8" r="1.6" fill="#7068a8"/>
<circle cx="928.9" cy="175.5" r="1.1" fill="#9a7090"/>
<circle cx="1037.7" cy="285.1" r="1.2" fill="#7068a8"/>
<circle cx="1018.8" cy="68.0" r="1.6" fill="#7a5a80"/>
<circle cx="1025.3" cy="219.9" r="1.6" fill="#7a5070"/>
<circle cx="833.5" cy="154.2" r="1.4" fill="#7068a8"/>
<circle cx="1045.4" cy="225.4" r="1.3" fill="#7a5070"/>
<circle cx="1030.6" cy="155.1" r="1.5" fill="#8a6080"/>
<circle cx="1053.4" cy="280.5" r="1.2" fill="#7a5070"/>
<circle cx="848.0" cy="266.7" r="1.1" fill="#7a78b8"/>
<circle cx="956.8" cy="271.4" r="1.5" fill="#8a6080"/>
<circle cx="1008.3" cy="127.9" r="1.0" fill="#7a78b8"/>
<circle cx="904.6" cy="160.9" r="1.5" fill="#8a6080"/>
<circle cx="1036.8" cy="257.4" r="1.5" fill="#9a7090"/>
<circle cx="916.1" cy="146.4" r="1.4" fill="#7068a8"/>
<circle cx="898.8" cy="69.5" r="1.0" fill="#8a5a78"/>
<circle cx="956.4" cy="250.5" r="1.1" fill="#8a6080"/>
<circle cx="816.2" cy="135.4" r="1.3" fill="#6a5a98"/>
<circle cx="802.5" cy="185.4" r="1.6" fill="#8a5a78"/>
<circle cx="1027.1" cy="225.5" r="1.5" fill="#7068a8"/>
<circle cx="898.2" cy="270.0" r="1.1" fill="#8a5a78"/>
<circle cx="975.1" cy="258.9" r="1.5" fill="#7a5070"/>
<circle cx="778.5" cy="150.1" r="1.2" fill="#8a6080"/>
<circle cx="1059.0" cy="272.6" r="1.1" fill="#7a5a80"/>
<circle cx="1051.9" cy="216.4" r="1.4" fill="#6a5a98"/>
<circle cx="1068.6" cy="110.0" r="1.4" fill="#8a5a78"/>
<circle cx="767.2" cy="209.5" r="1.4" fill="#8a5a78"/>
<circle cx="780.0" cy="150.2" r="1.6" fill="#6a5a98"/>
<circle cx="755.6" cy="187.6" r="1.5" fill="#7a78b8"/>
<circle cx="1020.7" cy="180.1" r="1.1" fill="#7a5070"/>
<circle cx="813.1" cy="267.3" r="1.5" fill="#9a7090"/>
<circle cx="994.3" cy="153.6" r="1.3" fill="#7a5070"/>
<circle cx="946.6" cy="298.9" r="1.2" fill="#7a5070"/>
<circle cx="887.4" cy="159.8" r="1.1" fill="#9a7090"/>
<circle cx="1069.2" cy="118.8" r="1.3" fill="#7a5070"/>
<circle cx="871.5" cy="225.2" r="1.3" fill="#7a5a80"/>
<circle cx="903.9" cy="269.5" r="1.6" fill="#8a6080"/>
<circle cx="974.9" cy="232.1" r="1.4" fill="#9a7090"/>
<circle cx="774.8" cy="195.0" r="1.0" fill="#7a5070"/>
<circle cx="904.5" cy="147.0" r="1.4" fill="#7a5a80"/>
<circle cx="752.7" cy="182.6" r="1.2" fill="#8a6080"/>
<circle cx="969.8" cy="94.3" r="1.5" fill="#7a5a80"/>
<circle cx="940.2" cy="124.7" r="1.3" fill="#7068a8"/>
<circle cx="1037.2" cy="94.3" r="1.2" fill="#8a6080"/>
<circle cx="797.2" cy="90.7" r="1.0" fill="#8a5a78"/>
<circle cx="913.7" cy="293.7" r="1.2" fill="#7068a8"/>
<circle cx="1053.0" cy="130.1" r="1.5" fill="#9a7090"/>
<circle cx="919.5" cy="166.3" r="1.1" fill="#7a78b8"/>
<circle cx="1000.0" cy="98.8" r="1.5" fill="#7a78b8"/>
<circle cx="768.4" cy="98.2" r="1.1" fill="#7a5a80"/>
<circle cx="904.3" cy="101.8" r="1.3" fill="#6a5a98"/>
<circle cx="1075.4" cy="282.7" r="1.0" fill="#7068a8"/>
<circle cx="1073.4" cy="195.9" r="1.3" fill="#6a5a98"/>
<circle cx="1026.7" cy="268.5" r="1.1" fill="#6a5a98"/>
<circle cx="817.4" cy="130.3" r="1.5" fill="#9a7090"/>
<circle cx="934.6" cy="220.2" r="1.1" fill="#7a5a80"/>
<circle cx="922.5" cy="198.3" r="1.2" fill="#6a5a98"/>
<circle cx="831.2" cy="181.1" r="1.1" fill="#7068a8"/>
<circle cx="759.5" cy="224.5" r="1.4" fill="#8a6080"/>
<circle cx="872.8" cy="283.2" r="1.1" fill="#7068a8"/>
<circle cx="801.1" cy="82.2" r="1.5" fill="#7a78b8"/>
<circle cx="899.0" cy="289.4" r="1.4" fill="#7a5a80"/>
<circle cx="858.4" cy="73.4" r="1.4" fill="#7a78b8"/>
<circle cx="856.9" cy="236.4" r="1.4" fill="#8a5a78"/>
<circle cx="819.9" cy="74.5" r="1.4" fill="#7068a8"/>
<circle cx="1011.2" cy="239.3" r="1.3" fill="#8a6080"/>
<circle cx="781.2" cy="123.5" r="1.1" fill="#8a6080"/>
<circle cx="780.1" cy="265.0" r="1.1" fill="#8a6080"/>
<circle cx="843.9" cy="241.4" r="1.4" fill="#6a5a98"/>
<circle cx="848.3" cy="252.9" r="1.4" fill="#9a7090"/>
<circle cx="1045.6" cy="206.0" r="1.2" fill="#6a5a98"/>
<circle cx="1022.2" cy="184.5" r="1.3" fill="#8a6080"/>
<circle cx="906.3" cy="196.4" r="1.3" fill="#8a6080"/>
<circle cx="1015.4" cy="208.5" r="1.3" fill="#8a6080"/>
<circle cx="781.3" cy="184.7" r="1.6" fill="#7a5070"/>
<circle cx="962.1" cy="232.1" r="1.6" fill="#6a5a98"/>
<circle cx="845.8" cy="166.7" r="1.5" fill="#7a78b8"/>
<circle cx="848.9" cy="296.3" r="1.4" fill="#9a7090"/>
<circle cx="1025.3" cy="187.0" r="1.2" fill="#7a5a80"/>
<circle cx="930.6" cy="280.4" r="1.3" fill="#8a6080"/>
<circle cx="885.6" cy="173.1" r="1.4" fill="#9a7090"/>
<circle cx="866.9" cy="201.8" r="1.5" fill="#7a5a80"/>
<circle cx="788.1" cy="219.8" r="1.1" fill="#8a5a78"/>
<circle cx="1025.8" cy="73.7" r="1.2" fill="#9a7090"/>
<circle cx="853.3" cy="234.6" r="1.5" fill="#7a78b8"/>
<circle cx="954.4" cy="125.8" r="1.6" fill="#8a5a78"/>
<circle cx="819.8" cy="81.5" r="1.6" fill="#9a7090"/>
<circle cx="1035.1" cy="88.2" r="1.3" fill="#7a5a80"/>
<circle cx="879.7" cy="66.2" r="1.4" fill="#7a78b8"/>
<circle cx="976.5" cy="268.9" r="1.6" fill="#7a78b8"/>
<circle cx="849.7" cy="255.7" r="1.4" fill="#8a6080"/>
<circle cx="1013.3" cy="83.8" r="1.1" fill="#7a5070"/>
<circle cx="787.5" cy="66.8" r="1.6" fill="#7a5a80"/>
<circle cx="819.2" cy="216.7" r="1.4" fill="#8a6080"/>
<circle cx="1025.5" cy="266.4" r="1.3" fill="#6a5a98"/>
<circle cx="849.1" cy="172.8" r="1.3" fill="#7a5a80"/>
<circle cx="789.0" cy="276.9" r="1.4" fill="#7a78b8"/>
<circle cx="1065.2" cy="174.7" r="1.5" fill="#7a5070"/>
<circle cx="816.6" cy="198.0" r="1.5" fill="#7a5a80"/>
<circle cx="859.8" cy="87.3" r="1.5" fill="#8a6080"/>
<circle cx="1070.3" cy="264.1" r="1.4" fill="#9a7090"/>
<circle cx="763.1" cy="157.7" r="1.3" fill="#7a78b8"/>
<circle cx="826.6" cy="77.4" r="1.0" fill="#7068a8"/>
<circle cx="931.4" cy="126.5" r="1.4" fill="#7a78b8"/>
<circle cx="789.1" cy="210.6" r="1.4" fill="#7a78b8"/>
<circle cx="978.4" cy="67.9" r="1.2" fill="#7a5070"/>
<circle cx="904.0" cy="166.8" r="1.3" fill="#7068a8"/>
<circle cx="1051.5" cy="265.3" r="1.4" fill="#7a78b8"/>
<circle cx="793.8" cy="132.5" r="1.4" fill="#8a6080"/>
<circle cx="1022.6" cy="222.5" r="1.4" fill="#7a78b8"/>
<circle cx="1011.7" cy="263.2" r="1.4" fill="#9a7090"/>
<circle cx="976.2" cy="83.4" r="1.3" fill="#8a5a78"/>
<circle cx="816.0" cy="206.6" r="1.1" fill="#8a6080"/>
<circle cx="1058.4" cy="180.0" r="1.1" fill="#7a5a80"/>
<circle cx="1076.8" cy="148.0" r="1.2" fill="#8a5a78"/>
<circle cx="808.0" cy="266.7" r="1.3" fill="#6a5a98"/>
<circle cx="861.1" cy="90.0" r="1.1" fill="#7a5070"/>
<circle cx="909.6" cy="298.5" r="1.5" fill="#7a5a80"/>
<circle cx="1002.1" cy="195.0" r="1.5" fill="#6a5a98"/>
<circle cx="981.3" cy="282.6" r="1.3" fill="#7a78b8"/>
<circle cx="1064.8" cy="242.1" r="1.6" fill="#6a5a98"/>
<circle cx="1019.5" cy="72.9" r="1.1" fill="#6a5a98"/>
<circle cx="1034.9" cy="278.9" r="1.1" fill="#9a7090"/>
<circle cx="981.9" cy="243.6" r="1.3" fill="#6a5a98"/>
<circle cx="801.3" cy="149.2" r="1.5" fill="#6a5a98"/>
<circle cx="1027.6" cy="167.1" r="1.2" fill="#7a5a80"/>
<circle cx="831.0" cy="254.8" r="1.2" fill="#8a5a78"/>
<circle cx="778.8" cy="151.3" r="1.5" fill="#7068a8"/>
<circle cx="956.2" cy="121.2" r="1.5" fill="#8a6080"/>
<circle cx="1007.6" cy="95.7" r="1.3" fill="#8a6080"/>
<circle cx="1043.8" cy="288.6" r="1.3" fill="#7068a8"/>
<circle cx="1058.7" cy="167.9" r="1.5" fill="#6a5a98"/>
<circle cx="778.6" cy="137.6" r="1.6" fill="#8a5a78"/>
<circle cx="892.5" cy="156.2" r="1.0" fill="#8a5a78"/>
<circle cx="1045.2" cy="76.7" r="1.4" fill="#9a7090"/>
<circle cx="887.7" cy="272.9" r="1.4" fill="#9a7090"/>
<circle cx="986.2" cy="137.3" r="1.2" fill="#9a7090"/>
<circle cx="1044.5" cy="207.7" r="1.1" fill="#8a6080"/>
<circle cx="896.5" cy="111.6" r="1.3" fill="#7a78b8"/>
<circle cx="978.4" cy="273.4" r="1.5" fill="#8a6080"/>
<circle cx="1003.8" cy="271.8" r="1.1" fill="#7068a8"/>
<circle cx="878.1" cy="233.4" r="1.5" fill="#9a7090"/>
<circle cx="820.7" cy="184.3" r="1.2" fill="#7068a8"/>
<circle cx="997.8" cy="100.9" r="1.0" fill="#9a7090"/>
<circle cx="829.7" cy="246.5" r="1.4" fill="#6a5a98"/>
<circle cx="989.6" cy="262.5" r="1.2" fill="#7068a8"/>
<circle cx="791.4" cy="242.3" r="1.6" fill="#7a78b8"/>
<circle cx="848.1" cy="237.6" r="1.3" fill="#7a5070"/>
<circle cx="1013.6" cy="297.4" r="1.3" fill="#7a5070"/>
<circle cx="865.2" cy="130.4" r="1.5" fill="#8a5a78"/>
<circle cx="983.9" cy="186.2" r="1.1" fill="#7068a8"/>
<circle cx="919.4" cy="108.6" r="1.5" fill="#7a78b8"/>
<circle cx="782.9" cy="231.7" r="1.5" fill="#6a5a98"/>
<circle cx="781.1" cy="163.7" r="1.1" fill="#7a5070"/>
<circle cx="896.4" cy="150.5" r="1.3" fill="#8a6080"/>
<circle cx="1035.3" cy="201.5" r="1.4" fill="#7a78b8"/>
<circle cx="975.6" cy="287.6" r="1.4" fill="#8a6080"/>
<circle cx="1019.6" cy="97.2" r="1.1" fill="#7a78b8"/>
<circle cx="793.2" cy="230.0" r="1.5" fill="#6a5a98"/>
<circle cx="977.4" cy="170.9" r="1.0" fill="#8a5a78"/>
<circle cx="1058.8" cy="150.5" r="1.6" fill="#8a6080"/>
<circle cx="787.0" cy="150.6" r="1.2" fill="#8a5a78"/>
<circle cx="789.4" cy="135.3" r="1.2" fill="#9a7090"/>
<circle cx="909.4" cy="250.5" r="1.1" fill="#8a6080"/>
<circle cx="766.9" cy="274.9" r="1.5" fill="#7a5070"/>
<circle cx="810.7" cy="238.3" r="1.0" fill="#7068a8"/>
<circle cx="773.0" cy="73.6" r="1.3" fill="#9a7090"/>
<circle cx="935.4" cy="276.4" r="1.5" fill="#7a78b8"/>
<circle cx="1023.0" cy="260.6" r="1.1" fill="#8a5a78"/>
<circle cx="915.6" cy="172.2" r="1.3" fill="#7a78b8"/>
<circle cx="799.6" cy="235.5" r="1.1" fill="#8a6080"/>
<circle cx="877.2" cy="276.4" r="1.2" fill="#7a5a80"/>
<circle cx="1063.3" cy="273.9" r="1.4" fill="#6a5a98"/>
<circle cx="1033.3" cy="230.6" r="1.3" fill="#9a7090"/>
<circle cx="933.9" cy="92.3" r="1.3" fill="#7a5070"/>
<circle cx="1062.4" cy="191.4" r="1.5" fill="#7a5070"/>
<circle cx="995.7" cy="182.1" r="1.0" fill="#8a5a78"/>
<circle cx="1064.7" cy="128.2" r="1.1" fill="#7a78b8"/>
<circle cx="778.6" cy="189.4" r="1.2" fill="#7a5a80"/>
<circle cx="911.2" cy="284.3" r="1.2" fill="#8a5a78"/>
<circle cx="886.3" cy="266.7" r="1.2" fill="#9a7090"/>
<circle cx="780.7" cy="295.2" r="1.3" fill="#9a7090"/>
<circle cx="798.0" cy="123.6" r="1.1" fill="#9a7090"/>
<circle cx="1061.4" cy="223.8" r="1.0" fill="#7068a8"/>
<circle cx="810.2" cy="232.1" r="1.2" fill="#6a5a98"/>
<circle cx="855.3" cy="160.8" r="1.2" fill="#8a6080"/>
<circle cx="1058.0" cy="276.2" r="1.0" fill="#7a5070"/>
<circle cx="996.2" cy="201.9" r="1.3" fill="#8a6080"/>
<circle cx="1060.5" cy="126.8" r="1.2" fill="#8a6080"/>
<circle cx="772.3" cy="69.9" r="1.4" fill="#7a5a80"/>
<circle cx="838.7" cy="291.3" r="1.4" fill="#7a5070"/>
<circle cx="999.7" cy="217.4" r="1.1" fill="#8a6080"/>
<circle cx="896.4" cy="263.6" r="1.3" fill="#8a5a78"/>
<circle cx="872.7" cy="296.5" r="1.5" fill="#8a6080"/>
<circle cx="1064.4" cy="194.6" r="1.0" fill="#7a78b8"/>
<circle cx="1064.3" cy="210.1" r="1.4" fill="#8a5a78"/>
<circle cx="751.2" cy="284.2" r="1.3" fill="#9a7090"/>
<circle cx="1024.7" cy="153.1" r="1.2" fill="#7a5070"/>
<circle cx="941.8" cy="183.9" r="1.0" fill="#6a5a98"/>
<circle cx="849.0" cy="156.7" r="1.1" fill="#8a5a78"/>
<circle cx="987.4" cy="299.7" r="1.5" fill="#7a5070"/>
<circle cx="950.0" cy="289.9" r="1.2" fill="#7068a8"/>
<circle cx="958.1" cy="295.2" r="1.4" fill="#9a7090"/>
<circle cx="831.2" cy="296.0" r="1.2" fill="#7a78b8"/>
<circle cx="1063.6" cy="140.8" r="1.5" fill="#8a5a78"/>
<circle cx="961.7" cy="63.5" r="1.3" fill="#7a5a80"/>
<circle cx="970.3" cy="160.9" r="1.5" fill="#7a78b8"/>
<circle cx="999.6" cy="190.5" r="1.5" fill="#6a5a98"/>
<circle cx="926.6" cy="274.5" r="1.5" fill="#7a78b8"/>
<circle cx="970.2" cy="146.7" r="1.5" fill="#7068a8"/>
<circle cx="877.1" cy="261.9" r="1.5" fill="#7a5a80"/>
<circle cx="791.7" cy="150.8" r="1.1" fill="#7a5a80"/>
<circle cx="823.2" cy="67.7" r="1.2" fill="#7068a8"/>
<circle cx="813.4" cy="256.5" r="1.4" fill="#7a5070"/>
<circle cx="827.4" cy="180.0" r="1.2" fill="#9a7090"/>
<circle cx="911.7" cy="229.9" r="1.4" fill="#7a5a80"/>
<circle cx="814.9" cy="257.6" r="1.2" fill="#9a7090"/>
<circle cx="936.5" cy="180.1" r="1.3" fill="#8a5a78"/>
<circle cx="772.3" cy="93.4" r="1.0" fill="#9a7090"/>
<circle cx="1055.3" cy="265.7" r="1.5" fill="#9a7090"/>
<circle cx="813.5" cy="223.7" r="1.6" fill="#9a7090"/>
<circle cx="972.9" cy="272.3" r="1.0" fill="#8a6080"/>
<circle cx="960.0" cy="286.5" r="1.0" fill="#7068a8"/>
<circle cx="892.0" cy="298.8" r="1.2" fill="#7a78b8"/>
<circle cx="912.6" cy="185.6" r="1.0" fill="#7a5070"/>
<circle cx="766.3" cy="280.7" r="1.3" fill="#7068a8"/>
<circle cx="752.7" cy="109.1" r="1.0" fill="#7a5a80"/>
<circle cx="1073.8" cy="116.5" r="1.4" fill="#6a5a98"/>
<circle cx="1049.9" cy="109.7" r="1.2" fill="#6a5a98"/>
<circle cx="955.1" cy="85.9" r="1.3" fill="#7a5a80"/>
<circle cx="944.2" cy="211.4" r="1.2" fill="#9a7090"/>
<circle cx="831.6" cy="175.2" r="1.6" fill="#7a5a80"/>
<circle cx="1018.9" cy="186.2" r="1.1" fill="#6a5a98"/>
<circle cx="1003.9" cy="209.8" r="1.5" fill="#7a78b8"/>
<circle cx="939.7" cy="83.3" r="1.0" fill="#7a5a80"/>
<circle cx="874.0" cy="273.9" r="1.4" fill="#8a5a78"/>
<circle cx="771.2" cy="253.2" r="1.0" fill="#8a6080"/>
<circle cx="772.4" cy="223.6" r="1.3" fill="#9a7090"/>
<circle cx="1028.1" cy="158.2" r="1.4" fill="#8a6080"/>
<circle cx="827.0" cy="205.1" r="1.4" fill="#7a5a80"/>
<circle cx="898.8" cy="173.0" r="1.3" fill="#6a5a98"/>
<circle cx="861.7" cy="285.2" r="1.5" fill="#7a78b8"/>
<circle cx="919.6" cy="202.3" r="1.1" fill="#7a5a80"/>
<circle cx="945.0" cy="79.0" r="1.5" fill="#7a5070"/>
<circle cx="1045.8" cy="92.9" r="1.3" fill="#7068a8"/>
<circle cx="888.2" cy="234.7" r="1.3" fill="#7a5070"/>
<circle cx="795.9" cy="73.4" r="1.1" fill="#8a6080"/>
<circle cx="918.3" cy="217.5" r="1.2" fill="#8a5a78"/>
<circle cx="799.1" cy="136.2" r="1.2" fill="#7068a8"/>
<circle cx="1067.3" cy="185.7" r="1.4" fill="#8a5a78"/>
<circle cx="769.7" cy="183.2" r="1.5" fill="#7a5a80"/>
<circle cx="888.6" cy="109.3" r="1.1" fill="#7a5070"/>
<circle cx="1007.0" cy="143.9" r="1.4" fill="#7a78b8"/>
<circle cx="946.5" cy="141.5" r="1.3" fill="#7068a8"/>
<circle cx="951.8" cy="162.2" r="1.1" fill="#7a78b8"/>
<circle cx="1036.6" cy="278.8" r="1.3" fill="#7a5a80"/>
<circle cx="959.2" cy="227.3" r="1.3" fill="#7a5070"/>
<circle cx="828.9" cy="237.1" r="1.6" fill="#7068a8"/>
<circle cx="1014.2" cy="152.1" r="1.2" fill="#7a5a80"/>
<circle cx="869.3" cy="80.5" r="1.0" fill="#6a5a98"/>
<circle cx="797.4" cy="167.4" r="1.4" fill="#7068a8"/>
<circle cx="765.3" cy="70.0" r="1.1" fill="#8a5a78"/>
<circle cx="822.4" cy="125.1" r="1.1" fill="#7a5070"/>
<circle cx="809.2" cy="68.1" r="1.5" fill="#6a5a98"/>
<circle cx="757.8" cy="223.6" r="1.2" fill="#6a5a98"/>
<circle cx="861.3" cy="112.8" r="1.3" fill="#7068a8"/>
<circle cx="1014.9" cy="219.6" r="1.6" fill="#8a6080"/>
<circle cx="1037.4" cy="78.5" r="1.1" fill="#8a5a78"/>
<circle cx="1010.1" cy="108.4" r="1.2" fill="#7068a8"/>
<circle cx="854.7" cy="164.8" r="1.4" fill="#7a5a80"/>
<circle cx="999.8" cy="202.2" r="1.5" fill="#9a7090"/>
<circle cx="1008.4" cy="140.7" r="1.0" fill="#9a7090"/>
<circle cx="1035.5" cy="264.8" r="1.6" fill="#7a78b8"/>
<circle cx="819.2" cy="82.3" r="1.3" fill="#6a5a98"/>
<circle cx="805.6" cy="155.0" r="1.5" fill="#7068a8"/>
<circle cx="913.5" cy="173.0" r="1.2" fill="#7068a8"/>
<circle cx="922.3" cy="177.5" r="1.6" fill="#7a78b8"/>
<circle cx="838.5" cy="158.0" r="1.6" fill="#7a5a80"/>
<circle cx="818.5" cy="275.1" r="1.3" fill="#7a5070"/>
<circle cx="880.1" cy="135.5" r="1.5" fill="#8a5a78"/>
<circle cx="1056.0" cy="151.7" r="1.3" fill="#8a5a78"/>
<circle cx="996.0" cy="132.9" r="1.3" fill="#7a5070"/>
<circle cx="941.4" cy="173.3" r="1.4" fill="#8a6080"/>
<circle cx="898.1" cy="165.5" r="1.2" fill="#7a78b8"/>
<circle cx="854.3" cy="153.6" r="1.1" fill="#7a5070"/>
<circle cx="837.6" cy="81.0" r="1.5" fill="#9a7090"/>
<circle cx="1025.7" cy="184.5" r="1.4" fill="#9a7090"/>
<circle cx="1053.1" cy="86.3" r="1.0" fill="#7a5a80"/>
<circle cx="929.0" cy="142.1" r="1.4" fill="#9a7090"/>
<circle cx="849.7" cy="256.3" r="1.4" fill="#9a7090"/>
<circle cx="813.1" cy="206.2" r="1.1" fill="#9a7090"/>
<circle cx="753.8" cy="134.0" r="1.5" fill="#8a6080"/>
<circle cx="1059.3" cy="257.8" r="1.5" fill="#7a5a80"/>
<circle cx="904.9" cy="184.5" r="1.5" fill="#8a5a78"/>
<circle cx="1033.1" cy="116.9" r="1.4" fill="#7a5070"/>
<circle cx="905.7" cy="185.3" r="1.5" fill="#7a78b8"/>
<circle cx="986.5" cy="172.4" r="1.5" fill="#7068a8"/>
<circle cx="1026.7" cy="164.6" r="1.6" fill="#8a6080"/>
<circle cx="819.3" cy="169.6" r="1.3" fill="#7068a8"/>
<circle cx="796.3" cy="270.1" r="1.2" fill="#7a5a80"/>
<circle cx="913.9" cy="219.1" r="1.2" fill="#7a5070"/>
<circle cx="887.6" cy="225.5" r="1.2" fill="#9a7090"/>
<circle cx="857.3" cy="68.5" r="1.5" fill="#8a5a78"/>
<circle cx="801.1" cy="288.8" r="1.2" fill="#8a6080"/>
<circle cx="1070.5" cy="111.4" r="1.2" fill="#8a6080"/>
<circle cx="812.4" cy="88.7" r="1.3" fill="#7a78b8"/>
<circle cx="959.3" cy="135.2" r="1.1" fill="#8a5a78"/>
<circle cx="761.5" cy="226.3" r="1.3" fill="#8a5a78"/>
<circle cx="815.9" cy="279.0" r="1.2" fill="#7a5070"/>
<circle cx="827.0" cy="219.3" r="1.0" fill="#7a5a80"/>
<circle cx="871.2" cy="65.6" r="1.2" fill="#8a6080"/>
<circle cx="878.5" cy="297.5" r="1.1" fill="#8a6080"/>
<circle cx="906.9" cy="79.3" r="1.6" fill="#7a5070"/>
<circle cx="793.4" cy="111.7" r="1.3" fill="#7a78b8"/>
<circle cx="802.8" cy="199.3" r="1.2" fill="#7a5070"/>
<circle cx="914.8" cy="225.3" r="1.2" fill="#7a5a80"/>
<circle cx="1074.1" cy="168.6" r="1.5" fill="#7a5070"/>
<circle cx="922.4" cy="278.7" r="1.5" fill="#7a78b8"/>
<circle cx="901.8" cy="72.3" r="1.1" fill="#7a78b8"/>
<circle cx="864.1" cy="262.7" r="1.5" fill="#8a6080"/>
<circle cx="950.8" cy="255.0" r="1.1" fill="#7a5070"/>
<circle cx="809.5" cy="209.4" r="1.3" fill="#8a6080"/>
<circle cx="1047.9" cy="106.5" r="1.3" fill="#8a6080"/>
<circle cx="978.8" cy="73.3" r="1.5" fill="#8a5a78"/>
<circle cx="840.3" cy="211.9" r="1.2" fill="#6a5a98"/>
<circle cx="978.6" cy="234.2" r="1.1" fill="#7a78b8"/>
<circle cx="885.1" cy="243.6" r="1.1" fill="#7068a8"/>
<circle cx="775.9" cy="87.9" r="1.5" fill="#7068a8"/>
<circle cx="884.7" cy="102.1" r="1.1" fill="#7a5a80"/>
<circle cx="901.7" cy="80.3" r="1.4" fill="#7a78b8"/>
<circle cx="875.3" cy="239.8" r="1.5" fill="#8a6080"/>
<circle cx="763.3" cy="122.4" r="1.4" fill="#8a5a78"/>
<circle cx="857.6" cy="240.4" r="1.3" fill="#6a5a98"/>
<circle cx="777.9" cy="218.7" r="1.4" fill="#7a78b8"/>
<circle cx="796.7" cy="257.4" r="1.5" fill="#8a5a78"/>
<circle cx="1024.3" cy="206.9" r="1.1" fill="#6a5a98"/>
<circle cx="925.3" cy="155.6" r="1.0" fill="#7a5a80"/>
<circle cx="971.8" cy="99.4" r="1.2" fill="#7a5070"/>
<circle cx="983.9" cy="274.6" r="1.3" fill="#7a78b8"/>
<circle cx="978.1" cy="261.3" r="1.5" fill="#6a5a98"/>
<circle cx="878.3" cy="136.1" r="1.0" fill="#7a5a80"/>
<circle cx="766.9" cy="152.4" r="1.1" fill="#7a5070"/>
<circle cx="873.1" cy="119.5" r="1.1" fill="#8a6080"/>
<circle cx="760.1" cy="66.5" r="1.5" fill="#6a5a98"/>
<circle cx="822.9" cy="272.1" r="1.5" fill="#8a5a78"/>
<circle cx="987.0" cy="73.4" r="1.3" fill="#7068a8"/>
<circle cx="856.2" cy="211.5" r="1.4" fill="#8a6080"/>
<circle cx="1057.1" cy="91.6" r="1.1" fill="#7068a8"/>
<circle cx="856.4" cy="66.6" r="1.4" fill="#7a5a80"/>
<circle cx="877.9" cy="171.7" r="1.0" fill="#9a7090"/>
<circle cx="962.9" cy="150.4" r="1.0" fill="#7a5070"/>
<circle cx="885.0" cy="244.9" r="1.3" fill="#6a5a98"/>
<circle cx="983.3" cy="250.5" r="1.6" fill="#8a5a78"/>
<circle cx="833.1" cy="85.5" r="1.2" fill="#8a6080"/>
<circle cx="972.0" cy="293.5" r="1.4" fill="#7068a8"/>
<circle cx="808.2" cy="243.5" r="1.4" fill="#7a78b8"/>
<circle cx="773.0" cy="67.2" r="1.5" fill="#7a78b8"/>
<circle cx="875.7" cy="214.8" r="1.1" fill="#7a5a80"/>
<circle cx="826.8" cy="209.1" r="1.5" fill="#9a7090"/>
<circle cx="828.1" cy="164.6" r="1.1" fill="#6a5a98"/>
<circle cx="770.5" cy="151.8" r="1.2" fill="#8a5a78"/>
<circle cx="873.5" cy="215.2" r="1.1" fill="#7a78b8"/>
<circle cx="992.0" cy="140.9" r="1.2" fill="#7a5a80"/>
<circle cx="920.8" cy="294.7" r="1.4" fill="#9a7090"/>
<circle cx="995.7" cy="117.3" r="1.4" fill="#7068a8"/>
<circle cx="830.0" cy="190.8" r="1.5" fill="#7a5070"/>
<circle cx="1012.3" cy="228.0" r="1.1" fill="#8a6080"/>
<circle cx="921.0" cy="106.5" r="1.4" fill="#6a5a98"/>
<circle cx="1034.6" cy="79.6" r="1.1" fill="#8a5a78"/>
<circle cx="1056.9" cy="92.8" r="1.1" fill="#7a5070"/>
<circle cx="828.0" cy="81.5" r="1.4" fill="#9a7090"/>
<circle cx="804.5" cy="109.8" r="1.3" fill="#7a5070"/>
<circle cx="849.8" cy="199.6" r="1.6" fill="#7a5070"/>
<circle cx="839.6" cy="248.2" r="1.0" fill="#7068a8"/>
<circle cx="880.8" cy="102.8" r="1.3" fill="#8a6080"/>
<circle cx="998.9" cy="257.2" r="1.5" fill="#7a5a80"/>
<circle cx="999.4" cy="164.3" r="1.0" fill="#9a7090"/>
<circle cx="945.0" cy="99.2" r="1.4" fill="#9a7090"/>
<circle cx="875.0" cy="135.5" r="1.2" fill="#7a78b8"/>
<circle cx="774.5" cy="95.4" r="1.3" fill="#8a5a78"/>
<circle cx="1049.7" cy="64.0" r="1.5" fill="#7068a8"/>
<circle cx="911.2" cy="282.4" r="1.6" fill="#7068a8"/>
<circle cx="876.2" cy="136.0" r="1.6" fill="#6a5a98"/>
<circle cx="884.3" cy="72.2" r="1.6" fill="#8a6080"/>
<circle cx="1054.9" cy="101.5" r="1.5" fill="#9a7090"/>
<circle cx="1002.4" cy="241.1" r="1.2" fill="#7a78b8"/>
<circle cx="958.0" cy="150.3" r="1.0" fill="#8a6080"/>
<circle cx="1053.0" cy="237.4" r="1.1" fill="#7a5a80"/>
<circle cx="1051.4" cy="148.7" r="1.4" fill="#7a5a80"/>
<circle cx="978.4" cy="215.9" r="1.2" fill="#7a78b8"/>
<circle cx="1058.8" cy="97.9" r="1.1" fill="#8a5a78"/>
<circle cx="755.0" cy="245.7" r="1.4" fill="#8a6080"/>
<circle cx="880.6" cy="201.9" r="1.5" fill="#7a5070"/>
<circle cx="1036.6" cy="102.3" r="1.3" fill="#9a7090"/>
<circle cx="914.2" cy="189.4" r="1.5" fill="#9a7090"/>
<circle cx="990.3" cy="241.3" r="1.6" fill="#6a5a98"/>
<circle cx="786.6" cy="198.7" r="1.5" fill="#8a5a78"/>
<circle cx="838.7" cy="112.7" r="1.4" fill="#9a7090"/>
<circle cx="753.1" cy="102.9" r="1.3" fill="#6a5a98"/>
<circle cx="773.8" cy="228.0" r="1.3" fill="#9a7090"/>
<circle cx="990.0" cy="103.4" r="1.2" fill="#8a5a78"/>
<circle cx="815.6" cy="106.1" r="1.6" fill="#7a78b8"/>
<circle cx="935.9" cy="113.4" r="1.1" fill="#8a5a78"/>
<circle cx="1014.8" cy="108.5" r="1.6" fill="#8a6080"/>
</g>
<path d="M840,238 Q844,228 858,228 Q874,229 878,236 Q872,244 858,244 Q844,244 840,238 Z" fill="#fcfcfc"/>
</g><g clip-path="url(#clip_i4)"><g filter="url(#nb4)" opacity="0.9">
<circle cx="1246.7" cy="280.3" r="2.8" fill="#7a4a6c" stroke="#6a3a60" stroke-width="0.8"/>
<circle cx="1129.0" cy="83.4" r="2.8" fill="#8a5578" stroke="#6a3a60" stroke-width="0.8"/>
<circle cx="1214.5" cy="202.4" r="3.2" fill="#8a5578" stroke="#6a3a60" stroke-width="0.8"/>
<circle cx="1106.1" cy="126.3" r="3.8" fill="#86609a" stroke="#6a3a60" stroke-width="0.8"/>
<circle cx="1360.3" cy="73.0" r="2.9" fill="#8a5578" stroke="#6a3a60" stroke-width="0.8"/>
<circle cx="1225.5" cy="186.8" r="3.8" fill="#96607e" stroke="#6a3a60" stroke-width="0.8"/>
<circle cx="1406.9" cy="175.6" r="3.1" fill="#744668" stroke="#6a3a60" stroke-width="0.8"/>
<circle cx="1212.7" cy="225.3" r="3.1" fill="#96607e" stroke="#6a3a60" stroke-width="0.8"/>
<circle cx="1369.3" cy="287.0" r="3.4" fill="#744668" stroke="#6a3a60" stroke-width="0.8"/>
<circle cx="1302.1" cy="295.1" r="3.7" fill="#8a5578" stroke="#6a3a60" stroke-width="0.8"/>
<circle cx="1104.0" cy="270.2" r="3.1" fill="#7a4a6c" stroke="#6a3a60" stroke-width="0.8"/>
<circle cx="1111.4" cy="92.2" r="3.3" fill="#7a4a6c" stroke="#6a3a60" stroke-width="0.8"/>
<circle cx="1223.1" cy="210.2" r="3.4" fill="#744668" stroke="#6a3a60" stroke-width="0.8"/>
<circle cx="1270.9" cy="220.1" r="2.7" fill="#96607e" stroke="#6a3a60" stroke-width="0.8"/>
<circle cx="1108.4" cy="148.7" r="2.8" fill="#96607e" stroke="#6a3a60" stroke-width="0.8"/>
<circle cx="1324.0" cy="118.6" r="3.2" fill="#86609a" stroke="#6a3a60" stroke-width="0.8"/>
<circle cx="1361.8" cy="145.9" r="3.7" fill="#744668" stroke="#6a3a60" stroke-width="0.8"/>
<circle cx="1424.7" cy="267.0" r="3.7" fill="#744668" stroke="#6a3a60" stroke-width="0.8"/>
<circle cx="1198.8" cy="109.4" r="2.9" fill="#86609a" stroke="#6a3a60" stroke-width="0.8"/>
<circle cx="1388.7" cy="249.8" r="3.5" fill="#8a5578" stroke="#6a3a60" stroke-width="0.8"/>
<circle cx="1144.7" cy="252.6" r="3.0" fill="#86609a" stroke="#6a3a60" stroke-width="0.8"/>
<circle cx="1424.8" cy="174.1" r="3.7" fill="#8a5578" stroke="#6a3a60" stroke-width="0.8"/>
<circle cx="1260.2" cy="191.7" r="3.0" fill="#7a4a6c" stroke="#6a3a60" stroke-width="0.8"/>
<circle cx="1348.6" cy="220.0" r="2.8" fill="#744668" stroke="#6a3a60" stroke-width="0.8"/>
<circle cx="1426.8" cy="70.0" r="3.7" fill="#96607e" stroke="#6a3a60" stroke-width="0.8"/>
<circle cx="1397.3" cy="245.4" r="2.9" fill="#96607e" stroke="#6a3a60" stroke-width="0.8"/>
<circle cx="1320.1" cy="289.5" r="3.4" fill="#7a4a6c" stroke="#6a3a60" stroke-width="0.8"/>
<circle cx="1403.8" cy="213.8" r="3.2" fill="#96607e" stroke="#6a3a60" stroke-width="0.8"/>
<circle cx="1387.3" cy="284.8" r="3.5" fill="#86609a" stroke="#6a3a60" stroke-width="0.8"/>
<circle cx="1124.1" cy="144.7" r="3.7" fill="#744668" stroke="#6a3a60" stroke-width="0.8"/>
<circle cx="1316.2" cy="249.8" r="3.8" fill="#744668" stroke="#6a3a60" stroke-width="0.8"/>
<circle cx="1366.6" cy="116.2" r="2.8" fill="#8a5578" stroke="#6a3a60" stroke-width="0.8"/>
<circle cx="1139.3" cy="144.0" r="3.4" fill="#7a4a6c" stroke="#6a3a60" stroke-width="0.8"/>
<circle cx="1345.7" cy="90.6" r="3.1" fill="#96607e" stroke="#6a3a60" stroke-width="0.8"/>
<circle cx="1414.0" cy="200.3" r="2.7" fill="#8a5578" stroke="#6a3a60" stroke-width="0.8"/>
<circle cx="1295.4" cy="108.2" r="3.1" fill="#744668" stroke="#6a3a60" stroke-width="0.8"/>
<circle cx="1207.2" cy="149.9" r="3.4" fill="#7a4a6c" stroke="#6a3a60" stroke-width="0.8"/>
<circle cx="1272.4" cy="206.2" r="2.9" fill="#744668" stroke="#6a3a60" stroke-width="0.8"/>
<circle cx="1106.0" cy="265.9" r="3.0" fill="#96607e" stroke="#6a3a60" stroke-width="0.8"/>
<circle cx="1375.9" cy="182.0" r="3.2" fill="#86609a" stroke="#6a3a60" stroke-width="0.8"/>
<circle cx="1195.4" cy="240.8" r="3.6" fill="#8a5578" stroke="#6a3a60" stroke-width="0.8"/>
<circle cx="1298.2" cy="136.5" r="3.8" fill="#8a5578" stroke="#6a3a60" stroke-width="0.8"/>
<circle cx="1192.1" cy="264.7" r="3.3" fill="#7a4a6c" stroke="#6a3a60" stroke-width="0.8"/>
<circle cx="1264.4" cy="230.6" r="3.1" fill="#96607e" stroke="#6a3a60" stroke-width="0.8"/>
<circle cx="1152.8" cy="233.6" r="3.6" fill="#7a4a6c" stroke="#6a3a60" stroke-width="0.8"/>
<circle cx="1331.3" cy="75.5" r="3.7" fill="#7a4a6c" stroke="#6a3a60" stroke-width="0.8"/>
<circle cx="1382.3" cy="236.1" r="3.0" fill="#7a4a6c" stroke="#6a3a60" stroke-width="0.8"/>
<circle cx="1426.1" cy="193.4" r="3.1" fill="#744668" stroke="#6a3a60" stroke-width="0.8"/>
<circle cx="1425.8" cy="243.3" r="3.1" fill="#86609a" stroke="#6a3a60" stroke-width="0.8"/>
<circle cx="1339.9" cy="130.2" r="3.7" fill="#86609a" stroke="#6a3a60" stroke-width="0.8"/>
<circle cx="1231.4" cy="94.2" r="3.5" fill="#86609a" stroke="#6a3a60" stroke-width="0.8"/>
<circle cx="1385.3" cy="75.9" r="3.7" fill="#96607e" stroke="#6a3a60" stroke-width="0.8"/>
<circle cx="1252.2" cy="102.0" r="2.9" fill="#744668" stroke="#6a3a60" stroke-width="0.8"/>
<circle cx="1197.9" cy="97.5" r="2.9" fill="#7a4a6c" stroke="#6a3a60" stroke-width="0.8"/>
<circle cx="1342.7" cy="65.2" r="3.5" fill="#86609a" stroke="#6a3a60" stroke-width="0.8"/>
<circle cx="1136.2" cy="249.9" r="3.6" fill="#744668" stroke="#6a3a60" stroke-width="0.8"/>
<circle cx="1412.8" cy="164.7" r="3.6" fill="#8a5578" stroke="#6a3a60" stroke-width="0.8"/>
<circle cx="1134.3" cy="294.8" r="2.9" fill="#8a5578" stroke="#6a3a60" stroke-width="0.8"/>
<circle cx="1141.3" cy="185.7" r="3.1" fill="#744668" stroke="#6a3a60" stroke-width="0.8"/>
<circle cx="1419.1" cy="212.2" r="3.1" fill="#8a5578" stroke="#6a3a60" stroke-width="0.8"/>
<circle cx="1141.7" cy="157.4" r="3.0" fill="#86609a" stroke="#6a3a60" stroke-width="0.8"/>
<circle cx="1414.2" cy="218.4" r="3.1" fill="#8a5578" stroke="#6a3a60" stroke-width="0.8"/>
<circle cx="1356.5" cy="268.8" r="3.4" fill="#96607e" stroke="#6a3a60" stroke-width="0.8"/>
<circle cx="1309.1" cy="168.9" r="2.7" fill="#8a5578" stroke="#6a3a60" stroke-width="0.8"/>
<circle cx="1129.9" cy="179.4" r="3.4" fill="#86609a" stroke="#6a3a60" stroke-width="0.8"/>
<circle cx="1176.3" cy="202.7" r="3.8" fill="#744668" stroke="#6a3a60" stroke-width="0.8"/>
<circle cx="1192.2" cy="240.4" r="3.6" fill="#7a4a6c" stroke="#6a3a60" stroke-width="0.8"/>
<circle cx="1228.2" cy="301.0" r="3.5" fill="#96607e" stroke="#6a3a60" stroke-width="0.8"/>
<circle cx="1289.3" cy="86.7" r="2.8" fill="#86609a" stroke="#6a3a60" stroke-width="0.8"/>
<circle cx="1163.3" cy="256.5" r="2.7" fill="#86609a" stroke="#6a3a60" stroke-width="0.8"/>
<circle cx="1369.5" cy="249.5" r="3.3" fill="#8a5578" stroke="#6a3a60" stroke-width="0.8"/>
<circle cx="1272.2" cy="202.2" r="3.5" fill="#8a5578" stroke="#6a3a60" stroke-width="0.8"/>
<circle cx="1348.6" cy="112.4" r="3.4" fill="#8a5578" stroke="#6a3a60" stroke-width="0.8"/>
<circle cx="1161.9" cy="205.6" r="2.9" fill="#86609a" stroke="#6a3a60" stroke-width="0.8"/>
<circle cx="1248.8" cy="137.8" r="2.7" fill="#86609a" stroke="#6a3a60" stroke-width="0.8"/>
<circle cx="1170.2" cy="101.4" r="3.3" fill="#8a5578" stroke="#6a3a60" stroke-width="0.8"/>
<circle cx="1130.6" cy="92.7" r="3.0" fill="#86609a" stroke="#6a3a60" stroke-width="0.8"/>
<circle cx="1158.9" cy="295.6" r="3.4" fill="#7a4a6c" stroke="#6a3a60" stroke-width="0.8"/>
<circle cx="1201.0" cy="288.2" r="3.3" fill="#96607e" stroke="#6a3a60" stroke-width="0.8"/>
<circle cx="1317.9" cy="168.9" r="3.3" fill="#96607e" stroke="#6a3a60" stroke-width="0.8"/>
<circle cx="1273.4" cy="297.7" r="3.1" fill="#86609a" stroke="#6a3a60" stroke-width="0.8"/>
<circle cx="1269.5" cy="226.7" r="3.4" fill="#8a5578" stroke="#6a3a60" stroke-width="0.8"/>
<circle cx="1180.3" cy="107.8" r="3.0" fill="#7a4a6c" stroke="#6a3a60" stroke-width="0.8"/>
<circle cx="1415.1" cy="206.3" r="2.9" fill="#96607e" stroke="#6a3a60" stroke-width="0.8"/>
<circle cx="1193.4" cy="236.5" r="3.2" fill="#86609a" stroke="#6a3a60" stroke-width="0.8"/>
<circle cx="1186.1" cy="153.9" r="3.7" fill="#744668" stroke="#6a3a60" stroke-width="0.8"/>
<circle cx="1251.7" cy="287.8" r="3.4" fill="#7a4a6c" stroke="#6a3a60" stroke-width="0.8"/>
<circle cx="1277.7" cy="79.8" r="3.5" fill="#7a4a6c" stroke="#6a3a60" stroke-width="0.8"/>
<circle cx="1335.9" cy="197.1" r="3.4" fill="#86609a" stroke="#6a3a60" stroke-width="0.8"/>
<circle cx="1300.2" cy="162.9" r="2.9" fill="#744668" stroke="#6a3a60" stroke-width="0.8"/>
<circle cx="1226.5" cy="292.4" r="3.0" fill="#96607e" stroke="#6a3a60" stroke-width="0.8"/>
<circle cx="1143.6" cy="89.2" r="3.3" fill="#8a5578" stroke="#6a3a60" stroke-width="0.8"/>
<circle cx="1210.4" cy="84.2" r="3.7" fill="#96607e" stroke="#6a3a60" stroke-width="0.8"/>
<circle cx="1150.7" cy="252.9" r="3.0" fill="#8a5578" stroke="#6a3a60" stroke-width="0.8"/>
<circle cx="1226.0" cy="293.6" r="3.1" fill="#8a5578" stroke="#6a3a60" stroke-width="0.8"/>
<circle cx="1358.2" cy="92.4" r="3.3" fill="#96607e" stroke="#6a3a60" stroke-width="0.8"/>
<circle cx="1295.0" cy="255.0" r="2.8" fill="#96607e" stroke="#6a3a60" stroke-width="0.8"/>
<circle cx="1331.3" cy="269.0" r="3.3" fill="#86609a" stroke="#6a3a60" stroke-width="0.8"/>
<circle cx="1135.3" cy="74.4" r="3.0" fill="#744668" stroke="#6a3a60" stroke-width="0.8"/>
<circle cx="1161.9" cy="254.8" r="3.4" fill="#86609a" stroke="#6a3a60" stroke-width="0.8"/>
<circle cx="1282.8" cy="272.9" r="3.1" fill="#86609a" stroke="#6a3a60" stroke-width="0.8"/>
<circle cx="1144.6" cy="65.3" r="3.3" fill="#7a4a6c" stroke="#6a3a60" stroke-width="0.8"/>
<circle cx="1317.4" cy="97.0" r="3.3" fill="#96607e" stroke="#6a3a60" stroke-width="0.8"/>
<circle cx="1120.2" cy="235.6" r="3.8" fill="#7a4a6c" stroke="#6a3a60" stroke-width="0.8"/>
<circle cx="1324.1" cy="162.5" r="3.2" fill="#744668" stroke="#6a3a60" stroke-width="0.8"/>
<circle cx="1424.5" cy="253.0" r="3.3" fill="#96607e" stroke="#6a3a60" stroke-width="0.8"/>
<circle cx="1413.6" cy="186.9" r="3.5" fill="#7a4a6c" stroke="#6a3a60" stroke-width="0.8"/>
<circle cx="1202.5" cy="267.2" r="3.7" fill="#744668" stroke="#6a3a60" stroke-width="0.8"/>
<circle cx="1354.2" cy="264.2" r="3.4" fill="#8a5578" stroke="#6a3a60" stroke-width="0.8"/>
<circle cx="1341.0" cy="287.9" r="2.9" fill="#8a5578" stroke="#6a3a60" stroke-width="0.8"/>
<circle cx="1130.6" cy="131.0" r="3.7" fill="#8a5578" stroke="#6a3a60" stroke-width="0.8"/>
<circle cx="1416.7" cy="163.9" r="3.3" fill="#7a4a6c" stroke="#6a3a60" stroke-width="0.8"/>
<circle cx="1259.4" cy="185.6" r="3.8" fill="#86609a" stroke="#6a3a60" stroke-width="0.8"/>
<circle cx="1330.5" cy="159.5" r="3.4" fill="#8a5578" stroke="#6a3a60" stroke-width="0.8"/>
<circle cx="1335.8" cy="230.2" r="3.5" fill="#7a4a6c" stroke="#6a3a60" stroke-width="0.8"/>
<circle cx="1427.1" cy="220.4" r="3.7" fill="#86609a" stroke="#6a3a60" stroke-width="0.8"/>
<circle cx="1326.0" cy="73.1" r="3.2" fill="#7a4a6c" stroke="#6a3a60" stroke-width="0.8"/>
<circle cx="1322.9" cy="272.9" r="3.3" fill="#7a4a6c" stroke="#6a3a60" stroke-width="0.8"/>
<circle cx="1160.0" cy="150.4" r="2.8" fill="#96607e" stroke="#6a3a60" stroke-width="0.8"/>
<circle cx="1413.5" cy="163.6" r="3.1" fill="#96607e" stroke="#6a3a60" stroke-width="0.8"/>
<circle cx="1419.1" cy="143.4" r="3.4" fill="#86609a" stroke="#6a3a60" stroke-width="0.8"/>
<circle cx="1380.4" cy="267.2" r="3.0" fill="#744668" stroke="#6a3a60" stroke-width="0.8"/>
<circle cx="1198.7" cy="113.7" r="3.5" fill="#86609a" stroke="#6a3a60" stroke-width="0.8"/>
<circle cx="1231.3" cy="282.7" r="3.7" fill="#86609a" stroke="#6a3a60" stroke-width="0.8"/>
<circle cx="1372.2" cy="71.4" r="3.2" fill="#86609a" stroke="#6a3a60" stroke-width="0.8"/>
<circle cx="1379.6" cy="76.7" r="2.7" fill="#744668" stroke="#6a3a60" stroke-width="0.8"/>
<circle cx="1210.1" cy="147.2" r="2.7" fill="#7a4a6c" stroke="#6a3a60" stroke-width="0.8"/>
<circle cx="1234.1" cy="65.1" r="3.2" fill="#7a4a6c" stroke="#6a3a60" stroke-width="0.8"/>
<circle cx="1130.6" cy="185.4" r="2.9" fill="#8a5578" stroke="#6a3a60" stroke-width="0.8"/>
<circle cx="1400.7" cy="64.6" r="3.5" fill="#96607e" stroke="#6a3a60" stroke-width="0.8"/>
<circle cx="1176.7" cy="157.1" r="3.0" fill="#744668" stroke="#6a3a60" stroke-width="0.8"/>
<circle cx="1393.9" cy="190.7" r="3.0" fill="#744668" stroke="#6a3a60" stroke-width="0.8"/>
<circle cx="1316.9" cy="167.6" r="2.9" fill="#744668" stroke="#6a3a60" stroke-width="0.8"/>
<circle cx="1104.9" cy="273.3" r="3.5" fill="#8a5578" stroke="#6a3a60" stroke-width="0.8"/>
<circle cx="1164.8" cy="72.6" r="3.1" fill="#96607e" stroke="#6a3a60" stroke-width="0.8"/>
<circle cx="1396.7" cy="101.2" r="2.9" fill="#744668" stroke="#6a3a60" stroke-width="0.8"/>
<circle cx="1415.9" cy="296.9" r="2.8" fill="#744668" stroke="#6a3a60" stroke-width="0.8"/>
<circle cx="1282.3" cy="253.4" r="3.5" fill="#96607e" stroke="#6a3a60" stroke-width="0.8"/>
<circle cx="1347.9" cy="248.7" r="3.1" fill="#744668" stroke="#6a3a60" stroke-width="0.8"/>
<circle cx="1145.8" cy="290.9" r="3.6" fill="#7a4a6c" stroke="#6a3a60" stroke-width="0.8"/>
<circle cx="1153.7" cy="182.0" r="3.5" fill="#7a4a6c" stroke="#6a3a60" stroke-width="0.8"/>
<circle cx="1120.0" cy="260.5" r="3.2" fill="#86609a" stroke="#6a3a60" stroke-width="0.8"/>
<circle cx="1343.4" cy="166.4" r="3.0" fill="#744668" stroke="#6a3a60" stroke-width="0.8"/>
<circle cx="1129.9" cy="165.1" r="3.4" fill="#86609a" stroke="#6a3a60" stroke-width="0.8"/>
<circle cx="1163.9" cy="129.9" r="2.8" fill="#96607e" stroke="#6a3a60" stroke-width="0.8"/>
<circle cx="1427.1" cy="121.9" r="3.6" fill="#7a4a6c" stroke="#6a3a60" stroke-width="0.8"/>
<circle cx="1257.5" cy="249.3" r="2.8" fill="#86609a" stroke="#6a3a60" stroke-width="0.8"/>
<circle cx="1302.2" cy="107.9" r="3.6" fill="#7a4a6c" stroke="#6a3a60" stroke-width="0.8"/>
<circle cx="1177.8" cy="94.5" r="2.7" fill="#7a4a6c" stroke="#6a3a60" stroke-width="0.8"/>
<circle cx="1405.9" cy="164.5" r="3.4" fill="#8a5578" stroke="#6a3a60" stroke-width="0.8"/>
<circle cx="1384.8" cy="153.5" r="3.3" fill="#7a4a6c" stroke="#6a3a60" stroke-width="0.8"/>
<circle cx="1175.3" cy="164.4" r="2.8" fill="#744668" stroke="#6a3a60" stroke-width="0.8"/>
<circle cx="1312.9" cy="135.4" r="3.0" fill="#96607e" stroke="#6a3a60" stroke-width="0.8"/>
<circle cx="1410.4" cy="232.4" r="3.0" fill="#8a5578" stroke="#6a3a60" stroke-width="0.8"/>
<circle cx="1162.3" cy="63.1" r="3.4" fill="#96607e" stroke="#6a3a60" stroke-width="0.8"/>
<circle cx="1172.1" cy="175.3" r="3.7" fill="#8a5578" stroke="#6a3a60" stroke-width="0.8"/>
<circle cx="1243.5" cy="123.0" r="3.2" fill="#96607e" stroke="#6a3a60" stroke-width="0.8"/>
<circle cx="1202.2" cy="86.1" r="2.7" fill="#86609a" stroke="#6a3a60" stroke-width="0.8"/>
<circle cx="1354.2" cy="94.0" r="3.1" fill="#96607e" stroke="#6a3a60" stroke-width="0.8"/>
<circle cx="1345.2" cy="203.2" r="3.4" fill="#7a4a6c" stroke="#6a3a60" stroke-width="0.8"/>
<circle cx="1315.0" cy="113.0" r="3.1" fill="#8a5578" stroke="#6a3a60" stroke-width="0.8"/>
<circle cx="1145.5" cy="239.7" r="2.8" fill="#86609a" stroke="#6a3a60" stroke-width="0.8"/>
<circle cx="1418.7" cy="273.4" r="3.6" fill="#7a4a6c" stroke="#6a3a60" stroke-width="0.8"/>
<circle cx="1332.7" cy="283.3" r="2.8" fill="#86609a" stroke="#6a3a60" stroke-width="0.8"/>
<circle cx="1304.8" cy="134.8" r="3.2" fill="#7a4a6c" stroke="#6a3a60" stroke-width="0.8"/>
<circle cx="1276.9" cy="99.6" r="2.8" fill="#744668" stroke="#6a3a60" stroke-width="0.8"/>
<circle cx="1282.5" cy="123.1" r="3.7" fill="#86609a" stroke="#6a3a60" stroke-width="0.8"/>
<circle cx="1420.9" cy="276.0" r="3.2" fill="#8a5578" stroke="#6a3a60" stroke-width="0.8"/>
<circle cx="1399.9" cy="79.1" r="3.2" fill="#86609a" stroke="#6a3a60" stroke-width="0.8"/>
<circle cx="1360.8" cy="102.7" r="3.0" fill="#7a4a6c" stroke="#6a3a60" stroke-width="0.8"/>
<circle cx="1197.4" cy="290.5" r="2.8" fill="#7a4a6c" stroke="#6a3a60" stroke-width="0.8"/>
<circle cx="1344.5" cy="157.6" r="3.5" fill="#86609a" stroke="#6a3a60" stroke-width="0.8"/>
<circle cx="1419.7" cy="102.4" r="3.5" fill="#744668" stroke="#6a3a60" stroke-width="0.8"/>
<circle cx="1286.4" cy="155.9" r="3.4" fill="#7a4a6c" stroke="#6a3a60" stroke-width="0.8"/>
<circle cx="1163.0" cy="101.1" r="2.9" fill="#8a5578" stroke="#6a3a60" stroke-width="0.8"/>
<circle cx="1389.6" cy="251.2" r="3.2" fill="#86609a" stroke="#6a3a60" stroke-width="0.8"/>
<circle cx="1187.4" cy="265.9" r="3.0" fill="#96607e" stroke="#6a3a60" stroke-width="0.8"/>
<circle cx="1283.0" cy="103.7" r="2.8" fill="#7a4a6c" stroke="#6a3a60" stroke-width="0.8"/>
<circle cx="1198.1" cy="215.2" r="3.7" fill="#96607e" stroke="#6a3a60" stroke-width="0.8"/>
<circle cx="1405.3" cy="127.4" r="3.6" fill="#7a4a6c" stroke="#6a3a60" stroke-width="0.8"/>
<circle cx="1425.6" cy="113.0" r="2.8" fill="#96607e" stroke="#6a3a60" stroke-width="0.8"/>
<circle cx="1309.3" cy="294.4" r="3.1" fill="#86609a" stroke="#6a3a60" stroke-width="0.8"/>
<circle cx="1189.1" cy="94.8" r="3.7" fill="#96607e" stroke="#6a3a60" stroke-width="0.8"/>
<circle cx="1208.8" cy="76.6" r="3.6" fill="#96607e" stroke="#6a3a60" stroke-width="0.8"/>
<circle cx="1174.5" cy="292.7" r="2.9" fill="#8a5578" stroke="#6a3a60" stroke-width="0.8"/>
<circle cx="1278.2" cy="295.9" r="3.6" fill="#86609a" stroke="#6a3a60" stroke-width="0.8"/>
<circle cx="1137.7" cy="240.5" r="3.1" fill="#96607e" stroke="#6a3a60" stroke-width="0.8"/>
<circle cx="1386.6" cy="214.0" r="3.3" fill="#744668" stroke="#6a3a60" stroke-width="0.8"/>
<circle cx="1174.9" cy="127.0" r="3.3" fill="#744668" stroke="#6a3a60" stroke-width="0.8"/>
<circle cx="1153.7" cy="118.2" r="3.5" fill="#96607e" stroke="#6a3a60" stroke-width="0.8"/>
<circle cx="1151.4" cy="177.0" r="3.2" fill="#744668" stroke="#6a3a60" stroke-width="0.8"/>
<circle cx="1163.3" cy="268.2" r="2.9" fill="#744668" stroke="#6a3a60" stroke-width="0.8"/>
<circle cx="1410.5" cy="105.9" r="3.0" fill="#96607e" stroke="#6a3a60" stroke-width="0.8"/>
<circle cx="1156.1" cy="105.3" r="3.1" fill="#86609a" stroke="#6a3a60" stroke-width="0.8"/>
<circle cx="1164.2" cy="97.2" r="3.2" fill="#744668" stroke="#6a3a60" stroke-width="0.8"/>
<circle cx="1399.4" cy="294.0" r="2.8" fill="#86609a" stroke="#6a3a60" stroke-width="0.8"/>
<circle cx="1147.8" cy="241.6" r="2.7" fill="#8a5578" stroke="#6a3a60" stroke-width="0.8"/>
<circle cx="1226.2" cy="67.9" r="3.6" fill="#8a5578" stroke="#6a3a60" stroke-width="0.8"/>
<circle cx="1146.1" cy="246.3" r="3.0" fill="#86609a" stroke="#6a3a60" stroke-width="0.8"/>
<circle cx="1107.4" cy="293.0" r="3.8" fill="#8a5578" stroke="#6a3a60" stroke-width="0.8"/>
<circle cx="1279.8" cy="257.7" r="3.6" fill="#8a5578" stroke="#6a3a60" stroke-width="0.8"/>
<circle cx="1169.0" cy="177.3" r="3.3" fill="#744668" stroke="#6a3a60" stroke-width="0.8"/>
<circle cx="1368.8" cy="136.2" r="3.2" fill="#7a4a6c" stroke="#6a3a60" stroke-width="0.8"/>
<circle cx="1121.2" cy="227.7" r="3.4" fill="#8a5578" stroke="#6a3a60" stroke-width="0.8"/>
<circle cx="1109.9" cy="73.6" r="3.3" fill="#8a5578" stroke="#6a3a60" stroke-width="0.8"/>
<circle cx="1269.8" cy="262.1" r="2.9" fill="#7a4a6c" stroke="#6a3a60" stroke-width="0.8"/>
<circle cx="1110.8" cy="164.7" r="2.9" fill="#96607e" stroke="#6a3a60" stroke-width="0.8"/>
<circle cx="1176.6" cy="272.2" r="3.1" fill="#8a5578" stroke="#6a3a60" stroke-width="0.8"/>
<circle cx="1263.3" cy="298.8" r="2.9" fill="#96607e" stroke="#6a3a60" stroke-width="0.8"/>
<circle cx="1219.5" cy="209.5" r="2.8" fill="#8a5578" stroke="#6a3a60" stroke-width="0.8"/>
<circle cx="1395.0" cy="206.9" r="2.9" fill="#86609a" stroke="#6a3a60" stroke-width="0.8"/>
<circle cx="1212.2" cy="106.2" r="3.2" fill="#96607e" stroke="#6a3a60" stroke-width="0.8"/>
<circle cx="1306.7" cy="131.3" r="3.7" fill="#96607e" stroke="#6a3a60" stroke-width="0.8"/>
<circle cx="1401.7" cy="220.5" r="3.7" fill="#8a5578" stroke="#6a3a60" stroke-width="0.8"/>
<circle cx="1360.2" cy="268.1" r="3.8" fill="#7a4a6c" stroke="#6a3a60" stroke-width="0.8"/>
<circle cx="1207.4" cy="156.0" r="3.5" fill="#744668" stroke="#6a3a60" stroke-width="0.8"/>
<circle cx="1368.6" cy="89.9" r="3.2" fill="#96607e" stroke="#6a3a60" stroke-width="0.8"/>
<circle cx="1150.2" cy="139.9" r="2.8" fill="#744668" stroke="#6a3a60" stroke-width="0.8"/>
<circle cx="1218.0" cy="180.6" r="3.2" fill="#744668" stroke="#6a3a60" stroke-width="0.8"/>
<circle cx="1299.2" cy="214.5" r="2.9" fill="#7a4a6c" stroke="#6a3a60" stroke-width="0.8"/>
<circle cx="1227.9" cy="193.7" r="3.3" fill="#744668" stroke="#6a3a60" stroke-width="0.8"/>
<circle cx="1276.6" cy="258.5" r="3.1" fill="#86609a" stroke="#6a3a60" stroke-width="0.8"/>
<circle cx="1336.1" cy="188.4" r="3.6" fill="#7a4a6c" stroke="#6a3a60" stroke-width="0.8"/>
<circle cx="1332.2" cy="119.0" r="2.7" fill="#8a5578" stroke="#6a3a60" stroke-width="0.8"/>
<circle cx="1221.1" cy="175.8" r="2.8" fill="#8a5578" stroke="#6a3a60" stroke-width="0.8"/>
<circle cx="1122.4" cy="146.1" r="3.6" fill="#7a4a6c" stroke="#6a3a60" stroke-width="0.8"/>
<circle cx="1199.1" cy="97.3" r="3.6" fill="#744668" stroke="#6a3a60" stroke-width="0.8"/>
<circle cx="1182.1" cy="260.0" r="2.8" fill="#7a4a6c" stroke="#6a3a60" stroke-width="0.8"/>
<circle cx="1141.2" cy="228.6" r="2.9" fill="#8a5578" stroke="#6a3a60" stroke-width="0.8"/>
<circle cx="1329.9" cy="164.1" r="2.8" fill="#8a5578" stroke="#6a3a60" stroke-width="0.8"/>
<circle cx="1319.1" cy="80.6" r="3.6" fill="#7a4a6c" stroke="#6a3a60" stroke-width="0.8"/>
<circle cx="1112.8" cy="149.9" r="2.8" fill="#8a5578" stroke="#6a3a60" stroke-width="0.8"/>
<circle cx="1107.1" cy="260.8" r="3.2" fill="#7a4a6c" stroke="#6a3a60" stroke-width="0.8"/>
<circle cx="1256.1" cy="96.3" r="3.3" fill="#96607e" stroke="#6a3a60" stroke-width="0.8"/>
<circle cx="1256.3" cy="235.0" r="3.2" fill="#8a5578" stroke="#6a3a60" stroke-width="0.8"/>
<circle cx="1196.5" cy="100.1" r="3.7" fill="#8a5578" stroke="#6a3a60" stroke-width="0.8"/>
<circle cx="1300.0" cy="104.3" r="2.9" fill="#744668" stroke="#6a3a60" stroke-width="0.8"/>
<circle cx="1374.5" cy="224.8" r="3.7" fill="#86609a" stroke="#6a3a60" stroke-width="0.8"/>
<circle cx="1334.9" cy="124.4" r="3.3" fill="#96607e" stroke="#6a3a60" stroke-width="0.8"/>
<circle cx="1334.2" cy="163.8" r="2.9" fill="#8a5578" stroke="#6a3a60" stroke-width="0.8"/>
<circle cx="1273.0" cy="295.7" r="2.8" fill="#7a4a6c" stroke="#6a3a60" stroke-width="0.8"/>
<circle cx="1233.5" cy="76.3" r="3.1" fill="#86609a" stroke="#6a3a60" stroke-width="0.8"/>
<circle cx="1300.3" cy="81.4" r="3.5" fill="#744668" stroke="#6a3a60" stroke-width="0.8"/>
<circle cx="1205.1" cy="215.8" r="3.6" fill="#7a4a6c" stroke="#6a3a60" stroke-width="0.8"/>
<circle cx="1120.8" cy="151.4" r="3.2" fill="#96607e" stroke="#6a3a60" stroke-width="0.8"/>
<circle cx="1138.3" cy="81.5" r="3.4" fill="#96607e" stroke="#6a3a60" stroke-width="0.8"/>
<circle cx="1112.1" cy="130.2" r="3.3" fill="#8a5578" stroke="#6a3a60" stroke-width="0.8"/>
<circle cx="1172.1" cy="65.6" r="3.7" fill="#7a4a6c" stroke="#6a3a60" stroke-width="0.8"/>
<circle cx="1282.9" cy="214.9" r="2.7" fill="#96607e" stroke="#6a3a60" stroke-width="0.8"/>
<circle cx="1130.7" cy="198.7" r="2.7" fill="#744668" stroke="#6a3a60" stroke-width="0.8"/>
<circle cx="1117.9" cy="137.9" r="3.7" fill="#8a5578" stroke="#6a3a60" stroke-width="0.8"/>
<circle cx="1422.7" cy="241.9" r="3.8" fill="#86609a" stroke="#6a3a60" stroke-width="0.8"/>
<circle cx="1166.5" cy="241.9" r="3.5" fill="#7a4a6c" stroke="#6a3a60" stroke-width="0.8"/>
<circle cx="1332.1" cy="86.2" r="3.1" fill="#86609a" stroke="#6a3a60" stroke-width="0.8"/>
<circle cx="1135.9" cy="255.2" r="2.9" fill="#86609a" stroke="#6a3a60" stroke-width="0.8"/>
<circle cx="1362.5" cy="176.5" r="3.7" fill="#8a5578" stroke="#6a3a60" stroke-width="0.8"/>
<circle cx="1197.6" cy="99.1" r="3.2" fill="#8a5578" stroke="#6a3a60" stroke-width="0.8"/>
<circle cx="1413.6" cy="118.1" r="2.9" fill="#7a4a6c" stroke="#6a3a60" stroke-width="0.8"/>
<circle cx="1353.6" cy="101.3" r="3.8" fill="#86609a" stroke="#6a3a60" stroke-width="0.8"/>
<circle cx="1426.5" cy="207.9" r="3.3" fill="#96607e" stroke="#6a3a60" stroke-width="0.8"/>
<circle cx="1248.9" cy="94.2" r="3.0" fill="#86609a" stroke="#6a3a60" stroke-width="0.8"/>
<circle cx="1382.0" cy="165.6" r="3.7" fill="#744668" stroke="#6a3a60" stroke-width="0.8"/>
<circle cx="1181.0" cy="300.3" r="3.4" fill="#7a4a6c" stroke="#6a3a60" stroke-width="0.8"/>
<circle cx="1287.8" cy="299.7" r="2.8" fill="#8a5578" stroke="#6a3a60" stroke-width="0.8"/>
<circle cx="1149.5" cy="270.2" r="3.3" fill="#8a5578" stroke="#6a3a60" stroke-width="0.8"/>
<circle cx="1265.6" cy="171.2" r="2.9" fill="#96607e" stroke="#6a3a60" stroke-width="0.8"/>
<circle cx="1155.6" cy="129.7" r="3.1" fill="#8a5578" stroke="#6a3a60" stroke-width="0.8"/>
<circle cx="1126.2" cy="232.1" r="3.2" fill="#744668" stroke="#6a3a60" stroke-width="0.8"/>
<circle cx="1422.0" cy="244.6" r="3.2" fill="#7a4a6c" stroke="#6a3a60" stroke-width="0.8"/>
<circle cx="1409.4" cy="294.3" r="3.2" fill="#96607e" stroke="#6a3a60" stroke-width="0.8"/>
<circle cx="1383.0" cy="158.4" r="3.6" fill="#7a4a6c" stroke="#6a3a60" stroke-width="0.8"/>
<circle cx="1246.7" cy="185.0" r="3.4" fill="#96607e" stroke="#6a3a60" stroke-width="0.8"/>
<circle cx="1224.8" cy="225.4" r="3.3" fill="#96607e" stroke="#6a3a60" stroke-width="0.8"/>
<circle cx="1389.0" cy="298.9" r="2.7" fill="#8a5578" stroke="#6a3a60" stroke-width="0.8"/>
<circle cx="1344.6" cy="121.3" r="3.6" fill="#8a5578" stroke="#6a3a60" stroke-width="0.8"/>
<circle cx="1153.4" cy="88.1" r="3.1" fill="#86609a" stroke="#6a3a60" stroke-width="0.8"/>
<circle cx="1233.2" cy="80.4" r="3.1" fill="#744668" stroke="#6a3a60" stroke-width="0.8"/>
<circle cx="1321.1" cy="146.0" r="3.2" fill="#86609a" stroke="#6a3a60" stroke-width="0.8"/>
<circle cx="1396.4" cy="173.6" r="2.8" fill="#8a5578" stroke="#6a3a60" stroke-width="0.8"/>
<circle cx="1402.1" cy="282.6" r="3.5" fill="#7a4a6c" stroke="#6a3a60" stroke-width="0.8"/>
<circle cx="1233.9" cy="78.3" r="2.0" fill="#44407a"/>
<circle cx="1261.5" cy="230.1" r="2.2" fill="#4a4aa0"/>
<circle cx="1251.2" cy="192.7" r="2.6" fill="#6a64bc"/>
<circle cx="1311.7" cy="139.2" r="1.7" fill="#44407a"/>
<circle cx="1355.4" cy="77.9" r="2.5" fill="#7a72c4"/>
<circle cx="1422.0" cy="113.8" r="1.9" fill="#5a56b0"/>
<circle cx="1413.6" cy="225.7" r="2.0" fill="#6e6ac8"/>
<circle cx="1160.4" cy="96.7" r="2.0" fill="#5a56b0"/>
<circle cx="1200.3" cy="232.5" r="2.6" fill="#44407a"/>
<circle cx="1172.8" cy="275.6" r="1.9" fill="#5a56b0"/>
<circle cx="1133.1" cy="277.6" r="2.0" fill="#4a4aa0"/>
<circle cx="1156.6" cy="146.1" r="2.1" fill="#7a72c4"/>
<circle cx="1277.6" cy="249.6" r="2.7" fill="#7a72c4"/>
<circle cx="1218.6" cy="227.9" r="2.1" fill="#5a56b0"/>
<circle cx="1285.9" cy="275.7" r="1.9" fill="#6e6ac8"/>
<circle cx="1320.8" cy="209.7" r="2.0" fill="#6e6ac8"/>
<circle cx="1345.2" cy="238.3" r="2.0" fill="#6a64bc"/>
<circle cx="1395.3" cy="285.2" r="2.2" fill="#4a4aa0"/>
<circle cx="1140.0" cy="293.9" r="2.1" fill="#44407a"/>
<circle cx="1338.5" cy="298.2" r="2.6" fill="#6a64bc"/>
<circle cx="1309.8" cy="215.1" r="2.3" fill="#5a56b0"/>
<circle cx="1174.3" cy="296.0" r="2.1" fill="#44407a"/>
<circle cx="1355.4" cy="206.0" r="1.9" fill="#6a64bc"/>
<circle cx="1413.5" cy="294.3" r="2.3" fill="#5a56b0"/>
<circle cx="1223.7" cy="149.6" r="2.0" fill="#4a4aa0"/>
<circle cx="1266.7" cy="269.5" r="2.4" fill="#6e6ac8"/>
<circle cx="1428.7" cy="161.5" r="2.1" fill="#44407a"/>
<circle cx="1241.8" cy="294.8" r="2.0" fill="#6a64bc"/>
<circle cx="1252.6" cy="151.8" r="2.3" fill="#6a64bc"/>
<circle cx="1279.9" cy="153.8" r="2.5" fill="#6e6ac8"/>
<circle cx="1324.8" cy="213.9" r="2.4" fill="#5a56b0"/>
<circle cx="1427.5" cy="254.8" r="1.8" fill="#6e6ac8"/>
<circle cx="1108.4" cy="284.9" r="1.8" fill="#6e6ac8"/>
<circle cx="1348.1" cy="283.7" r="1.8" fill="#7a72c4"/>
<circle cx="1267.1" cy="254.8" r="2.4" fill="#7a72c4"/>
<circle cx="1172.1" cy="247.9" r="2.3" fill="#5a56b0"/>
<circle cx="1166.8" cy="174.8" r="1.8" fill="#7a72c4"/>
<circle cx="1237.6" cy="258.3" r="2.4" fill="#6e6ac8"/>
<circle cx="1232.0" cy="286.6" r="2.5" fill="#44407a"/>
<circle cx="1195.5" cy="272.3" r="2.0" fill="#7a72c4"/>
<circle cx="1322.5" cy="64.0" r="2.6" fill="#5a56b0"/>
<circle cx="1108.1" cy="99.5" r="2.1" fill="#44407a"/>
<circle cx="1370.3" cy="205.8" r="2.0" fill="#44407a"/>
<circle cx="1426.7" cy="120.6" r="2.7" fill="#6a64bc"/>
<circle cx="1303.9" cy="156.6" r="1.8" fill="#44407a"/>
<circle cx="1242.9" cy="286.6" r="2.1" fill="#6e6ac8"/>
<circle cx="1159.6" cy="278.2" r="2.2" fill="#7a72c4"/>
<circle cx="1178.3" cy="232.0" r="1.8" fill="#5a56b0"/>
<circle cx="1308.8" cy="249.7" r="2.5" fill="#6e6ac8"/>
<circle cx="1401.8" cy="262.3" r="1.9" fill="#4a4aa0"/>
<circle cx="1169.4" cy="85.2" r="2.1" fill="#6e6ac8"/>
<circle cx="1354.0" cy="99.4" r="2.3" fill="#44407a"/>
<circle cx="1403.1" cy="81.7" r="2.1" fill="#6e6ac8"/>
<circle cx="1342.3" cy="297.1" r="2.3" fill="#4a4aa0"/>
<circle cx="1163.8" cy="218.3" r="1.9" fill="#6a64bc"/>
<circle cx="1277.5" cy="121.4" r="2.5" fill="#7a72c4"/>
<circle cx="1354.1" cy="219.9" r="2.0" fill="#6a64bc"/>
<circle cx="1307.5" cy="214.9" r="2.3" fill="#5a56b0"/>
<circle cx="1139.2" cy="283.7" r="1.8" fill="#6a64bc"/>
<circle cx="1195.1" cy="275.9" r="1.8" fill="#7a72c4"/>
<circle cx="1378.3" cy="280.2" r="1.9" fill="#5a56b0"/>
<circle cx="1263.1" cy="68.2" r="1.8" fill="#6e6ac8"/>
<circle cx="1127.9" cy="226.6" r="2.1" fill="#4a4aa0"/>
<circle cx="1309.5" cy="170.3" r="1.9" fill="#4a4aa0"/>
<circle cx="1106.3" cy="105.5" r="2.3" fill="#44407a"/>
<circle cx="1381.7" cy="90.9" r="2.0" fill="#4a4aa0"/>
<circle cx="1260.8" cy="209.1" r="2.2" fill="#6a64bc"/>
<circle cx="1273.1" cy="123.6" r="1.8" fill="#44407a"/>
<circle cx="1112.6" cy="68.5" r="2.2" fill="#6a64bc"/>
<circle cx="1173.5" cy="149.8" r="2.6" fill="#5a56b0"/>
<circle cx="1209.8" cy="115.3" r="2.4" fill="#6a64bc"/>
<circle cx="1190.2" cy="177.6" r="2.7" fill="#4a4aa0"/>
<circle cx="1333.8" cy="218.2" r="2.2" fill="#7a72c4"/>
<circle cx="1245.2" cy="288.2" r="2.6" fill="#4a4aa0"/>
<circle cx="1159.4" cy="226.5" r="2.6" fill="#4a4aa0"/>
<circle cx="1416.6" cy="87.5" r="2.5" fill="#44407a"/>
<circle cx="1204.6" cy="252.0" r="2.7" fill="#7a72c4"/>
<circle cx="1244.3" cy="169.2" r="2.3" fill="#4a4aa0"/>
<circle cx="1369.0" cy="211.3" r="2.3" fill="#7a72c4"/>
<circle cx="1168.1" cy="147.0" r="2.6" fill="#5a56b0"/>
<circle cx="1249.5" cy="274.7" r="2.7" fill="#4a4aa0"/>
<circle cx="1294.3" cy="132.8" r="2.5" fill="#6e6ac8"/>
<circle cx="1412.8" cy="189.3" r="2.1" fill="#5a56b0"/>
<circle cx="1161.6" cy="139.8" r="2.5" fill="#4a4aa0"/>
<circle cx="1183.0" cy="114.2" r="2.1" fill="#6a64bc"/>
<circle cx="1357.1" cy="92.1" r="2.0" fill="#5a56b0"/>
<circle cx="1336.7" cy="113.9" r="2.3" fill="#4a4aa0"/>
<circle cx="1396.0" cy="196.7" r="2.1" fill="#44407a"/>
<circle cx="1172.2" cy="114.8" r="2.3" fill="#6e6ac8"/>
<circle cx="1301.2" cy="273.2" r="2.6" fill="#5a56b0"/>
<circle cx="1290.1" cy="216.8" r="2.4" fill="#7a72c4"/>
<circle cx="1206.6" cy="139.2" r="1.9" fill="#7a72c4"/>
<circle cx="1265.6" cy="298.7" r="2.1" fill="#5a56b0"/>
<circle cx="1250.6" cy="206.1" r="2.3" fill="#6a64bc"/>
<circle cx="1290.9" cy="130.8" r="2.3" fill="#44407a"/>
<circle cx="1425.1" cy="280.0" r="2.0" fill="#7a72c4"/>
<circle cx="1115.1" cy="190.0" r="2.2" fill="#4a4aa0"/>
<circle cx="1313.2" cy="79.5" r="1.8" fill="#7a72c4"/>
<circle cx="1338.8" cy="128.4" r="2.5" fill="#7a72c4"/>
<circle cx="1129.0" cy="247.4" r="2.2" fill="#5a56b0"/>
<circle cx="1231.2" cy="228.8" r="2.2" fill="#6e6ac8"/>
<circle cx="1418.3" cy="91.9" r="2.1" fill="#44407a"/>
<circle cx="1136.5" cy="116.3" r="2.5" fill="#6a64bc"/>
<circle cx="1137.3" cy="139.8" r="2.4" fill="#7a72c4"/>
<circle cx="1176.8" cy="83.9" r="2.4" fill="#4a4aa0"/>
<circle cx="1369.1" cy="190.9" r="1.7" fill="#6e6ac8"/>
<circle cx="1386.0" cy="124.8" r="2.5" fill="#5a56b0"/>
<circle cx="1118.6" cy="135.4" r="2.0" fill="#6e6ac8"/>
<circle cx="1302.8" cy="256.4" r="2.0" fill="#6a64bc"/>
<circle cx="1404.5" cy="201.9" r="1.8" fill="#4a4aa0"/>
<circle cx="1384.0" cy="242.2" r="2.6" fill="#7a72c4"/>
<circle cx="1310.6" cy="222.0" r="2.2" fill="#6a64bc"/>
<circle cx="1291.4" cy="220.4" r="2.7" fill="#4a4aa0"/>
<circle cx="1354.9" cy="177.9" r="1.8" fill="#4a4aa0"/>
<circle cx="1334.9" cy="147.0" r="2.5" fill="#6a64bc"/>
<circle cx="1318.0" cy="238.0" r="1.9" fill="#5a56b0"/>
<circle cx="1127.5" cy="180.7" r="1.9" fill="#6e6ac8"/>
<circle cx="1173.5" cy="257.8" r="1.9" fill="#5a56b0"/>
<circle cx="1214.0" cy="256.7" r="2.5" fill="#44407a"/>
<circle cx="1382.9" cy="244.0" r="2.0" fill="#7a72c4"/>
<circle cx="1316.6" cy="264.8" r="1.8" fill="#6a64bc"/>
<circle cx="1174.3" cy="149.5" r="2.7" fill="#44407a"/>
<circle cx="1270.4" cy="248.6" r="1.9" fill="#4a4aa0"/>
<circle cx="1240.9" cy="226.3" r="2.7" fill="#44407a"/>
<circle cx="1314.4" cy="98.1" r="2.6" fill="#6e6ac8"/>
<circle cx="1138.9" cy="66.9" r="2.2" fill="#4a4aa0"/>
<circle cx="1112.3" cy="220.5" r="2.2" fill="#4a4aa0"/>
<circle cx="1141.6" cy="194.0" r="2.1" fill="#6a64bc"/>
<circle cx="1152.1" cy="182.5" r="2.2" fill="#5a56b0"/>
<circle cx="1246.9" cy="151.0" r="1.7" fill="#7a72c4"/>
<circle cx="1341.6" cy="163.6" r="2.0" fill="#7a72c4"/>
<circle cx="1160.6" cy="128.7" r="2.3" fill="#44407a"/>
<circle cx="1244.3" cy="225.1" r="2.3" fill="#5a56b0"/>
<circle cx="1174.6" cy="75.6" r="1.7" fill="#4a4aa0"/>
<circle cx="1180.8" cy="189.6" r="2.0" fill="#44407a"/>
<circle cx="1331.0" cy="159.3" r="2.1" fill="#6a64bc"/>
<circle cx="1342.3" cy="272.3" r="2.0" fill="#6a64bc"/>
<circle cx="1158.8" cy="111.5" r="2.3" fill="#6e6ac8"/>
<circle cx="1297.4" cy="237.7" r="1.8" fill="#44407a"/>
<circle cx="1398.9" cy="211.1" r="2.4" fill="#6e6ac8"/>
<circle cx="1180.8" cy="138.0" r="1.8" fill="#6a64bc"/>
<circle cx="1211.3" cy="171.3" r="2.7" fill="#6e6ac8"/>
<circle cx="1257.7" cy="142.5" r="1.9" fill="#4a4aa0"/>
<circle cx="1390.3" cy="103.6" r="2.5" fill="#5a56b0"/>
<circle cx="1296.6" cy="293.8" r="2.3" fill="#7a72c4"/>
<circle cx="1387.7" cy="175.5" r="1.7" fill="#5a56b0"/>
<circle cx="1287.9" cy="298.7" r="2.5" fill="#44407a"/>
<circle cx="1267.0" cy="242.7" r="2.5" fill="#5a56b0"/>
<circle cx="1202.3" cy="238.2" r="2.2" fill="#6e6ac8"/>
<circle cx="1217.4" cy="192.9" r="2.4" fill="#4a4aa0"/>
<circle cx="1221.8" cy="66.2" r="2.1" fill="#6e6ac8"/>
<circle cx="1211.8" cy="186.2" r="2.4" fill="#44407a"/>
<circle cx="1260.9" cy="127.2" r="2.2" fill="#6e6ac8"/>
<circle cx="1109.8" cy="295.9" r="2.6" fill="#6e6ac8"/>
<circle cx="1427.1" cy="148.0" r="1.7" fill="#44407a"/>
<circle cx="1344.6" cy="294.6" r="2.1" fill="#6e6ac8"/>
<circle cx="1132.1" cy="282.1" r="2.1" fill="#5a56b0"/>
<circle cx="1417.7" cy="271.8" r="2.4" fill="#7a72c4"/>
<circle cx="1424.9" cy="271.5" r="1.9" fill="#6e6ac8"/>
<circle cx="1216.7" cy="141.8" r="2.3" fill="#4a4aa0"/>
<circle cx="1203.8" cy="72.8" r="2.2" fill="#4a4aa0"/>
<circle cx="1374.9" cy="92.3" r="2.5" fill="#44407a"/>
<circle cx="1418.6" cy="251.6" r="2.0" fill="#5a56b0"/>
<circle cx="1265.7" cy="226.2" r="2.2" fill="#6a64bc"/>
<circle cx="1273.6" cy="132.0" r="2.3" fill="#6a64bc"/>
<circle cx="1202.0" cy="131.6" r="2.5" fill="#5a56b0"/>
<circle cx="1251.0" cy="114.7" r="2.5" fill="#5a56b0"/>
<circle cx="1120.3" cy="135.8" r="2.1" fill="#6e6ac8"/>
<circle cx="1374.9" cy="74.9" r="1.8" fill="#4a4aa0"/>
<circle cx="1359.0" cy="182.5" r="2.7" fill="#44407a"/>
<circle cx="1153.5" cy="83.5" r="2.0" fill="#6e6ac8"/>
<circle cx="1167.1" cy="202.3" r="1.8" fill="#6a64bc"/>
<circle cx="1113.5" cy="285.0" r="1.9" fill="#6e6ac8"/>
<circle cx="1310.7" cy="163.6" r="2.7" fill="#5a56b0"/>
<circle cx="1394.1" cy="282.0" r="2.3" fill="#6a64bc"/>
<circle cx="1286.8" cy="224.6" r="2.0" fill="#44407a"/>
<circle cx="1148.4" cy="245.7" r="2.0" fill="#7a72c4"/>
<circle cx="1283.7" cy="134.7" r="1.8" fill="#44407a"/>
<circle cx="1405.2" cy="172.8" r="1.9" fill="#7a72c4"/>
<circle cx="1134.3" cy="188.3" r="2.4" fill="#44407a"/>
<circle cx="1407.8" cy="232.6" r="2.2" fill="#7a72c4"/>
<circle cx="1255.1" cy="291.8" r="2.2" fill="#44407a"/>
<circle cx="1111.6" cy="245.5" r="1.8" fill="#6a64bc"/>
<circle cx="1303.6" cy="135.0" r="1.9" fill="#44407a"/>
<circle cx="1224.6" cy="210.8" r="2.6" fill="#4a4aa0"/>
<circle cx="1120.5" cy="264.1" r="1.8" fill="#6e6ac8"/>
<circle cx="1104.9" cy="255.2" r="2.6" fill="#7a72c4"/>
<circle cx="1376.6" cy="83.1" r="2.0" fill="#6e6ac8"/>
<circle cx="1137.9" cy="204.5" r="2.5" fill="#44407a"/>
<circle cx="1260.0" cy="141.9" r="1.8" fill="#6e6ac8"/>
<circle cx="1293.6" cy="184.6" r="2.4" fill="#6e6ac8"/>
<circle cx="1169.9" cy="97.3" r="2.4" fill="#7a72c4"/>
<circle cx="1147.5" cy="276.0" r="2.3" fill="#6a64bc"/>
<circle cx="1201.1" cy="137.0" r="2.7" fill="#5a56b0"/>
<circle cx="1365.6" cy="211.4" r="1.9" fill="#5a56b0"/>
<circle cx="1103.0" cy="206.7" r="1.8" fill="#5a56b0"/>
<circle cx="1183.6" cy="87.7" r="1.7" fill="#44407a"/>
<circle cx="1247.7" cy="76.2" r="1.8" fill="#7a72c4"/>
<circle cx="1260.7" cy="106.8" r="1.9" fill="#44407a"/>
<circle cx="1187.8" cy="208.8" r="2.1" fill="#6e6ac8"/>
<circle cx="1304.2" cy="165.9" r="2.3" fill="#6a64bc"/>
<circle cx="1149.2" cy="240.2" r="1.9" fill="#44407a"/>
<circle cx="1344.8" cy="193.1" r="2.2" fill="#4a4aa0"/>
<circle cx="1197.4" cy="86.8" r="2.3" fill="#4a4aa0"/>
<circle cx="1320.7" cy="156.1" r="2.4" fill="#5a56b0"/>
<circle cx="1254.3" cy="256.6" r="1.8" fill="#4a4aa0"/>
<circle cx="1252.0" cy="197.3" r="1.7" fill="#4a4aa0"/>
<circle cx="1114.1" cy="217.8" r="2.4" fill="#7a72c4"/>
<circle cx="1116.9" cy="278.9" r="2.7" fill="#7a72c4"/>
<circle cx="1390.7" cy="172.1" r="1.7" fill="#6a64bc"/>
<circle cx="1219.6" cy="266.7" r="2.2" fill="#4a4aa0"/>
<circle cx="1397.2" cy="188.0" r="2.2" fill="#6a64bc"/>
<circle cx="1316.8" cy="146.7" r="2.4" fill="#4a4aa0"/>
<circle cx="1252.8" cy="267.4" r="1.8" fill="#6e6ac8"/>
<circle cx="1201.8" cy="156.8" r="2.6" fill="#6e6ac8"/>
<circle cx="1260.7" cy="292.1" r="2.3" fill="#6a64bc"/>
<circle cx="1290.8" cy="283.7" r="2.5" fill="#44407a"/>
<circle cx="1187.5" cy="229.1" r="2.3" fill="#44407a"/>
<circle cx="1216.5" cy="210.0" r="2.1" fill="#5a56b0"/>
<circle cx="1112.6" cy="237.4" r="1.9" fill="#6e6ac8"/>
<circle cx="1137.6" cy="285.3" r="2.2" fill="#6a64bc"/>
<circle cx="1422.9" cy="255.4" r="2.4" fill="#6a64bc"/>
<circle cx="1137.4" cy="272.6" r="2.4" fill="#7a72c4"/>
<circle cx="1349.4" cy="163.0" r="1.8" fill="#44407a"/>
<circle cx="1184.7" cy="71.9" r="2.4" fill="#7a72c4"/>
<circle cx="1351.9" cy="207.4" r="2.5" fill="#6a64bc"/>
<circle cx="1207.7" cy="229.3" r="2.1" fill="#6e6ac8"/>
<circle cx="1290.1" cy="110.5" r="2.0" fill="#7a72c4"/>
<circle cx="1324.3" cy="116.7" r="2.4" fill="#7a72c4"/>
<circle cx="1368.3" cy="255.5" r="1.9" fill="#44407a"/>
<circle cx="1110.9" cy="291.4" r="1.8" fill="#5a56b0"/>
<circle cx="1367.1" cy="275.6" r="2.1" fill="#7a72c4"/>
<circle cx="1288.3" cy="268.7" r="2.0" fill="#6e6ac8"/>
<circle cx="1341.0" cy="279.8" r="2.3" fill="#7a72c4"/>
<circle cx="1165.0" cy="112.4" r="2.5" fill="#44407a"/>
<circle cx="1217.8" cy="210.2" r="2.3" fill="#6a64bc"/>
<circle cx="1364.3" cy="167.5" r="2.3" fill="#5a56b0"/>
<circle cx="1288.5" cy="93.3" r="2.2" fill="#5a56b0"/>
<circle cx="1141.4" cy="117.9" r="2.3" fill="#4a4aa0"/>
<circle cx="1110.3" cy="258.5" r="2.0" fill="#4a4aa0"/>
<circle cx="1230.3" cy="148.2" r="2.6" fill="#6a64bc"/>
<circle cx="1418.6" cy="80.8" r="2.3" fill="#44407a"/>
<circle cx="1406.8" cy="182.0" r="2.1" fill="#5a56b0"/>
<circle cx="1281.0" cy="275.3" r="2.3" fill="#4a4aa0"/>
<circle cx="1316.0" cy="70.7" r="2.1" fill="#6a64bc"/>
<circle cx="1212.1" cy="245.0" r="1.8" fill="#44407a"/>
<circle cx="1369.3" cy="141.4" r="2.5" fill="#5a56b0"/>
<circle cx="1179.8" cy="80.4" r="2.6" fill="#44407a"/>
<circle cx="1332.2" cy="245.2" r="1.7" fill="#5a56b0"/>
<circle cx="1412.7" cy="205.4" r="2.3" fill="#5a56b0"/>
<circle cx="1392.3" cy="176.9" r="1.8" fill="#6e6ac8"/>
<circle cx="1116.6" cy="71.5" r="2.2" fill="#6e6ac8"/>
<circle cx="1217.2" cy="176.7" r="2.5" fill="#6a64bc"/>
<circle cx="1110.0" cy="76.2" r="2.5" fill="#6a64bc"/>
<circle cx="1277.1" cy="267.8" r="2.4" fill="#6e6ac8"/>
<circle cx="1108.9" cy="177.8" r="2.1" fill="#7a72c4"/>
<circle cx="1329.7" cy="165.3" r="2.1" fill="#6a64bc"/>
<circle cx="1140.7" cy="91.1" r="2.3" fill="#4a4aa0"/>
<circle cx="1217.7" cy="144.7" r="2.6" fill="#6a64bc"/>
<circle cx="1178.6" cy="203.1" r="1.9" fill="#6e6ac8"/>
<circle cx="1348.3" cy="255.2" r="2.2" fill="#5a56b0"/>
<circle cx="1426.0" cy="66.5" r="2.4" fill="#5a56b0"/>
<circle cx="1128.0" cy="93.2" r="1.9" fill="#5a56b0"/>
<circle cx="1205.4" cy="206.4" r="2.6" fill="#4a4aa0"/>
<circle cx="1145.3" cy="157.7" r="2.4" fill="#6e6ac8"/>
<circle cx="1128.0" cy="122.5" r="2.2" fill="#7a72c4"/>
<circle cx="1332.9" cy="256.6" r="2.6" fill="#6a64bc"/>
<circle cx="1247.6" cy="135.0" r="2.1" fill="#44407a"/>
<circle cx="1198.4" cy="218.6" r="2.2" fill="#4a4aa0"/>
<circle cx="1206.9" cy="191.9" r="1.8" fill="#4a4aa0"/>
<circle cx="1396.5" cy="230.9" r="2.3" fill="#4a4aa0"/>
<circle cx="1128.6" cy="280.1" r="2.5" fill="#44407a"/>
<circle cx="1178.2" cy="239.6" r="1.9" fill="#4a4aa0"/>
<circle cx="1339.3" cy="250.5" r="1.7" fill="#6a64bc"/>
<circle cx="1330.7" cy="217.7" r="2.2" fill="#5a56b0"/>
<circle cx="1109.9" cy="262.0" r="2.0" fill="#44407a"/>
<circle cx="1228.2" cy="259.9" r="1.8" fill="#4a4aa0"/>
<circle cx="1381.6" cy="154.4" r="1.7" fill="#7a72c4"/>
<circle cx="1228.4" cy="73.6" r="1.9" fill="#6a64bc"/>
<circle cx="1318.1" cy="189.7" r="2.4" fill="#5a56b0"/>
<circle cx="1279.5" cy="145.8" r="1.7" fill="#44407a"/>
<circle cx="1349.0" cy="143.0" r="2.5" fill="#4a4aa0"/>
<circle cx="1367.1" cy="203.6" r="2.5" fill="#4a4aa0"/>
<circle cx="1339.6" cy="210.9" r="2.6" fill="#6e6ac8"/>
<circle cx="1405.7" cy="242.1" r="2.5" fill="#44407a"/>
<circle cx="1229.5" cy="234.7" r="2.4" fill="#44407a"/>
<circle cx="1254.1" cy="199.3" r="2.3" fill="#44407a"/>
<circle cx="1187.8" cy="291.6" r="2.2" fill="#6a64bc"/>
<circle cx="1146.0" cy="66.6" r="2.5" fill="#4a4aa0"/>
<circle cx="1130.9" cy="122.5" r="2.2" fill="#4a4aa0"/>
<circle cx="1289.2" cy="72.2" r="2.0" fill="#4a4aa0"/>
<circle cx="1317.9" cy="249.2" r="2.5" fill="#44407a"/>
<circle cx="1107.0" cy="136.0" r="2.4" fill="#4a4aa0"/>
<circle cx="1379.3" cy="168.6" r="1.7" fill="#5a56b0"/>
<circle cx="1255.1" cy="292.9" r="2.2" fill="#44407a"/>
<circle cx="1174.0" cy="76.9" r="2.6" fill="#4a4aa0"/>
<circle cx="1395.4" cy="194.2" r="2.7" fill="#7a72c4"/>
<circle cx="1161.6" cy="245.3" r="2.0" fill="#7a72c4"/>
<circle cx="1144.5" cy="213.0" r="1.8" fill="#44407a"/>
<circle cx="1316.8" cy="118.4" r="2.4" fill="#6a64bc"/>
</g></g>
<rect x="30.1" y="62.1" width="327.4" height="240.5" fill="none" stroke="#000" stroke-width="2"/>
<rect x="385.8" y="63" width="327.9" height="240.5" fill="none" stroke="#000" stroke-width="2"/>
<rect x="750.1" y="62" width="327.6" height="239.8" fill="none" stroke="#000" stroke-width="2"/>
<rect x="1102.2" y="62" width="328.1" height="239.6" fill="none" stroke="#000" stroke-width="2"/>
<rect x="105" y="122" width="177" height="119" fill="none" stroke="#000" stroke-width="2"/>
<rect x="824" y="122" width="177.6" height="118.9" fill="none" stroke="#000" stroke-width="2"/>
<line x1="282" y1="122" x2="386" y2="63" stroke="#000" stroke-width="2" />
<line x1="282" y1="241" x2="386" y2="303.5" stroke="#000" stroke-width="2" />
<line x1="1001.6" y1="122" x2="1102.2" y2="62" stroke="#000" stroke-width="2" />
<line x1="1001.6" y1="240.9" x2="1102.2" y2="301.6" stroke="#000" stroke-width="2" />
<line x1="43.6" y1="296.4" x2="116.4" y2="296.4" stroke="#111" stroke-width="1.6" />
<line x1="400.7" y1="296.2" x2="474" y2="296.2" stroke="#111" stroke-width="1.6" />
<line x1="765.6" y1="296.6" x2="838.9" y2="296.6" stroke="#111" stroke-width="1.6" />
<line x1="1117.4" y1="296.7" x2="1190.6" y2="296.7" stroke="#111" stroke-width="1.6" />
<text transform="translate(33.87,288.60) scale(1.0,1.06)" font-size="28.4" fill="#000">200 µm</text>
<text transform="translate(391.85,288.60) scale(1.0,1.06)" font-size="28.2" fill="#000">100 µm</text>
<text transform="translate(755.47,288.70) scale(1.0,1.06)" font-size="28.4" fill="#000">200 µm</text>
<text transform="translate(1108.57,288.70) scale(1.0,1.06)" font-size="27.9" fill="#000">100 µm</text>
<text transform="translate(3.34,21.80) scale(1.0,1.025)" font-size="28.4" fill="#000">A</text>
<text transform="translate(339.67,44.50) scale(1.0,1.035)" font-size="28.35" fill="#000">HCC</text>
<text transform="translate(1026.37,45.40) scale(1.0,1.05)" font-size="28.45" fill="#000">Nontumor</text>
<text transform="translate(-0.51,362.30) scale(1.0,1.03)" font-size="28.8" fill="#000">B</text>
<text transform="translate(496.43,361.80) scale(1.0,1.03)" font-size="29.0" fill="#000">C</text>
<text transform="translate(968.54,361.80) scale(1.0,1.03)" font-size="28.8" fill="#000">D</text>
<line x1="144" y1="413.5" x2="144" y2="667" stroke="#000" stroke-width="2.2" />
<line x1="133.5" y1="666" x2="435.8" y2="666" stroke="#000" stroke-width="2.2" />
<line x1="133.5" y1="437.5" x2="144" y2="437.5" stroke="#000" stroke-width="2.2" />
<text transform="translate(84.99,447.43) scale(1.0,1.05)" font-size="27.5" fill="#000">100</text>
<line x1="133.5" y1="494.6" x2="144" y2="494.6" stroke="#000" stroke-width="2.2" />
<text transform="translate(100.37,504.53) scale(1.0,1.05)" font-size="27.5" fill="#000">75</text>
<line x1="133.5" y1="551.2" x2="144" y2="551.2" stroke="#000" stroke-width="2.2" />
<text transform="translate(100.29,561.13) scale(1.0,1.05)" font-size="27.5" fill="#000">50</text>
<line x1="133.5" y1="608.6" x2="144" y2="608.6" stroke="#000" stroke-width="2.2" />
<text transform="translate(100.37,618.53) scale(1.0,1.05)" font-size="27.5" fill="#000">25</text>
<line x1="133.5" y1="666" x2="144" y2="666" stroke="#000" stroke-width="2.2" />
<text transform="translate(115.58,675.93) scale(1.0,1.05)" font-size="27.5" fill="#000">0</text>
<line x1="144.0" y1="666" x2="144.0" y2="676.5" stroke="#000" stroke-width="2.2" />
<text transform="translate(136.13,705.70) scale(1.0,1.0)" font-size="28.3" fill="#000">0</text>
<line x1="202.16" y1="666" x2="202.16" y2="676.5" stroke="#000" stroke-width="2.2" />
<text transform="translate(186.26,705.70) scale(1.0,1.0)" font-size="28.3" fill="#000">20</text>
<line x1="260.32" y1="666" x2="260.32" y2="676.5" stroke="#000" stroke-width="2.2" />
<text transform="translate(244.81,705.70) scale(1.0,1.0)" font-size="28.3" fill="#000">40</text>
<line x1="318.48" y1="666" x2="318.48" y2="676.5" stroke="#000" stroke-width="2.2" />
<text transform="translate(302.58,705.70) scale(1.0,1.0)" font-size="28.3" fill="#000">60</text>
<line x1="376.64" y1="666" x2="376.64" y2="676.5" stroke="#000" stroke-width="2.2" />
<text transform="translate(360.84,705.70) scale(1.0,1.0)" font-size="28.3" fill="#000">80</text>
<line x1="434.8" y1="666" x2="434.8" y2="676.5" stroke="#000" stroke-width="2.2" />
<text transform="translate(410.67,705.70) scale(1.0,1.0)" font-size="28.3" fill="#000">100</text>
<text transform="translate(243.29,734.20) scale(1.0,1.035)" font-size="28.2" fill="#000">Months</text>
<text transform="translate(155.82,657.10) scale(1.0,1.13)" font-size="25.4" fill="#000">P=0.0177</text>
<text transform="translate(73.94,655.84) rotate(-90) scale(1,1.035)" font-size="28.3" fill="#000">Overall survival (%)</text>
<line x1="253.8" y1="420.9" x2="281.1" y2="420.9" stroke="#2020ff" stroke-width="1.6" />
<line x1="267.5" y1="420.9" x2="267.5" y2="415.9" stroke="#2020ff" stroke-width="1.6" />
<line x1="253.8" y1="454.2" x2="281.1" y2="454.2" stroke="#ff2020" stroke-width="1.6" />
<line x1="267.5" y1="454.2" x2="267.5" y2="449.2" stroke="#ff2020" stroke-width="1.6" />
<text transform="translate(295.51,430.80) scale(1.0,1.035)" font-size="27.9" fill="#000">Low TRIM55</text>
<text transform="translate(296.00,464.00) scale(1.0,1.035)" font-size="28.0" fill="#000">High TRIM55</text>
<path d="M144,437.5 H178.5 V451.2 H184.5 V458.4 H199.1 V464.7 H208 V471.9 H210.7 V479 H222.4 V485.7 H237 V493 H252 V499.7 H400.6" fill="none" stroke="#ff2020" stroke-width="1.5" stroke-linejoin="miter"/>
<path d="M239.4,493 v-4.5" fill="none" stroke="#ff2020" stroke-width="2.0"/>
<path d="M277.8,499.7 v-4.5 M288.9,499.7 v-4.5 M291,499.7 v-4.5 M293.6,499.7 v-4.5 M303.7,499.7 v-4.5 M312.8,499.7 v-4.5 M320.7,499.7 v-4.5 M323.9,499.7 v-4.5 M329.4,499.7 v-4.5 M350.1,499.7 v-4.5 M381.9,499.7 v-4.5 M393.8,499.7 v-4.5 M400.1,499.7 v-4.5" fill="none" stroke="#ff2020" stroke-width="2.0"/>
<path d="M144,437.5 H145 V440.1 H155.4 V447.3 H158.3 V450.4 H164.2 V460.8 H166.7 V463.2 H169.4 V470.3 H172.6 V480.3 H175.8 V493.4 H178.2 V496.2 H190 V499.4 H195.6 V502.9 H198.8 V506 H202 V509.6 H216 V513.2 H219.5 V516.4 H222.7 V519.6 H225.9 V522.8 H228.2 V526 H233.8 V529.6 H245.7 V533.9 H251.5 V536.6 H271.4 V540.1 H296.9 V542 H297.7 V544.3 H306.4 V553.1 H320.7 V555.9 H323.1 V558.6 H326.3 V565 H399.7 V589.6 H408.9" fill="none" stroke="#2020ff" stroke-width="1.5" stroke-linejoin="miter"/>
<path d="M187.7,496.2 v-4.5 M230.6,526 v-4.5 M257.1,536.6 v-4.5 M260.3,536.6 v-4.5 M274.6,540.1 v-4.5 M286.5,540.1 v-4.5 M292.1,540.1 v-4.5 M295.3,540.1 v-4.5 M315.1,553.1 v-4.5 M318.3,553.1 v-4.5 M324.5,558.6 v-4.5" fill="none" stroke="#2020ff" stroke-width="2.0"/>
<path d="M332.6,565 v-4.5 M335.8,565 v-4.5 M356.5,565 v-4.5 M362,565 v-4.5 M367.6,565 v-4.5 M373.1,565 v-4.5 M381.9,565 v-4.5 M390.6,565 v-4.5" fill="none" stroke="#2020ff" stroke-width="2.0"/>
<path d="M400.5,589.6 v-4.5 M403,589.6 v-4.5 M408,589.6 v-4.5" fill="none" stroke="#2020ff" stroke-width="2.0"/>
<line x1="623.8" y1="423.4" x2="623.8" y2="671.5" stroke="#000" stroke-width="2.2" />
<line x1="613.5" y1="670.4" x2="910" y2="670.4" stroke="#000" stroke-width="2.2" />
<line x1="613.5" y1="447" x2="623.8" y2="447" stroke="#000" stroke-width="2.2" />
<text transform="translate(564.59,456.93) scale(1.0,1.05)" font-size="27.5" fill="#000">100</text>
<line x1="613.5" y1="502.9" x2="623.8" y2="502.9" stroke="#000" stroke-width="2.2" />
<text transform="translate(579.97,512.83) scale(1.0,1.05)" font-size="27.5" fill="#000">75</text>
<line x1="613.5" y1="558.4" x2="623.8" y2="558.4" stroke="#000" stroke-width="2.2" />
<text transform="translate(579.89,568.33) scale(1.0,1.05)" font-size="27.5" fill="#000">50</text>
<line x1="613.5" y1="614.2" x2="623.8" y2="614.2" stroke="#000" stroke-width="2.2" />
<text transform="translate(579.97,624.13) scale(1.0,1.05)" font-size="27.5" fill="#000">25</text>
<line x1="613.5" y1="670.4" x2="623.8" y2="670.4" stroke="#000" stroke-width="2.2" />
<text transform="translate(595.18,680.33) scale(1.0,1.05)" font-size="27.5" fill="#000">0</text>
<line x1="623.8" y1="670.4" x2="623.8" y2="680.9" stroke="#000" stroke-width="2.2" />
<text transform="translate(615.93,709.00) scale(1.0,1.0)" font-size="28.3" fill="#000">0</text>
<line x1="680.8399999999999" y1="670.4" x2="680.8399999999999" y2="680.9" stroke="#000" stroke-width="2.2" />
<text transform="translate(664.94,709.00) scale(1.0,1.0)" font-size="28.3" fill="#000">20</text>
<line x1="737.88" y1="670.4" x2="737.88" y2="680.9" stroke="#000" stroke-width="2.2" />
<text transform="translate(722.37,709.00) scale(1.0,1.0)" font-size="28.3" fill="#000">40</text>
<line x1="794.92" y1="670.4" x2="794.92" y2="680.9" stroke="#000" stroke-width="2.2" />
<text transform="translate(779.02,709.00) scale(1.0,1.0)" font-size="28.3" fill="#000">60</text>
<line x1="851.96" y1="670.4" x2="851.96" y2="680.9" stroke="#000" stroke-width="2.2" />
<text transform="translate(836.16,709.00) scale(1.0,1.0)" font-size="28.3" fill="#000">80</text>
<line x1="909.0" y1="670.4" x2="909.0" y2="680.9" stroke="#000" stroke-width="2.2" />
<text transform="translate(884.87,709.00) scale(1.0,1.0)" font-size="28.3" fill="#000">100</text>
<text transform="translate(721.34,736.60) scale(1.0,1.035)" font-size="27.5" fill="#000">Months</text>
<text transform="translate(640.20,656.60) scale(1.0,1.17)" font-size="24.4" fill="#000">P=0.0087</text>
<text transform="translate(553.33,683.62) rotate(-90) scale(1,1.035)" font-size="27.4" fill="#000">Tumor-free survival (%)</text>
<line x1="741.4" y1="404.7" x2="767.6" y2="404.7" stroke="#2020ff" stroke-width="1.6" />
<line x1="754.6" y1="404.7" x2="754.6" y2="399.9" stroke="#2020ff" stroke-width="1.6" />
<line x1="741.4" y1="442.2" x2="767.6" y2="442.2" stroke="#ff2020" stroke-width="1.6" />
<line x1="754.6" y1="442.2" x2="754.6" y2="437.4" stroke="#ff2020" stroke-width="1.6" />
<text transform="translate(781.67,414.10) scale(1.0,1.035)" font-size="27.2" fill="#000">Low TRIM55</text>
<text transform="translate(781.64,451.80) scale(1.0,1.035)" font-size="27.5" fill="#000">High TRIM55</text>
<path d="M624,447 H648.9 V454.1 H652.6 V461.2 H658.2 V468.4 H663.4 V476.3 H675.3 V483.5 H686.5 V491 H700.8 V498.3 H703.5 V506.2 H706.6 V513.2 H709.5 V521.2 H729.4 V528.8 H760.7 V537.2 H875.5" fill="none" stroke="#ff2020" stroke-width="1.5" stroke-linejoin="miter"/>
<path d="M640.7,447 v-4.5 M646.7,447 v-4.5" fill="none" stroke="#ff2020" stroke-width="2.0"/>
<path d="M655.3,461.2 v-4.5 M717.8,521.2 v-4.5 M755,528.8 v-4.5" fill="none" stroke="#ff2020" stroke-width="2.0"/>
<path d="M766.6,537.2 v-4.5 M769.3,537.2 v-4.5 M772,537.2 v-4.5 M780.4,537.2 v-4.5 M789.3,537.2 v-4.5 M797.6,537.2 v-4.5 M800.6,537.2 v-4.5 M806.3,537.2 v-4.5 M826.2,537.2 v-4.5 M868.7,537.2 v-4.5 M875,537.2 v-4.5" fill="none" stroke="#ff2020" stroke-width="2.0"/>
<path d="M624,447 H626.4 V449.6 H632.2 V463.3 H635.1 V472.4 H637.8 V478.7 H640.7 V481.9 H643.8 V498.3 H649.4 V501 H652.6 V511 H655.3 V523.7 H658.2 V532.8 H663.7 V535.2 H669.3 V545.5 H678 V552.4 H695.1 V555.9 H706.2 V559.3 H715 V562.4 H723.7 V565.6 H726.4 V572.8 H760.7 V575.9 H773.7 V578 H774.9 V580.7 H784.1 V585.4 H877.6 V612.9 H883.8" fill="none" stroke="#2020ff" stroke-width="1.5" stroke-linejoin="miter"/>
<path d="M666.6,535.2 v-4.5 M703.8,555.9 v-4.5 M738,572.8 v-4.5 M752.3,572.8 v-4.5 M763.4,575.9 v-4.5 M768.8,575.9 v-4.5 M771.5,575.9 v-4.5" fill="none" stroke="#2020ff" stroke-width="2.0"/>
<path d="M795.2,585.4 v-4.5 M797.5,585.4 v-4.5 M803.1,585.4 v-4.5 M811.9,585.4 v-4.5 M831.8,585.4 v-4.5 M837.4,585.4 v-4.5 M842.9,585.4 v-4.5 M857.6,585.4 v-4.5 M874.7,585.4 v-4.5" fill="none" stroke="#2020ff" stroke-width="2.0"/>
<path d="M878,612.9 v-4.5 M880.5,612.9 v-4.5 M883,612.9 v-4.5" fill="none" stroke="#2020ff" stroke-width="2.0"/>
<rect x="1073.5" y="350.2" width="354.4000000000001" height="336.59999999999997" fill="none" stroke="#333" stroke-width="1.4"/>
<line x1="1073.5" y1="686.9" x2="1427.9" y2="686.9" stroke="#333" stroke-width="1.9" />
<line x1="1064.3" y1="362.4" x2="1073.5" y2="362.4" stroke="#333" stroke-width="1.3" />
<text transform="translate(1018.52,371.70) scale(1.0,1.0)" font-size="29.0" fill="#000">1.0</text>
<line x1="1064.3" y1="424.82" x2="1073.5" y2="424.82" stroke="#333" stroke-width="1.3" />
<text transform="translate(1018.65,434.12) scale(1.0,1.0)" font-size="29.0" fill="#000">0.8</text>
<line x1="1064.3" y1="487.24" x2="1073.5" y2="487.24" stroke="#333" stroke-width="1.3" />
<text transform="translate(1018.66,496.54) scale(1.0,1.0)" font-size="29.0" fill="#000">0.6</text>
<line x1="1064.3" y1="549.66" x2="1073.5" y2="549.66" stroke="#333" stroke-width="1.3" />
<text transform="translate(1018.24,558.96) scale(1.0,1.0)" font-size="29.0" fill="#000">0.4</text>
<line x1="1064.3" y1="612.0799999999999" x2="1073.5" y2="612.0799999999999" stroke="#333" stroke-width="1.3" />
<text transform="translate(1018.84,621.38) scale(1.0,1.0)" font-size="29.0" fill="#000">0.2</text>
<line x1="1064.3" y1="674.5" x2="1073.5" y2="674.5" stroke="#333" stroke-width="1.3" />
<text transform="translate(1018.52,683.80) scale(1.0,1.0)" font-size="29.0" fill="#000">0.0</text>
<line x1="1073.5" y1="686.8" x2="1073.5" y2="694.6" stroke="#333" stroke-width="1.3" />
<text transform="translate(1065.49,720.70) scale(1.0,1.0)" font-size="28.8" fill="#000">0</text>
<line x1="1132.3" y1="686.8" x2="1132.3" y2="694.6" stroke="#333" stroke-width="1.3" />
<text transform="translate(1116.12,720.70) scale(1.0,1.0)" font-size="28.8" fill="#000">20</text>
<line x1="1191.1" y1="686.8" x2="1191.1" y2="694.6" stroke="#333" stroke-width="1.3" />
<text transform="translate(1175.31,720.70) scale(1.0,1.0)" font-size="28.8" fill="#000">40</text>
<line x1="1249.9" y1="686.8" x2="1249.9" y2="694.6" stroke="#333" stroke-width="1.3" />
<text transform="translate(1233.71,720.70) scale(1.0,1.0)" font-size="28.8" fill="#000">60</text>
<line x1="1308.7" y1="686.8" x2="1308.7" y2="694.6" stroke="#333" stroke-width="1.3" />
<text transform="translate(1292.62,720.70) scale(1.0,1.0)" font-size="28.8" fill="#000">80</text>
<line x1="1367.5" y1="686.8" x2="1367.5" y2="694.6" stroke="#333" stroke-width="1.3" />
<text transform="translate(1342.94,720.70) scale(1.0,1.0)" font-size="28.8" fill="#000">100</text>
<line x1="1426.3" y1="686.8" x2="1426.3" y2="694.6" stroke="#333" stroke-width="1.3" />
<text transform="translate(1401.74,720.70) scale(1.0,1.0)" font-size="28.8" fill="#000">120</text>
<text transform="translate(1202.25,752.60) scale(1.0,1.0)" font-size="28.6" fill="#000">Months</text>
<text transform="translate(1006.70,619.85) rotate(-90) scale(1,1.0)" font-size="28.7" fill="#000">Percent survival</text>
<line x1="1265.2" y1="365.8" x2="1293.1" y2="365.8" stroke="#0000ff" stroke-width="2.4" />
<line x1="1265.2" y1="380.1" x2="1293.1" y2="380.1" stroke="#ff0000" stroke-width="2.4" />
<text transform="translate(1298.79,371.40) scale(1.0,1.0)" font-size="14.8" fill="#222">Low TRIM55 TPM</text>
<text transform="translate(1298.79,385.30) scale(1.0,1.0)" font-size="14.8" fill="#222">High TRIM55 TPM</text>
<text transform="translate(1307.64,402.40) scale(1.0,1.0)" font-size="14.8" fill="#222">Logrank p=0.013</text>
<text transform="translate(1322.27,420.40) scale(1.0,1.0)" font-size="14.8" fill="#222">HR(high)=0.54</text>
<text transform="translate(1333.79,438.20) scale(1.0,1.0)" font-size="14.8" fill="#222">p(HR)=0.014</text>
<text transform="translate(1348.05,456.10) scale(1.0,1.0)" font-size="14.8" fill="#222">n(high)=91</text>
<text transform="translate(1353.82,473.90) scale(1.0,1.0)" font-size="14.8" fill="#222">n(low)=91</text>
<path d="M1075,362.7 L1087,362.7 L1087,367 L1100,367 L1100,371.4 L1112,371.4 L1112,377.4 L1118,377.4 L1118,382.5 L1125,382.5 L1125,386.9 L1135,386.9 L1135,391.2 L1140,391.2 L1140,399.8 L1154,399.8 L1154,405.3 L1194,405.3 L1194,417.4 L1213,417.4 L1213,432.1 L1232,432.1 L1232,441.6 L1238,441.6 L1238,452 L1241,452 L1241,460.9 L1381.7,460.9 L1381.7,372.2 L1411,372.2" fill="none" stroke="#ff3030" stroke-width="1.6" stroke-dasharray="1.6 3.2"/>
<path d="M1075,366 L1080,366 L1080,374 L1087,374 L1087,386 L1090.7,386 L1090.7,396.3 L1092.4,396.3 L1092.4,400.6 L1100,400.6 L1100,406.7 L1115.6,406.7 L1115.6,413.5 L1118,413.5 L1118,423.9 L1121.6,423.9 L1121.6,430.8 L1129.4,430.8 L1129.4,439.4 L1138.9,439.4 L1138.9,448 L1140.6,448 L1140.6,456.6 L1146.6,456.6 L1146.6,465.2 L1154.4,465.2 L1154.4,476.2 L1198,476.2 L1198,503.9 L1213,503.9 L1213,530.6 L1233,530.6 L1233,546.1 L1238,546.1 L1238,561.1 L1241,561.1 L1241,578.3 L1382,578.3 L1382,657.4 L1408.3,657.4" fill="none" stroke="#ff3030" stroke-width="1.6" stroke-dasharray="1.6 3.2"/>
<path d="M1076,365 L1082,365 L1082,370 L1086,370 L1086,376 L1092.4,376 L1092.4,381.7 L1100,381.7 L1100,390 L1105.3,390 L1105.3,401.5 L1113,401.5 L1113,407.5 L1120,407.5 L1120,418.7 L1126.8,418.7 L1126.8,421.3 L1134.6,421.3 L1134.6,430.8 L1142.3,430.8 L1142.3,437.6 L1149.2,437.6 L1149.2,442.8 L1156,442.8 L1156,450.6 L1158,450.6 L1158,467.4 L1185,467.4 L1185,487.7 L1222,487.7 L1222,497.2 L1238,497.2 L1238,511.5 L1285,511.5 L1285,515.1 L1393,515.1 L1393,490.5 L1410.8,490.5" fill="none" stroke="#3030ff" stroke-width="1.6" stroke-dasharray="1.6 3.2"/>
<path d="M1076,372 L1080,372 L1080,389.4 L1085.5,389.4 L1085.5,413.5 L1089,413.5 L1089,420.4 L1095.8,420.4 L1095.8,425.6 L1102.7,425.6 L1102.7,435 L1105.3,435 L1105.3,444.5 L1106,444.5 L1106,458.3 L1114.8,458.3 L1114.8,465.2 L1117.3,465.2 L1117.3,481.5 L1125,481.5 L1125,483.3 L1130,483.3 L1130,491.3 L1137,491.3 L1137,504.4 L1150,504.4 L1150,516.3 L1165,516.3 L1165,544.9 L1187,544.9 L1187,572.3 L1222,572.3 L1222,583.1 L1235,583.1 L1235,597.4 L1241,597.4 L1241,609.3 L1284.4,609.3 L1284.4,636.7 L1393,636.7 L1393,666.5 L1413.8,666.5" fill="none" stroke="#3030ff" stroke-width="1.6" stroke-dasharray="1.6 3.2"/>
<path d="M1073.5,362.4 H1077.7 V365.7 H1085.2 V373.1 H1087.2 V376.5 H1090.7 V383.4 H1100.1 V386.9 H1102.7 V391.2 H1115.6 V399.8 H1118.2 V404.9 H1120.8 V409.8 H1129.4 V414.4 H1138.9 V421.3 H1140.6 V428.2 H1146.6 V435.1 H1155.2 V442.9 H1193.9 V453.8 H1199.6 V464.6 H1211.8 V477 H1214.6 V488.2 H1229.7 V501.5 H1234.9 V515.8 H1240.9 V532.2 H1382.4 V602.6 H1415.3" fill="none" stroke="#ff0000" stroke-width="2.6" stroke-linejoin="miter"/>
<path d="M1073.5,362.4 H1075 V367 H1077.7 V369.6 H1080.3 V373.1 H1082.9 V380 H1085.2 V393.7 H1087.2 V400.6 H1089.8 V403.2 H1095.8 V406.7 H1100.1 V411.8 H1102.7 V419.6 H1105.3 V434.2 H1108.7 V437.6 H1115.6 V448.8 H1117.3 V454 H1126.8 V456.6 H1129.4 V461.7 H1134.5 V466 H1138 V470 H1142.3 V474 H1150 V485 H1155.8 V490.1 H1158.6 V497.2 H1161 V503.9 H1167 V510.8 H1185.3 V518.7 H1187.9 V536.6 H1220.6 V546.6 H1234.9 V558.5 H1240.9 V572.1 H1285 V597.7 H1394 V636.1 H1418.4" fill="none" stroke="#0000ff" stroke-width="2.6" stroke-linejoin="miter"/>
<path d="M1096.5,381.4 v11.0 M1106,385.7 v11.0 M1108.5,385.7 v11.0 M1111,385.7 v11.0 M1113.5,385.7 v11.0 M1122,404.3 v11.0 M1125,404.3 v11.0 M1127,404.3 v11.0 M1131,408.9 v11.0 M1134,408.9 v11.0 M1136.5,408.9 v11.0 M1143,422.7 v11.0 M1150,429.6 v11.0 M1152.5,429.6 v11.0 M1162,437.4 v11.0 M1165,437.4 v11.0 M1180,437.4 v11.0 M1182.5,437.4 v11.0 M1188,437.4 v11.0 M1196,448.3 v11.0 M1205,459.1 v11.0 M1217,482.7 v11.0 M1231,496.0 v11.0 M1233.5,496.0 v11.0 M1273.7,526.7 v11.0 M1281.9,526.7 v11.0 M1293.5,526.7 v11.0 M1302.6,526.7 v11.0 M1311.8,526.7 v11.0 M1314.2,526.7 v11.0 M1343.8,526.7 v11.0 M1411.4,597.1 v11.0" fill="none" stroke="#ff0000" stroke-width="1.4"/>
<path d="M1092,397.7 v11.0 M1097,401.2 v11.0 M1114,432.1 v11.0 M1117,443.3 v11.0 M1128,451.1 v11.0 M1131,456.2 v11.0 M1145,468.5 v11.0 M1173,505.3 v11.0 M1183,505.3 v11.0 M1197,531.1 v11.0 M1209,531.1 v11.0 M1225,541.1 v11.0 M1243,566.6 v11.0 M1251,566.6 v11.0 M1254,566.6 v11.0 M1267.6,566.6 v11.0 M1320.9,592.2 v11.0 M1414.7,630.6 v11.0" fill="none" stroke="#0000ff" stroke-width="1.4"/>
</svg>
</body></html>
